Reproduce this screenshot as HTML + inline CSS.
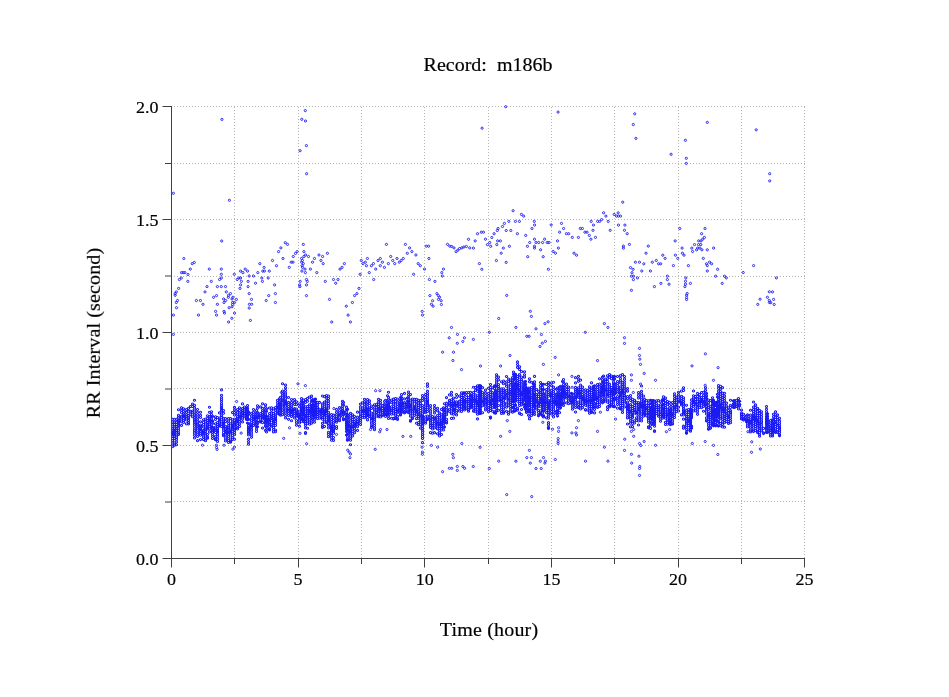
<!DOCTYPE html>
<html><head><meta charset="utf-8"><style>html,body{margin:0;padding:0;background:#fff;}svg{display:block;} text{will-change:transform;}</style></head>
<body><svg width="949" height="697" viewBox="0 0 949 697" shape-rendering="auto">
<g stroke="#b4b4b4" stroke-width="1" stroke-dasharray="1 2"><line x1="234.5" y1="107" x2="234.5" y2="558"/><line x1="298.5" y1="107" x2="298.5" y2="558"/><line x1="361.5" y1="107" x2="361.5" y2="558"/><line x1="424.5" y1="107" x2="424.5" y2="558"/><line x1="488.5" y1="107" x2="488.5" y2="558"/><line x1="551.5" y1="107" x2="551.5" y2="558"/><line x1="614.5" y1="107" x2="614.5" y2="558"/><line x1="678.5" y1="107" x2="678.5" y2="558"/><line x1="741.5" y1="107" x2="741.5" y2="558"/><line x1="804.5" y1="107" x2="804.5" y2="558"/><line x1="174" y1="163.5" x2="806" y2="163.5"/><line x1="174" y1="219.5" x2="806" y2="219.5"/><line x1="174" y1="276.5" x2="806" y2="276.5"/><line x1="174" y1="332.5" x2="806" y2="332.5"/><line x1="174" y1="388.5" x2="806" y2="388.5"/><line x1="174" y1="445.5" x2="806" y2="445.5"/><line x1="174" y1="501.5" x2="806" y2="501.5"/><line x1="174" y1="106.5" x2="806" y2="106.5"/></g><path fill="none" stroke="#1a1af2" stroke-width="1.05" d="M172.5 418.16a1.05 1.05 0 1 0 .01 0M172.5 420.91a1.05 1.05 0 1 0 .01 0M172.5 423.62a1.05 1.05 0 1 0 .01 0M172.5 425.67a1.05 1.05 0 1 0 .01 0M172.5 427.47a1.05 1.05 0 1 0 .01 0M172.5 429.31a1.05 1.05 0 1 0 .01 0M172.5 430.88a1.05 1.05 0 1 0 .01 0M172.5 432.51a1.05 1.05 0 1 0 .01 0M172.5 433.79a1.05 1.05 0 1 0 .01 0M172.5 435.49a1.05 1.05 0 1 0 .01 0M172.5 437.57a1.05 1.05 0 1 0 .01 0M172.5 439.63a1.05 1.05 0 1 0 .01 0M172.5 441.85a1.05 1.05 0 1 0 .01 0M172.5 443.95a1.05 1.05 0 1 0 .01 0M172.5 445.73a1.05 1.05 0 1 0 .01 0M174.5 418.16a1.05 1.05 0 1 0 .01 0M174.5 421.03a1.05 1.05 0 1 0 .01 0M174.5 423.44a1.05 1.05 0 1 0 .01 0M174.5 425.91a1.05 1.05 0 1 0 .01 0M174.5 427.81a1.05 1.05 0 1 0 .01 0M174.5 429.46a1.05 1.05 0 1 0 .01 0M174.5 430.93a1.05 1.05 0 1 0 .01 0M174.5 432.61a1.05 1.05 0 1 0 .01 0M174.5 434.00a1.05 1.05 0 1 0 .01 0M174.5 435.64a1.05 1.05 0 1 0 .01 0M174.5 437.56a1.05 1.05 0 1 0 .01 0M174.5 441.81a1.05 1.05 0 1 0 .01 0M174.5 444.11a1.05 1.05 0 1 0 .01 0M176.5 418.16a1.05 1.05 0 1 0 .01 0M176.5 421.13a1.05 1.05 0 1 0 .01 0M176.5 423.53a1.05 1.05 0 1 0 .01 0M176.5 425.82a1.05 1.05 0 1 0 .01 0M176.5 427.54a1.05 1.05 0 1 0 .01 0M176.5 429.48a1.05 1.05 0 1 0 .01 0M176.5 431.20a1.05 1.05 0 1 0 .01 0M176.5 433.02a1.05 1.05 0 1 0 .01 0M176.5 434.92a1.05 1.05 0 1 0 .01 0M176.5 436.66a1.05 1.05 0 1 0 .01 0M176.5 438.64a1.05 1.05 0 1 0 .01 0M176.5 440.96a1.05 1.05 0 1 0 .01 0M176.5 443.66a1.05 1.05 0 1 0 .01 0M178.5 408.66a1.05 1.05 0 1 0 .01 0M178.5 414.28a1.05 1.05 0 1 0 .01 0M178.5 416.23a1.05 1.05 0 1 0 .01 0M178.5 418.00a1.05 1.05 0 1 0 .01 0M178.5 419.64a1.05 1.05 0 1 0 .01 0M178.5 421.11a1.05 1.05 0 1 0 .01 0M178.5 422.61a1.05 1.05 0 1 0 .01 0M178.5 424.31a1.05 1.05 0 1 0 .01 0M178.5 425.98a1.05 1.05 0 1 0 .01 0M178.5 427.66a1.05 1.05 0 1 0 .01 0M178.5 429.75a1.05 1.05 0 1 0 .01 0M178.5 432.01a1.05 1.05 0 1 0 .01 0M178.5 433.48a1.05 1.05 0 1 0 .01 0M181.5 406.68a1.05 1.05 0 1 0 .01 0M181.5 409.14a1.05 1.05 0 1 0 .01 0M181.5 411.57a1.05 1.05 0 1 0 .01 0M181.5 415.20a1.05 1.05 0 1 0 .01 0M181.5 416.76a1.05 1.05 0 1 0 .01 0M181.5 418.70a1.05 1.05 0 1 0 .01 0M181.5 420.70a1.05 1.05 0 1 0 .01 0M181.5 424.35a1.05 1.05 0 1 0 .01 0M183.5 407.75a1.05 1.05 0 1 0 .01 0M183.5 410.31a1.05 1.05 0 1 0 .01 0M183.5 412.76a1.05 1.05 0 1 0 .01 0M183.5 414.38a1.05 1.05 0 1 0 .01 0M183.5 415.64a1.05 1.05 0 1 0 .01 0M183.5 417.59a1.05 1.05 0 1 0 .01 0M183.5 419.62a1.05 1.05 0 1 0 .01 0M183.5 421.46a1.05 1.05 0 1 0 .01 0M186.5 408.40a1.05 1.05 0 1 0 .01 0M186.5 411.10a1.05 1.05 0 1 0 .01 0M186.5 413.43a1.05 1.05 0 1 0 .01 0M186.5 415.36a1.05 1.05 0 1 0 .01 0M186.5 417.08a1.05 1.05 0 1 0 .01 0M186.5 418.98a1.05 1.05 0 1 0 .01 0M186.5 422.80a1.05 1.05 0 1 0 .01 0M188.5 407.31a1.05 1.05 0 1 0 .01 0M188.5 410.20a1.05 1.05 0 1 0 .01 0M188.5 414.39a1.05 1.05 0 1 0 .01 0M188.5 416.28a1.05 1.05 0 1 0 .01 0M188.5 417.71a1.05 1.05 0 1 0 .01 0M188.5 419.37a1.05 1.05 0 1 0 .01 0M188.5 421.51a1.05 1.05 0 1 0 .01 0M188.5 422.92a1.05 1.05 0 1 0 .01 0M190.5 405.53a1.05 1.05 0 1 0 .01 0M190.5 410.18a1.05 1.05 0 1 0 .01 0M190.5 411.74a1.05 1.05 0 1 0 .01 0M190.5 413.74a1.05 1.05 0 1 0 .01 0M192.5 402.91a1.05 1.05 0 1 0 .01 0M192.5 405.40a1.05 1.05 0 1 0 .01 0M192.5 409.92a1.05 1.05 0 1 0 .01 0M192.5 411.61a1.05 1.05 0 1 0 .01 0M192.5 415.68a1.05 1.05 0 1 0 .01 0M194.5 399.24a1.05 1.05 0 1 0 .01 0M194.5 404.31a1.05 1.05 0 1 0 .01 0M194.5 406.84a1.05 1.05 0 1 0 .01 0M194.5 408.95a1.05 1.05 0 1 0 .01 0M194.5 411.06a1.05 1.05 0 1 0 .01 0M194.5 413.21a1.05 1.05 0 1 0 .01 0M194.5 414.76a1.05 1.05 0 1 0 .01 0M194.5 416.61a1.05 1.05 0 1 0 .01 0M194.5 418.44a1.05 1.05 0 1 0 .01 0M194.5 420.06a1.05 1.05 0 1 0 .01 0M194.5 421.88a1.05 1.05 0 1 0 .01 0M194.5 423.63a1.05 1.05 0 1 0 .01 0M194.5 425.68a1.05 1.05 0 1 0 .01 0M194.5 427.90a1.05 1.05 0 1 0 .01 0M194.5 429.80a1.05 1.05 0 1 0 .01 0M194.5 431.84a1.05 1.05 0 1 0 .01 0M194.5 434.23a1.05 1.05 0 1 0 .01 0M194.5 436.89a1.05 1.05 0 1 0 .01 0M197.5 408.40a1.05 1.05 0 1 0 .01 0M197.5 411.17a1.05 1.05 0 1 0 .01 0M197.5 413.66a1.05 1.05 0 1 0 .01 0M197.5 415.96a1.05 1.05 0 1 0 .01 0M197.5 418.20a1.05 1.05 0 1 0 .01 0M197.5 420.12a1.05 1.05 0 1 0 .01 0M197.5 421.94a1.05 1.05 0 1 0 .01 0M197.5 423.58a1.05 1.05 0 1 0 .01 0M197.5 425.38a1.05 1.05 0 1 0 .01 0M197.5 427.11a1.05 1.05 0 1 0 .01 0M197.5 429.07a1.05 1.05 0 1 0 .01 0M197.5 431.22a1.05 1.05 0 1 0 .01 0M197.5 433.13a1.05 1.05 0 1 0 .01 0M197.5 435.37a1.05 1.05 0 1 0 .01 0M197.5 439.64a1.05 1.05 0 1 0 .01 0M200.5 411.26a1.05 1.05 0 1 0 .01 0M200.5 414.16a1.05 1.05 0 1 0 .01 0M200.5 416.40a1.05 1.05 0 1 0 .01 0M200.5 420.67a1.05 1.05 0 1 0 .01 0M200.5 423.97a1.05 1.05 0 1 0 .01 0M200.5 425.45a1.05 1.05 0 1 0 .01 0M200.5 427.13a1.05 1.05 0 1 0 .01 0M200.5 428.54a1.05 1.05 0 1 0 .01 0M200.5 430.39a1.05 1.05 0 1 0 .01 0M200.5 432.34a1.05 1.05 0 1 0 .01 0M200.5 434.21a1.05 1.05 0 1 0 .01 0M200.5 438.50a1.05 1.05 0 1 0 .01 0M203.5 418.73a1.05 1.05 0 1 0 .01 0M203.5 421.33a1.05 1.05 0 1 0 .01 0M203.5 423.58a1.05 1.05 0 1 0 .01 0M203.5 425.87a1.05 1.05 0 1 0 .01 0M203.5 429.39a1.05 1.05 0 1 0 .01 0M203.5 430.84a1.05 1.05 0 1 0 .01 0M203.5 432.32a1.05 1.05 0 1 0 .01 0M203.5 434.03a1.05 1.05 0 1 0 .01 0M203.5 436.04a1.05 1.05 0 1 0 .01 0M203.5 438.51a1.05 1.05 0 1 0 .01 0M205.5 417.95a1.05 1.05 0 1 0 .01 0M205.5 420.67a1.05 1.05 0 1 0 .01 0M205.5 422.89a1.05 1.05 0 1 0 .01 0M205.5 425.01a1.05 1.05 0 1 0 .01 0M205.5 427.03a1.05 1.05 0 1 0 .01 0M205.5 428.59a1.05 1.05 0 1 0 .01 0M205.5 430.29a1.05 1.05 0 1 0 .01 0M205.5 432.26a1.05 1.05 0 1 0 .01 0M205.5 433.86a1.05 1.05 0 1 0 .01 0M205.5 437.89a1.05 1.05 0 1 0 .01 0M205.5 439.64a1.05 1.05 0 1 0 .01 0M207.5 414.66a1.05 1.05 0 1 0 .01 0M207.5 417.30a1.05 1.05 0 1 0 .01 0M207.5 419.63a1.05 1.05 0 1 0 .01 0M207.5 421.53a1.05 1.05 0 1 0 .01 0M207.5 423.28a1.05 1.05 0 1 0 .01 0M207.5 424.80a1.05 1.05 0 1 0 .01 0M207.5 426.56a1.05 1.05 0 1 0 .01 0M207.5 427.98a1.05 1.05 0 1 0 .01 0M207.5 433.40a1.05 1.05 0 1 0 .01 0M207.5 435.92a1.05 1.05 0 1 0 .01 0M207.5 437.17a1.05 1.05 0 1 0 .01 0M209.5 406.15a1.05 1.05 0 1 0 .01 0M209.5 411.26a1.05 1.05 0 1 0 .01 0M209.5 415.48a1.05 1.05 0 1 0 .01 0M209.5 417.03a1.05 1.05 0 1 0 .01 0M209.5 418.86a1.05 1.05 0 1 0 .01 0M209.5 420.18a1.05 1.05 0 1 0 .01 0M209.5 421.90a1.05 1.05 0 1 0 .01 0M209.5 423.66a1.05 1.05 0 1 0 .01 0M209.5 425.55a1.05 1.05 0 1 0 .01 0M209.5 427.81a1.05 1.05 0 1 0 .01 0M209.5 430.84a1.05 1.05 0 1 0 .01 0M211.5 410.70a1.05 1.05 0 1 0 .01 0M211.5 413.40a1.05 1.05 0 1 0 .01 0M211.5 415.87a1.05 1.05 0 1 0 .01 0M211.5 417.92a1.05 1.05 0 1 0 .01 0M211.5 419.66a1.05 1.05 0 1 0 .01 0M211.5 421.45a1.05 1.05 0 1 0 .01 0M211.5 423.71a1.05 1.05 0 1 0 .01 0M211.5 425.66a1.05 1.05 0 1 0 .01 0M212.5 415.29a1.05 1.05 0 1 0 .01 0M212.5 420.10a1.05 1.05 0 1 0 .01 0M212.5 422.47a1.05 1.05 0 1 0 .01 0M212.5 426.27a1.05 1.05 0 1 0 .01 0M212.5 427.83a1.05 1.05 0 1 0 .01 0M212.5 429.56a1.05 1.05 0 1 0 .01 0M212.5 431.11a1.05 1.05 0 1 0 .01 0M212.5 433.23a1.05 1.05 0 1 0 .01 0M212.5 435.28a1.05 1.05 0 1 0 .01 0M212.5 437.45a1.05 1.05 0 1 0 .01 0M215.5 415.79a1.05 1.05 0 1 0 .01 0M215.5 418.37a1.05 1.05 0 1 0 .01 0M215.5 422.72a1.05 1.05 0 1 0 .01 0M215.5 426.07a1.05 1.05 0 1 0 .01 0M215.5 427.79a1.05 1.05 0 1 0 .01 0M215.5 429.47a1.05 1.05 0 1 0 .01 0M215.5 431.32a1.05 1.05 0 1 0 .01 0M215.5 435.27a1.05 1.05 0 1 0 .01 0M215.5 437.60a1.05 1.05 0 1 0 .01 0M215.5 438.57a1.05 1.05 0 1 0 .01 0M217.5 416.44a1.05 1.05 0 1 0 .01 0M217.5 421.50a1.05 1.05 0 1 0 .01 0M217.5 423.56a1.05 1.05 0 1 0 .01 0M217.5 425.48a1.05 1.05 0 1 0 .01 0M217.5 427.35a1.05 1.05 0 1 0 .01 0M217.5 429.06a1.05 1.05 0 1 0 .01 0M217.5 430.47a1.05 1.05 0 1 0 .01 0M217.5 431.91a1.05 1.05 0 1 0 .01 0M217.5 433.65a1.05 1.05 0 1 0 .01 0M217.5 435.64a1.05 1.05 0 1 0 .01 0M217.5 438.05a1.05 1.05 0 1 0 .01 0M217.5 440.40a1.05 1.05 0 1 0 .01 0M219.5 411.85a1.05 1.05 0 1 0 .01 0M219.5 417.04a1.05 1.05 0 1 0 .01 0M219.5 418.70a1.05 1.05 0 1 0 .01 0M219.5 420.22a1.05 1.05 0 1 0 .01 0M219.5 421.94a1.05 1.05 0 1 0 .01 0M219.5 423.83a1.05 1.05 0 1 0 .01 0M219.5 424.82a1.05 1.05 0 1 0 .01 0M221.5 388.88a1.05 1.05 0 1 0 .01 0M221.5 394.28a1.05 1.05 0 1 0 .01 0M221.5 396.65a1.05 1.05 0 1 0 .01 0M221.5 398.67a1.05 1.05 0 1 0 .01 0M221.5 400.47a1.05 1.05 0 1 0 .01 0M221.5 402.67a1.05 1.05 0 1 0 .01 0M221.5 404.42a1.05 1.05 0 1 0 .01 0M221.5 406.17a1.05 1.05 0 1 0 .01 0M221.5 407.52a1.05 1.05 0 1 0 .01 0M221.5 409.26a1.05 1.05 0 1 0 .01 0M221.5 410.89a1.05 1.05 0 1 0 .01 0M221.5 412.88a1.05 1.05 0 1 0 .01 0M221.5 414.78a1.05 1.05 0 1 0 .01 0M221.5 416.58a1.05 1.05 0 1 0 .01 0M221.5 418.65a1.05 1.05 0 1 0 .01 0M221.5 420.77a1.05 1.05 0 1 0 .01 0M221.5 423.01a1.05 1.05 0 1 0 .01 0M221.5 425.49a1.05 1.05 0 1 0 .01 0M223.5 409.40a1.05 1.05 0 1 0 .01 0M223.5 412.15a1.05 1.05 0 1 0 .01 0M223.5 417.15a1.05 1.05 0 1 0 .01 0M223.5 419.06a1.05 1.05 0 1 0 .01 0M223.5 420.79a1.05 1.05 0 1 0 .01 0M223.5 422.42a1.05 1.05 0 1 0 .01 0M223.5 423.88a1.05 1.05 0 1 0 .01 0M223.5 425.47a1.05 1.05 0 1 0 .01 0M223.5 427.03a1.05 1.05 0 1 0 .01 0M223.5 428.88a1.05 1.05 0 1 0 .01 0M223.5 431.32a1.05 1.05 0 1 0 .01 0M223.5 433.49a1.05 1.05 0 1 0 .01 0M223.5 434.57a1.05 1.05 0 1 0 .01 0M225.5 417.59a1.05 1.05 0 1 0 .01 0M225.5 420.54a1.05 1.05 0 1 0 .01 0M225.5 425.30a1.05 1.05 0 1 0 .01 0M225.5 427.15a1.05 1.05 0 1 0 .01 0M225.5 428.79a1.05 1.05 0 1 0 .01 0M225.5 430.46a1.05 1.05 0 1 0 .01 0M225.5 431.98a1.05 1.05 0 1 0 .01 0M225.5 433.62a1.05 1.05 0 1 0 .01 0M225.5 435.93a1.05 1.05 0 1 0 .01 0M225.5 437.97a1.05 1.05 0 1 0 .01 0M225.5 439.88a1.05 1.05 0 1 0 .01 0M228.5 417.59a1.05 1.05 0 1 0 .01 0M228.5 420.05a1.05 1.05 0 1 0 .01 0M228.5 422.38a1.05 1.05 0 1 0 .01 0M228.5 424.86a1.05 1.05 0 1 0 .01 0M228.5 426.64a1.05 1.05 0 1 0 .01 0M228.5 428.28a1.05 1.05 0 1 0 .01 0M228.5 430.08a1.05 1.05 0 1 0 .01 0M228.5 431.34a1.05 1.05 0 1 0 .01 0M228.5 433.05a1.05 1.05 0 1 0 .01 0M228.5 435.21a1.05 1.05 0 1 0 .01 0M228.5 437.15a1.05 1.05 0 1 0 .01 0M228.5 439.32a1.05 1.05 0 1 0 .01 0M228.5 441.37a1.05 1.05 0 1 0 .01 0M230.5 417.59a1.05 1.05 0 1 0 .01 0M230.5 422.78a1.05 1.05 0 1 0 .01 0M230.5 426.92a1.05 1.05 0 1 0 .01 0M230.5 428.82a1.05 1.05 0 1 0 .01 0M230.5 430.38a1.05 1.05 0 1 0 .01 0M230.5 431.80a1.05 1.05 0 1 0 .01 0M230.5 433.82a1.05 1.05 0 1 0 .01 0M230.5 437.99a1.05 1.05 0 1 0 .01 0M230.5 440.19a1.05 1.05 0 1 0 .01 0M230.5 441.24a1.05 1.05 0 1 0 .01 0M232.5 411.50a1.05 1.05 0 1 0 .01 0M232.5 418.80a1.05 1.05 0 1 0 .01 0M232.5 420.98a1.05 1.05 0 1 0 .01 0M232.5 422.72a1.05 1.05 0 1 0 .01 0M232.5 424.19a1.05 1.05 0 1 0 .01 0M232.5 425.51a1.05 1.05 0 1 0 .01 0M232.5 426.86a1.05 1.05 0 1 0 .01 0M232.5 428.34a1.05 1.05 0 1 0 .01 0M232.5 430.23a1.05 1.05 0 1 0 .01 0M232.5 432.21a1.05 1.05 0 1 0 .01 0M232.5 434.33a1.05 1.05 0 1 0 .01 0M232.5 436.54a1.05 1.05 0 1 0 .01 0M232.5 438.50a1.05 1.05 0 1 0 .01 0M234.5 406.35a1.05 1.05 0 1 0 .01 0M234.5 408.94a1.05 1.05 0 1 0 .01 0M234.5 411.59a1.05 1.05 0 1 0 .01 0M234.5 413.89a1.05 1.05 0 1 0 .01 0M234.5 417.92a1.05 1.05 0 1 0 .01 0M234.5 419.83a1.05 1.05 0 1 0 .01 0M234.5 421.47a1.05 1.05 0 1 0 .01 0M234.5 422.97a1.05 1.05 0 1 0 .01 0M234.5 424.48a1.05 1.05 0 1 0 .01 0M234.5 426.32a1.05 1.05 0 1 0 .01 0M234.5 427.85a1.05 1.05 0 1 0 .01 0M234.5 429.57a1.05 1.05 0 1 0 .01 0M234.5 431.34a1.05 1.05 0 1 0 .01 0M234.5 433.57a1.05 1.05 0 1 0 .01 0M234.5 438.22a1.05 1.05 0 1 0 .01 0M237.5 408.40a1.05 1.05 0 1 0 .01 0M237.5 411.10a1.05 1.05 0 1 0 .01 0M237.5 413.17a1.05 1.05 0 1 0 .01 0M237.5 415.54a1.05 1.05 0 1 0 .01 0M237.5 417.24a1.05 1.05 0 1 0 .01 0M237.5 418.97a1.05 1.05 0 1 0 .01 0M237.5 420.36a1.05 1.05 0 1 0 .01 0M237.5 421.98a1.05 1.05 0 1 0 .01 0M237.5 424.17a1.05 1.05 0 1 0 .01 0M237.5 426.39a1.05 1.05 0 1 0 .01 0M237.5 427.84a1.05 1.05 0 1 0 .01 0M239.5 406.68a1.05 1.05 0 1 0 .01 0M239.5 409.38a1.05 1.05 0 1 0 .01 0M239.5 411.86a1.05 1.05 0 1 0 .01 0M239.5 413.86a1.05 1.05 0 1 0 .01 0M239.5 415.48a1.05 1.05 0 1 0 .01 0M239.5 417.01a1.05 1.05 0 1 0 .01 0M239.5 418.70a1.05 1.05 0 1 0 .01 0M239.5 420.64a1.05 1.05 0 1 0 .01 0M239.5 422.88a1.05 1.05 0 1 0 .01 0M239.5 425.42a1.05 1.05 0 1 0 .01 0M242.5 402.83a1.05 1.05 0 1 0 .01 0M242.5 407.44a1.05 1.05 0 1 0 .01 0M242.5 409.38a1.05 1.05 0 1 0 .01 0M242.5 411.06a1.05 1.05 0 1 0 .01 0M242.5 412.68a1.05 1.05 0 1 0 .01 0M242.5 414.38a1.05 1.05 0 1 0 .01 0M242.5 415.97a1.05 1.05 0 1 0 .01 0M242.5 418.00a1.05 1.05 0 1 0 .01 0M242.5 420.89a1.05 1.05 0 1 0 .01 0M244.5 405.99a1.05 1.05 0 1 0 .01 0M244.5 408.96a1.05 1.05 0 1 0 .01 0M244.5 410.69a1.05 1.05 0 1 0 .01 0M244.5 412.28a1.05 1.05 0 1 0 .01 0M244.5 414.21a1.05 1.05 0 1 0 .01 0M244.5 415.70a1.05 1.05 0 1 0 .01 0M246.5 407.25a1.05 1.05 0 1 0 .01 0M246.5 409.90a1.05 1.05 0 1 0 .01 0M246.5 411.95a1.05 1.05 0 1 0 .01 0M246.5 413.71a1.05 1.05 0 1 0 .01 0M246.5 415.15a1.05 1.05 0 1 0 .01 0M246.5 416.88a1.05 1.05 0 1 0 .01 0M246.5 418.34a1.05 1.05 0 1 0 .01 0M247.5 404.55a1.05 1.05 0 1 0 .01 0M247.5 407.12a1.05 1.05 0 1 0 .01 0M247.5 409.35a1.05 1.05 0 1 0 .01 0M247.5 411.66a1.05 1.05 0 1 0 .01 0M247.5 413.26a1.05 1.05 0 1 0 .01 0M247.5 414.81a1.05 1.05 0 1 0 .01 0M247.5 416.44a1.05 1.05 0 1 0 .01 0M247.5 418.33a1.05 1.05 0 1 0 .01 0M247.5 421.91a1.05 1.05 0 1 0 .01 0M248.5 411.09a1.05 1.05 0 1 0 .01 0M248.5 413.53a1.05 1.05 0 1 0 .01 0M248.5 418.36a1.05 1.05 0 1 0 .01 0M248.5 422.49a1.05 1.05 0 1 0 .01 0M248.5 424.60a1.05 1.05 0 1 0 .01 0M248.5 426.43a1.05 1.05 0 1 0 .01 0M248.5 427.78a1.05 1.05 0 1 0 .01 0M248.5 429.24a1.05 1.05 0 1 0 .01 0M248.5 430.70a1.05 1.05 0 1 0 .01 0M248.5 432.27a1.05 1.05 0 1 0 .01 0M248.5 433.90a1.05 1.05 0 1 0 .01 0M248.5 438.14a1.05 1.05 0 1 0 .01 0M248.5 440.65a1.05 1.05 0 1 0 .01 0M248.5 443.11a1.05 1.05 0 1 0 .01 0M251.5 412.28a1.05 1.05 0 1 0 .01 0M251.5 414.91a1.05 1.05 0 1 0 .01 0M251.5 417.12a1.05 1.05 0 1 0 .01 0M251.5 419.19a1.05 1.05 0 1 0 .01 0M251.5 421.33a1.05 1.05 0 1 0 .01 0M251.5 423.36a1.05 1.05 0 1 0 .01 0M251.5 424.68a1.05 1.05 0 1 0 .01 0M251.5 426.26a1.05 1.05 0 1 0 .01 0M251.5 428.11a1.05 1.05 0 1 0 .01 0M251.5 429.72a1.05 1.05 0 1 0 .01 0M251.5 431.96a1.05 1.05 0 1 0 .01 0M251.5 434.00a1.05 1.05 0 1 0 .01 0M251.5 436.27a1.05 1.05 0 1 0 .01 0M253.5 408.40a1.05 1.05 0 1 0 .01 0M253.5 411.30a1.05 1.05 0 1 0 .01 0M253.5 413.75a1.05 1.05 0 1 0 .01 0M253.5 415.58a1.05 1.05 0 1 0 .01 0M253.5 416.94a1.05 1.05 0 1 0 .01 0M253.5 418.44a1.05 1.05 0 1 0 .01 0M253.5 420.18a1.05 1.05 0 1 0 .01 0M253.5 422.44a1.05 1.05 0 1 0 .01 0M253.5 424.29a1.05 1.05 0 1 0 .01 0M256.5 409.55a1.05 1.05 0 1 0 .01 0M256.5 412.32a1.05 1.05 0 1 0 .01 0M256.5 414.81a1.05 1.05 0 1 0 .01 0M256.5 416.67a1.05 1.05 0 1 0 .01 0M256.5 418.33a1.05 1.05 0 1 0 .01 0M256.5 420.24a1.05 1.05 0 1 0 .01 0M256.5 421.65a1.05 1.05 0 1 0 .01 0M256.5 423.54a1.05 1.05 0 1 0 .01 0M256.5 425.63a1.05 1.05 0 1 0 .01 0M256.5 427.90a1.05 1.05 0 1 0 .01 0M256.5 430.33a1.05 1.05 0 1 0 .01 0M257.5 404.78a1.05 1.05 0 1 0 .01 0M257.5 407.21a1.05 1.05 0 1 0 .01 0M257.5 411.40a1.05 1.05 0 1 0 .01 0M257.5 413.60a1.05 1.05 0 1 0 .01 0M257.5 415.40a1.05 1.05 0 1 0 .01 0M257.5 417.15a1.05 1.05 0 1 0 .01 0M257.5 420.74a1.05 1.05 0 1 0 .01 0M257.5 422.64a1.05 1.05 0 1 0 .01 0M257.5 425.70a1.05 1.05 0 1 0 .01 0M260.5 405.89a1.05 1.05 0 1 0 .01 0M260.5 412.52a1.05 1.05 0 1 0 .01 0M260.5 414.43a1.05 1.05 0 1 0 .01 0M260.5 415.98a1.05 1.05 0 1 0 .01 0M260.5 417.90a1.05 1.05 0 1 0 .01 0M260.5 420.01a1.05 1.05 0 1 0 .01 0M260.5 420.87a1.05 1.05 0 1 0 .01 0M262.5 402.76a1.05 1.05 0 1 0 .01 0M262.5 407.38a1.05 1.05 0 1 0 .01 0M262.5 409.66a1.05 1.05 0 1 0 .01 0M262.5 411.56a1.05 1.05 0 1 0 .01 0M262.5 413.40a1.05 1.05 0 1 0 .01 0M262.5 415.07a1.05 1.05 0 1 0 .01 0M262.5 416.53a1.05 1.05 0 1 0 .01 0M262.5 418.08a1.05 1.05 0 1 0 .01 0M262.5 421.57a1.05 1.05 0 1 0 .01 0M262.5 427.01a1.05 1.05 0 1 0 .01 0M265.5 403.81a1.05 1.05 0 1 0 .01 0M265.5 406.36a1.05 1.05 0 1 0 .01 0M265.5 409.06a1.05 1.05 0 1 0 .01 0M265.5 411.01a1.05 1.05 0 1 0 .01 0M265.5 413.06a1.05 1.05 0 1 0 .01 0M265.5 414.85a1.05 1.05 0 1 0 .01 0M265.5 416.38a1.05 1.05 0 1 0 .01 0M265.5 417.65a1.05 1.05 0 1 0 .01 0M265.5 419.40a1.05 1.05 0 1 0 .01 0M265.5 420.84a1.05 1.05 0 1 0 .01 0M265.5 422.74a1.05 1.05 0 1 0 .01 0M265.5 425.05a1.05 1.05 0 1 0 .01 0M265.5 429.37a1.05 1.05 0 1 0 .01 0M266.5 407.78a1.05 1.05 0 1 0 .01 0M266.5 410.25a1.05 1.05 0 1 0 .01 0M266.5 415.35a1.05 1.05 0 1 0 .01 0M266.5 417.53a1.05 1.05 0 1 0 .01 0M266.5 419.07a1.05 1.05 0 1 0 .01 0M266.5 420.33a1.05 1.05 0 1 0 .01 0M266.5 422.02a1.05 1.05 0 1 0 .01 0M266.5 423.90a1.05 1.05 0 1 0 .01 0M266.5 425.99a1.05 1.05 0 1 0 .01 0M266.5 428.43a1.05 1.05 0 1 0 .01 0M266.5 430.89a1.05 1.05 0 1 0 .01 0M269.5 406.90a1.05 1.05 0 1 0 .01 0M269.5 412.45a1.05 1.05 0 1 0 .01 0M269.5 414.83a1.05 1.05 0 1 0 .01 0M269.5 416.87a1.05 1.05 0 1 0 .01 0M269.5 418.50a1.05 1.05 0 1 0 .01 0M269.5 420.05a1.05 1.05 0 1 0 .01 0M269.5 421.81a1.05 1.05 0 1 0 .01 0M269.5 423.44a1.05 1.05 0 1 0 .01 0M269.5 425.26a1.05 1.05 0 1 0 .01 0M269.5 427.84a1.05 1.05 0 1 0 .01 0M269.5 428.87a1.05 1.05 0 1 0 .01 0M271.5 406.83a1.05 1.05 0 1 0 .01 0M271.5 409.25a1.05 1.05 0 1 0 .01 0M271.5 411.85a1.05 1.05 0 1 0 .01 0M271.5 414.04a1.05 1.05 0 1 0 .01 0M271.5 415.61a1.05 1.05 0 1 0 .01 0M271.5 417.42a1.05 1.05 0 1 0 .01 0M271.5 419.14a1.05 1.05 0 1 0 .01 0M271.5 423.58a1.05 1.05 0 1 0 .01 0M271.5 425.03a1.05 1.05 0 1 0 .01 0M273.5 407.70a1.05 1.05 0 1 0 .01 0M273.5 412.36a1.05 1.05 0 1 0 .01 0M273.5 414.73a1.05 1.05 0 1 0 .01 0M273.5 416.52a1.05 1.05 0 1 0 .01 0M273.5 418.20a1.05 1.05 0 1 0 .01 0M273.5 419.76a1.05 1.05 0 1 0 .01 0M273.5 421.03a1.05 1.05 0 1 0 .01 0M273.5 422.57a1.05 1.05 0 1 0 .01 0M273.5 424.28a1.05 1.05 0 1 0 .01 0M273.5 426.43a1.05 1.05 0 1 0 .01 0M273.5 428.60a1.05 1.05 0 1 0 .01 0M273.5 430.80a1.05 1.05 0 1 0 .01 0M275.5 406.55a1.05 1.05 0 1 0 .01 0M275.5 409.26a1.05 1.05 0 1 0 .01 0M275.5 411.57a1.05 1.05 0 1 0 .01 0M275.5 413.92a1.05 1.05 0 1 0 .01 0M275.5 415.61a1.05 1.05 0 1 0 .01 0M275.5 417.32a1.05 1.05 0 1 0 .01 0M275.5 418.70a1.05 1.05 0 1 0 .01 0M275.5 420.33a1.05 1.05 0 1 0 .01 0M275.5 422.20a1.05 1.05 0 1 0 .01 0M275.5 424.34a1.05 1.05 0 1 0 .01 0M275.5 429.03a1.05 1.05 0 1 0 .01 0M275.5 430.61a1.05 1.05 0 1 0 .01 0M277.5 399.31a1.05 1.05 0 1 0 .01 0M277.5 401.77a1.05 1.05 0 1 0 .01 0M277.5 404.24a1.05 1.05 0 1 0 .01 0M277.5 405.74a1.05 1.05 0 1 0 .01 0M277.5 407.06a1.05 1.05 0 1 0 .01 0M277.5 408.66a1.05 1.05 0 1 0 .01 0M277.5 410.95a1.05 1.05 0 1 0 .01 0M277.5 412.15a1.05 1.05 0 1 0 .01 0M279.5 397.72a1.05 1.05 0 1 0 .01 0M279.5 400.57a1.05 1.05 0 1 0 .01 0M279.5 402.63a1.05 1.05 0 1 0 .01 0M279.5 404.54a1.05 1.05 0 1 0 .01 0M279.5 406.37a1.05 1.05 0 1 0 .01 0M279.5 408.03a1.05 1.05 0 1 0 .01 0M279.5 409.69a1.05 1.05 0 1 0 .01 0M279.5 411.79a1.05 1.05 0 1 0 .01 0M279.5 413.42a1.05 1.05 0 1 0 .01 0M280.5 396.22a1.05 1.05 0 1 0 .01 0M280.5 398.76a1.05 1.05 0 1 0 .01 0M280.5 401.39a1.05 1.05 0 1 0 .01 0M280.5 403.25a1.05 1.05 0 1 0 .01 0M280.5 405.29a1.05 1.05 0 1 0 .01 0M280.5 407.10a1.05 1.05 0 1 0 .01 0M280.5 408.65a1.05 1.05 0 1 0 .01 0M280.5 410.71a1.05 1.05 0 1 0 .01 0M280.5 414.17a1.05 1.05 0 1 0 .01 0M282.5 382.74a1.05 1.05 0 1 0 .01 0M282.5 390.06a1.05 1.05 0 1 0 .01 0M282.5 392.26a1.05 1.05 0 1 0 .01 0M282.5 394.16a1.05 1.05 0 1 0 .01 0M282.5 396.12a1.05 1.05 0 1 0 .01 0M282.5 398.03a1.05 1.05 0 1 0 .01 0M282.5 399.50a1.05 1.05 0 1 0 .01 0M282.5 401.15a1.05 1.05 0 1 0 .01 0M282.5 403.02a1.05 1.05 0 1 0 .01 0M282.5 404.85a1.05 1.05 0 1 0 .01 0M282.5 406.70a1.05 1.05 0 1 0 .01 0M282.5 408.99a1.05 1.05 0 1 0 .01 0M282.5 411.56a1.05 1.05 0 1 0 .01 0M282.5 413.68a1.05 1.05 0 1 0 .01 0M285.5 384.00a1.05 1.05 0 1 0 .01 0M285.5 386.79a1.05 1.05 0 1 0 .01 0M285.5 389.51a1.05 1.05 0 1 0 .01 0M285.5 392.05a1.05 1.05 0 1 0 .01 0M285.5 394.06a1.05 1.05 0 1 0 .01 0M285.5 395.74a1.05 1.05 0 1 0 .01 0M285.5 397.79a1.05 1.05 0 1 0 .01 0M285.5 399.73a1.05 1.05 0 1 0 .01 0M285.5 401.06a1.05 1.05 0 1 0 .01 0M285.5 402.44a1.05 1.05 0 1 0 .01 0M285.5 403.91a1.05 1.05 0 1 0 .01 0M285.5 405.78a1.05 1.05 0 1 0 .01 0M285.5 407.93a1.05 1.05 0 1 0 .01 0M285.5 409.79a1.05 1.05 0 1 0 .01 0M285.5 411.87a1.05 1.05 0 1 0 .01 0M285.5 414.39a1.05 1.05 0 1 0 .01 0M285.5 416.87a1.05 1.05 0 1 0 .01 0M288.5 396.48a1.05 1.05 0 1 0 .01 0M288.5 401.36a1.05 1.05 0 1 0 .01 0M288.5 403.36a1.05 1.05 0 1 0 .01 0M288.5 405.45a1.05 1.05 0 1 0 .01 0M288.5 407.42a1.05 1.05 0 1 0 .01 0M288.5 408.94a1.05 1.05 0 1 0 .01 0M288.5 410.45a1.05 1.05 0 1 0 .01 0M288.5 412.47a1.05 1.05 0 1 0 .01 0M288.5 414.46a1.05 1.05 0 1 0 .01 0M288.5 418.27a1.05 1.05 0 1 0 .01 0M291.5 398.46a1.05 1.05 0 1 0 .01 0M291.5 401.37a1.05 1.05 0 1 0 .01 0M291.5 403.60a1.05 1.05 0 1 0 .01 0M291.5 405.65a1.05 1.05 0 1 0 .01 0M291.5 407.39a1.05 1.05 0 1 0 .01 0M291.5 409.03a1.05 1.05 0 1 0 .01 0M291.5 410.35a1.05 1.05 0 1 0 .01 0M291.5 411.70a1.05 1.05 0 1 0 .01 0M291.5 413.62a1.05 1.05 0 1 0 .01 0M291.5 415.51a1.05 1.05 0 1 0 .01 0M291.5 419.69a1.05 1.05 0 1 0 .01 0M294.5 398.53a1.05 1.05 0 1 0 .01 0M294.5 401.10a1.05 1.05 0 1 0 .01 0M294.5 403.53a1.05 1.05 0 1 0 .01 0M294.5 407.62a1.05 1.05 0 1 0 .01 0M294.5 408.95a1.05 1.05 0 1 0 .01 0M294.5 410.57a1.05 1.05 0 1 0 .01 0M294.5 412.61a1.05 1.05 0 1 0 .01 0M294.5 414.57a1.05 1.05 0 1 0 .01 0M294.5 416.90a1.05 1.05 0 1 0 .01 0M296.5 400.66a1.05 1.05 0 1 0 .01 0M296.5 403.59a1.05 1.05 0 1 0 .01 0M296.5 408.05a1.05 1.05 0 1 0 .01 0M296.5 409.85a1.05 1.05 0 1 0 .01 0M296.5 411.41a1.05 1.05 0 1 0 .01 0M296.5 413.03a1.05 1.05 0 1 0 .01 0M296.5 414.31a1.05 1.05 0 1 0 .01 0M296.5 415.95a1.05 1.05 0 1 0 .01 0M296.5 419.57a1.05 1.05 0 1 0 .01 0M296.5 421.76a1.05 1.05 0 1 0 .01 0M296.5 424.20a1.05 1.05 0 1 0 .01 0M299.5 402.80a1.05 1.05 0 1 0 .01 0M299.5 405.68a1.05 1.05 0 1 0 .01 0M299.5 409.98a1.05 1.05 0 1 0 .01 0M299.5 412.06a1.05 1.05 0 1 0 .01 0M299.5 413.55a1.05 1.05 0 1 0 .01 0M299.5 414.93a1.05 1.05 0 1 0 .01 0M299.5 416.48a1.05 1.05 0 1 0 .01 0M299.5 418.02a1.05 1.05 0 1 0 .01 0M299.5 419.71a1.05 1.05 0 1 0 .01 0M299.5 421.93a1.05 1.05 0 1 0 .01 0M299.5 425.15a1.05 1.05 0 1 0 .01 0M301.5 397.59a1.05 1.05 0 1 0 .01 0M301.5 400.11a1.05 1.05 0 1 0 .01 0M301.5 402.67a1.05 1.05 0 1 0 .01 0M301.5 404.61a1.05 1.05 0 1 0 .01 0M301.5 406.86a1.05 1.05 0 1 0 .01 0M301.5 408.33a1.05 1.05 0 1 0 .01 0M301.5 410.20a1.05 1.05 0 1 0 .01 0M301.5 411.77a1.05 1.05 0 1 0 .01 0M301.5 413.59a1.05 1.05 0 1 0 .01 0M301.5 415.52a1.05 1.05 0 1 0 .01 0M301.5 417.76a1.05 1.05 0 1 0 .01 0M301.5 420.12a1.05 1.05 0 1 0 .01 0M302.5 400.91a1.05 1.05 0 1 0 .01 0M302.5 403.41a1.05 1.05 0 1 0 .01 0M302.5 405.87a1.05 1.05 0 1 0 .01 0M302.5 408.10a1.05 1.05 0 1 0 .01 0M302.5 409.76a1.05 1.05 0 1 0 .01 0M302.5 411.04a1.05 1.05 0 1 0 .01 0M302.5 413.00a1.05 1.05 0 1 0 .01 0M302.5 414.68a1.05 1.05 0 1 0 .01 0M302.5 417.11a1.05 1.05 0 1 0 .01 0M302.5 418.27a1.05 1.05 0 1 0 .01 0M303.5 399.09a1.05 1.05 0 1 0 .01 0M303.5 401.74a1.05 1.05 0 1 0 .01 0M303.5 404.26a1.05 1.05 0 1 0 .01 0M303.5 406.32a1.05 1.05 0 1 0 .01 0M303.5 407.96a1.05 1.05 0 1 0 .01 0M303.5 409.77a1.05 1.05 0 1 0 .01 0M303.5 411.34a1.05 1.05 0 1 0 .01 0M303.5 413.30a1.05 1.05 0 1 0 .01 0M303.5 419.67a1.05 1.05 0 1 0 .01 0M303.5 420.57a1.05 1.05 0 1 0 .01 0M305.5 398.47a1.05 1.05 0 1 0 .01 0M305.5 401.31a1.05 1.05 0 1 0 .01 0M305.5 405.68a1.05 1.05 0 1 0 .01 0M305.5 408.04a1.05 1.05 0 1 0 .01 0M305.5 410.19a1.05 1.05 0 1 0 .01 0M305.5 412.27a1.05 1.05 0 1 0 .01 0M305.5 414.13a1.05 1.05 0 1 0 .01 0M305.5 415.47a1.05 1.05 0 1 0 .01 0M305.5 417.05a1.05 1.05 0 1 0 .01 0M305.5 418.79a1.05 1.05 0 1 0 .01 0M305.5 420.51a1.05 1.05 0 1 0 .01 0M305.5 422.63a1.05 1.05 0 1 0 .01 0M305.5 424.50a1.05 1.05 0 1 0 .01 0M305.5 426.93a1.05 1.05 0 1 0 .01 0M305.5 431.57a1.05 1.05 0 1 0 .01 0M305.5 432.31a1.05 1.05 0 1 0 .01 0M307.5 397.36a1.05 1.05 0 1 0 .01 0M307.5 400.24a1.05 1.05 0 1 0 .01 0M307.5 405.40a1.05 1.05 0 1 0 .01 0M307.5 407.50a1.05 1.05 0 1 0 .01 0M307.5 409.27a1.05 1.05 0 1 0 .01 0M307.5 410.77a1.05 1.05 0 1 0 .01 0M307.5 412.69a1.05 1.05 0 1 0 .01 0M307.5 414.33a1.05 1.05 0 1 0 .01 0M307.5 416.17a1.05 1.05 0 1 0 .01 0M307.5 417.86a1.05 1.05 0 1 0 .01 0M307.5 419.85a1.05 1.05 0 1 0 .01 0M307.5 422.22a1.05 1.05 0 1 0 .01 0M307.5 427.21a1.05 1.05 0 1 0 .01 0M309.5 395.97a1.05 1.05 0 1 0 .01 0M309.5 403.72a1.05 1.05 0 1 0 .01 0M309.5 405.74a1.05 1.05 0 1 0 .01 0M309.5 407.60a1.05 1.05 0 1 0 .01 0M309.5 409.30a1.05 1.05 0 1 0 .01 0M309.5 410.81a1.05 1.05 0 1 0 .01 0M309.5 412.35a1.05 1.05 0 1 0 .01 0M309.5 414.27a1.05 1.05 0 1 0 .01 0M309.5 416.31a1.05 1.05 0 1 0 .01 0M309.5 418.69a1.05 1.05 0 1 0 .01 0M309.5 420.88a1.05 1.05 0 1 0 .01 0M309.5 423.11a1.05 1.05 0 1 0 .01 0M311.5 395.01a1.05 1.05 0 1 0 .01 0M311.5 397.47a1.05 1.05 0 1 0 .01 0M311.5 400.13a1.05 1.05 0 1 0 .01 0M311.5 402.26a1.05 1.05 0 1 0 .01 0M311.5 404.37a1.05 1.05 0 1 0 .01 0M311.5 406.17a1.05 1.05 0 1 0 .01 0M311.5 408.06a1.05 1.05 0 1 0 .01 0M311.5 409.83a1.05 1.05 0 1 0 .01 0M311.5 411.28a1.05 1.05 0 1 0 .01 0M311.5 413.25a1.05 1.05 0 1 0 .01 0M311.5 415.15a1.05 1.05 0 1 0 .01 0M311.5 419.61a1.05 1.05 0 1 0 .01 0M311.5 422.04a1.05 1.05 0 1 0 .01 0M312.5 399.66a1.05 1.05 0 1 0 .01 0M312.5 404.31a1.05 1.05 0 1 0 .01 0M312.5 406.23a1.05 1.05 0 1 0 .01 0M312.5 407.89a1.05 1.05 0 1 0 .01 0M312.5 409.28a1.05 1.05 0 1 0 .01 0M312.5 410.55a1.05 1.05 0 1 0 .01 0M312.5 412.29a1.05 1.05 0 1 0 .01 0M312.5 414.44a1.05 1.05 0 1 0 .01 0M312.5 416.62a1.05 1.05 0 1 0 .01 0M312.5 418.27a1.05 1.05 0 1 0 .01 0M314.5 398.38a1.05 1.05 0 1 0 .01 0M314.5 400.91a1.05 1.05 0 1 0 .01 0M314.5 403.07a1.05 1.05 0 1 0 .01 0M314.5 405.14a1.05 1.05 0 1 0 .01 0M314.5 407.05a1.05 1.05 0 1 0 .01 0M314.5 409.08a1.05 1.05 0 1 0 .01 0M314.5 410.91a1.05 1.05 0 1 0 .01 0M314.5 412.72a1.05 1.05 0 1 0 .01 0M314.5 414.24a1.05 1.05 0 1 0 .01 0M314.5 416.37a1.05 1.05 0 1 0 .01 0M314.5 418.66a1.05 1.05 0 1 0 .01 0M314.5 421.17a1.05 1.05 0 1 0 .01 0M315.5 398.12a1.05 1.05 0 1 0 .01 0M315.5 401.07a1.05 1.05 0 1 0 .01 0M315.5 403.63a1.05 1.05 0 1 0 .01 0M315.5 405.62a1.05 1.05 0 1 0 .01 0M315.5 407.62a1.05 1.05 0 1 0 .01 0M315.5 409.30a1.05 1.05 0 1 0 .01 0M315.5 410.81a1.05 1.05 0 1 0 .01 0M315.5 412.91a1.05 1.05 0 1 0 .01 0M315.5 414.82a1.05 1.05 0 1 0 .01 0M315.5 417.13a1.05 1.05 0 1 0 .01 0M317.5 401.29a1.05 1.05 0 1 0 .01 0M317.5 403.89a1.05 1.05 0 1 0 .01 0M317.5 406.35a1.05 1.05 0 1 0 .01 0M317.5 408.11a1.05 1.05 0 1 0 .01 0M317.5 409.78a1.05 1.05 0 1 0 .01 0M317.5 411.56a1.05 1.05 0 1 0 .01 0M317.5 413.34a1.05 1.05 0 1 0 .01 0M317.5 415.20a1.05 1.05 0 1 0 .01 0M317.5 417.50a1.05 1.05 0 1 0 .01 0M319.5 401.39a1.05 1.05 0 1 0 .01 0M319.5 408.22a1.05 1.05 0 1 0 .01 0M319.5 409.75a1.05 1.05 0 1 0 .01 0M319.5 411.18a1.05 1.05 0 1 0 .01 0M319.5 412.81a1.05 1.05 0 1 0 .01 0M319.5 414.77a1.05 1.05 0 1 0 .01 0M319.5 417.06a1.05 1.05 0 1 0 .01 0M322.5 394.97a1.05 1.05 0 1 0 .01 0M322.5 402.87a1.05 1.05 0 1 0 .01 0M322.5 404.83a1.05 1.05 0 1 0 .01 0M322.5 406.70a1.05 1.05 0 1 0 .01 0M322.5 408.22a1.05 1.05 0 1 0 .01 0M322.5 409.85a1.05 1.05 0 1 0 .01 0M322.5 411.28a1.05 1.05 0 1 0 .01 0M322.5 412.64a1.05 1.05 0 1 0 .01 0M322.5 414.50a1.05 1.05 0 1 0 .01 0M322.5 416.30a1.05 1.05 0 1 0 .01 0M322.5 418.08a1.05 1.05 0 1 0 .01 0M322.5 422.22a1.05 1.05 0 1 0 .01 0M322.5 424.81a1.05 1.05 0 1 0 .01 0M322.5 426.31a1.05 1.05 0 1 0 .01 0M324.5 395.64a1.05 1.05 0 1 0 .01 0M324.5 401.04a1.05 1.05 0 1 0 .01 0M324.5 403.16a1.05 1.05 0 1 0 .01 0M324.5 405.07a1.05 1.05 0 1 0 .01 0M324.5 407.22a1.05 1.05 0 1 0 .01 0M324.5 408.91a1.05 1.05 0 1 0 .01 0M324.5 410.35a1.05 1.05 0 1 0 .01 0M324.5 411.79a1.05 1.05 0 1 0 .01 0M324.5 413.44a1.05 1.05 0 1 0 .01 0M324.5 414.87a1.05 1.05 0 1 0 .01 0M324.5 416.72a1.05 1.05 0 1 0 .01 0M324.5 418.68a1.05 1.05 0 1 0 .01 0M324.5 420.83a1.05 1.05 0 1 0 .01 0M324.5 425.53a1.05 1.05 0 1 0 .01 0M326.5 394.54a1.05 1.05 0 1 0 .01 0M326.5 396.96a1.05 1.05 0 1 0 .01 0M326.5 399.70a1.05 1.05 0 1 0 .01 0M326.5 402.09a1.05 1.05 0 1 0 .01 0M326.5 403.98a1.05 1.05 0 1 0 .01 0M326.5 406.05a1.05 1.05 0 1 0 .01 0M326.5 407.81a1.05 1.05 0 1 0 .01 0M326.5 409.32a1.05 1.05 0 1 0 .01 0M326.5 410.77a1.05 1.05 0 1 0 .01 0M326.5 412.47a1.05 1.05 0 1 0 .01 0M326.5 414.26a1.05 1.05 0 1 0 .01 0M326.5 416.06a1.05 1.05 0 1 0 .01 0M326.5 420.31a1.05 1.05 0 1 0 .01 0M326.5 421.72a1.05 1.05 0 1 0 .01 0M328.5 395.07a1.05 1.05 0 1 0 .01 0M328.5 397.50a1.05 1.05 0 1 0 .01 0M328.5 399.97a1.05 1.05 0 1 0 .01 0M328.5 402.33a1.05 1.05 0 1 0 .01 0M328.5 404.80a1.05 1.05 0 1 0 .01 0M328.5 407.06a1.05 1.05 0 1 0 .01 0M328.5 411.16a1.05 1.05 0 1 0 .01 0M328.5 413.21a1.05 1.05 0 1 0 .01 0M328.5 414.73a1.05 1.05 0 1 0 .01 0M328.5 416.21a1.05 1.05 0 1 0 .01 0M328.5 417.80a1.05 1.05 0 1 0 .01 0M328.5 419.33a1.05 1.05 0 1 0 .01 0M328.5 420.84a1.05 1.05 0 1 0 .01 0M328.5 422.77a1.05 1.05 0 1 0 .01 0M328.5 424.61a1.05 1.05 0 1 0 .01 0M328.5 426.87a1.05 1.05 0 1 0 .01 0M328.5 431.15a1.05 1.05 0 1 0 .01 0M328.5 433.34a1.05 1.05 0 1 0 .01 0M328.5 435.71a1.05 1.05 0 1 0 .01 0M331.5 413.44a1.05 1.05 0 1 0 .01 0M331.5 416.23a1.05 1.05 0 1 0 .01 0M331.5 418.44a1.05 1.05 0 1 0 .01 0M331.5 420.74a1.05 1.05 0 1 0 .01 0M331.5 423.04a1.05 1.05 0 1 0 .01 0M331.5 424.86a1.05 1.05 0 1 0 .01 0M331.5 426.37a1.05 1.05 0 1 0 .01 0M331.5 427.86a1.05 1.05 0 1 0 .01 0M331.5 429.51a1.05 1.05 0 1 0 .01 0M331.5 431.08a1.05 1.05 0 1 0 .01 0M331.5 432.78a1.05 1.05 0 1 0 .01 0M331.5 434.64a1.05 1.05 0 1 0 .01 0M331.5 436.77a1.05 1.05 0 1 0 .01 0M331.5 439.16a1.05 1.05 0 1 0 .01 0M333.5 414.10a1.05 1.05 0 1 0 .01 0M333.5 416.83a1.05 1.05 0 1 0 .01 0M333.5 419.55a1.05 1.05 0 1 0 .01 0M333.5 421.67a1.05 1.05 0 1 0 .01 0M333.5 423.91a1.05 1.05 0 1 0 .01 0M333.5 425.47a1.05 1.05 0 1 0 .01 0M333.5 427.36a1.05 1.05 0 1 0 .01 0M333.5 428.81a1.05 1.05 0 1 0 .01 0M333.5 430.41a1.05 1.05 0 1 0 .01 0M333.5 432.13a1.05 1.05 0 1 0 .01 0M333.5 436.43a1.05 1.05 0 1 0 .01 0M333.5 439.29a1.05 1.05 0 1 0 .01 0M336.5 408.37a1.05 1.05 0 1 0 .01 0M336.5 411.27a1.05 1.05 0 1 0 .01 0M336.5 413.61a1.05 1.05 0 1 0 .01 0M336.5 415.80a1.05 1.05 0 1 0 .01 0M336.5 417.71a1.05 1.05 0 1 0 .01 0M336.5 419.39a1.05 1.05 0 1 0 .01 0M336.5 421.06a1.05 1.05 0 1 0 .01 0M336.5 425.41a1.05 1.05 0 1 0 .01 0M336.5 427.46a1.05 1.05 0 1 0 .01 0M339.5 406.64a1.05 1.05 0 1 0 .01 0M339.5 409.55a1.05 1.05 0 1 0 .01 0M339.5 411.83a1.05 1.05 0 1 0 .01 0M339.5 413.44a1.05 1.05 0 1 0 .01 0M339.5 414.91a1.05 1.05 0 1 0 .01 0M339.5 416.66a1.05 1.05 0 1 0 .01 0M339.5 418.84a1.05 1.05 0 1 0 .01 0M339.5 419.54a1.05 1.05 0 1 0 .01 0M342.5 400.22a1.05 1.05 0 1 0 .01 0M342.5 402.82a1.05 1.05 0 1 0 .01 0M342.5 405.31a1.05 1.05 0 1 0 .01 0M342.5 407.40a1.05 1.05 0 1 0 .01 0M342.5 409.23a1.05 1.05 0 1 0 .01 0M342.5 410.79a1.05 1.05 0 1 0 .01 0M342.5 412.73a1.05 1.05 0 1 0 .01 0M342.5 415.27a1.05 1.05 0 1 0 .01 0M343.5 401.38a1.05 1.05 0 1 0 .01 0M343.5 404.14a1.05 1.05 0 1 0 .01 0M343.5 410.45a1.05 1.05 0 1 0 .01 0M343.5 412.02a1.05 1.05 0 1 0 .01 0M343.5 413.55a1.05 1.05 0 1 0 .01 0M343.5 417.65a1.05 1.05 0 1 0 .01 0M343.5 418.71a1.05 1.05 0 1 0 .01 0M346.5 406.10a1.05 1.05 0 1 0 .01 0M346.5 408.54a1.05 1.05 0 1 0 .01 0M346.5 410.92a1.05 1.05 0 1 0 .01 0M346.5 413.01a1.05 1.05 0 1 0 .01 0M346.5 415.20a1.05 1.05 0 1 0 .01 0M346.5 416.99a1.05 1.05 0 1 0 .01 0M346.5 418.66a1.05 1.05 0 1 0 .01 0M346.5 420.54a1.05 1.05 0 1 0 .01 0M346.5 422.09a1.05 1.05 0 1 0 .01 0M346.5 424.05a1.05 1.05 0 1 0 .01 0M346.5 425.98a1.05 1.05 0 1 0 .01 0M346.5 428.01a1.05 1.05 0 1 0 .01 0M346.5 430.39a1.05 1.05 0 1 0 .01 0M346.5 433.91a1.05 1.05 0 1 0 .01 0M347.5 408.35a1.05 1.05 0 1 0 .01 0M347.5 413.43a1.05 1.05 0 1 0 .01 0M347.5 415.82a1.05 1.05 0 1 0 .01 0M347.5 417.96a1.05 1.05 0 1 0 .01 0M347.5 420.21a1.05 1.05 0 1 0 .01 0M347.5 422.03a1.05 1.05 0 1 0 .01 0M347.5 423.61a1.05 1.05 0 1 0 .01 0M347.5 424.89a1.05 1.05 0 1 0 .01 0M347.5 426.27a1.05 1.05 0 1 0 .01 0M347.5 428.13a1.05 1.05 0 1 0 .01 0M347.5 429.74a1.05 1.05 0 1 0 .01 0M347.5 431.47a1.05 1.05 0 1 0 .01 0M347.5 433.37a1.05 1.05 0 1 0 .01 0M347.5 435.64a1.05 1.05 0 1 0 .01 0M347.5 438.26a1.05 1.05 0 1 0 .01 0M347.5 439.09a1.05 1.05 0 1 0 .01 0M350.5 412.16a1.05 1.05 0 1 0 .01 0M350.5 414.59a1.05 1.05 0 1 0 .01 0M350.5 416.95a1.05 1.05 0 1 0 .01 0M350.5 419.12a1.05 1.05 0 1 0 .01 0M350.5 421.08a1.05 1.05 0 1 0 .01 0M350.5 423.15a1.05 1.05 0 1 0 .01 0M350.5 424.82a1.05 1.05 0 1 0 .01 0M350.5 426.26a1.05 1.05 0 1 0 .01 0M350.5 428.11a1.05 1.05 0 1 0 .01 0M350.5 429.59a1.05 1.05 0 1 0 .01 0M350.5 431.17a1.05 1.05 0 1 0 .01 0M350.5 432.77a1.05 1.05 0 1 0 .01 0M350.5 434.87a1.05 1.05 0 1 0 .01 0M350.5 437.19a1.05 1.05 0 1 0 .01 0M350.5 439.14a1.05 1.05 0 1 0 .01 0M350.5 443.67a1.05 1.05 0 1 0 .01 0M352.5 413.68a1.05 1.05 0 1 0 .01 0M352.5 416.20a1.05 1.05 0 1 0 .01 0M352.5 418.49a1.05 1.05 0 1 0 .01 0M352.5 420.49a1.05 1.05 0 1 0 .01 0M352.5 422.14a1.05 1.05 0 1 0 .01 0M352.5 423.99a1.05 1.05 0 1 0 .01 0M352.5 425.43a1.05 1.05 0 1 0 .01 0M352.5 426.85a1.05 1.05 0 1 0 .01 0M352.5 428.76a1.05 1.05 0 1 0 .01 0M352.5 432.56a1.05 1.05 0 1 0 .01 0M352.5 435.01a1.05 1.05 0 1 0 .01 0M354.5 415.49a1.05 1.05 0 1 0 .01 0M354.5 418.43a1.05 1.05 0 1 0 .01 0M354.5 420.75a1.05 1.05 0 1 0 .01 0M354.5 422.60a1.05 1.05 0 1 0 .01 0M354.5 424.11a1.05 1.05 0 1 0 .01 0M354.5 425.73a1.05 1.05 0 1 0 .01 0M354.5 427.36a1.05 1.05 0 1 0 .01 0M354.5 429.63a1.05 1.05 0 1 0 .01 0M354.5 431.78a1.05 1.05 0 1 0 .01 0M357.5 411.14a1.05 1.05 0 1 0 .01 0M357.5 416.13a1.05 1.05 0 1 0 .01 0M357.5 418.42a1.05 1.05 0 1 0 .01 0M357.5 420.35a1.05 1.05 0 1 0 .01 0M357.5 422.01a1.05 1.05 0 1 0 .01 0M357.5 423.56a1.05 1.05 0 1 0 .01 0M357.5 425.63a1.05 1.05 0 1 0 .01 0M357.5 429.38a1.05 1.05 0 1 0 .01 0M360.5 402.91a1.05 1.05 0 1 0 .01 0M360.5 405.84a1.05 1.05 0 1 0 .01 0M360.5 407.92a1.05 1.05 0 1 0 .01 0M360.5 410.16a1.05 1.05 0 1 0 .01 0M360.5 412.00a1.05 1.05 0 1 0 .01 0M360.5 413.95a1.05 1.05 0 1 0 .01 0M360.5 415.47a1.05 1.05 0 1 0 .01 0M360.5 417.46a1.05 1.05 0 1 0 .01 0M360.5 419.20a1.05 1.05 0 1 0 .01 0M360.5 421.25a1.05 1.05 0 1 0 .01 0M360.5 423.53a1.05 1.05 0 1 0 .01 0M362.5 401.80a1.05 1.05 0 1 0 .01 0M362.5 406.88a1.05 1.05 0 1 0 .01 0M362.5 408.99a1.05 1.05 0 1 0 .01 0M362.5 410.26a1.05 1.05 0 1 0 .01 0M362.5 412.14a1.05 1.05 0 1 0 .01 0M362.5 414.26a1.05 1.05 0 1 0 .01 0M362.5 416.16a1.05 1.05 0 1 0 .01 0M364.5 398.18a1.05 1.05 0 1 0 .01 0M364.5 400.63a1.05 1.05 0 1 0 .01 0M364.5 403.13a1.05 1.05 0 1 0 .01 0M364.5 405.13a1.05 1.05 0 1 0 .01 0M364.5 407.08a1.05 1.05 0 1 0 .01 0M364.5 408.82a1.05 1.05 0 1 0 .01 0M364.5 410.37a1.05 1.05 0 1 0 .01 0M364.5 412.00a1.05 1.05 0 1 0 .01 0M364.5 414.36a1.05 1.05 0 1 0 .01 0M364.5 416.71a1.05 1.05 0 1 0 .01 0M366.5 402.47a1.05 1.05 0 1 0 .01 0M366.5 407.54a1.05 1.05 0 1 0 .01 0M366.5 409.06a1.05 1.05 0 1 0 .01 0M366.5 410.44a1.05 1.05 0 1 0 .01 0M366.5 412.46a1.05 1.05 0 1 0 .01 0M366.5 414.54a1.05 1.05 0 1 0 .01 0M367.5 398.54a1.05 1.05 0 1 0 .01 0M367.5 401.08a1.05 1.05 0 1 0 .01 0M367.5 403.50a1.05 1.05 0 1 0 .01 0M367.5 405.59a1.05 1.05 0 1 0 .01 0M367.5 407.74a1.05 1.05 0 1 0 .01 0M367.5 409.28a1.05 1.05 0 1 0 .01 0M367.5 410.71a1.05 1.05 0 1 0 .01 0M367.5 412.64a1.05 1.05 0 1 0 .01 0M367.5 414.36a1.05 1.05 0 1 0 .01 0M367.5 416.53a1.05 1.05 0 1 0 .01 0M367.5 418.80a1.05 1.05 0 1 0 .01 0M369.5 399.87a1.05 1.05 0 1 0 .01 0M369.5 402.45a1.05 1.05 0 1 0 .01 0M369.5 406.73a1.05 1.05 0 1 0 .01 0M369.5 408.33a1.05 1.05 0 1 0 .01 0M369.5 409.98a1.05 1.05 0 1 0 .01 0M369.5 411.72a1.05 1.05 0 1 0 .01 0M369.5 413.90a1.05 1.05 0 1 0 .01 0M369.5 415.35a1.05 1.05 0 1 0 .01 0M371.5 404.99a1.05 1.05 0 1 0 .01 0M371.5 407.45a1.05 1.05 0 1 0 .01 0M371.5 411.98a1.05 1.05 0 1 0 .01 0M371.5 414.03a1.05 1.05 0 1 0 .01 0M371.5 415.83a1.05 1.05 0 1 0 .01 0M371.5 417.44a1.05 1.05 0 1 0 .01 0M371.5 418.89a1.05 1.05 0 1 0 .01 0M371.5 420.90a1.05 1.05 0 1 0 .01 0M371.5 422.71a1.05 1.05 0 1 0 .01 0M371.5 424.94a1.05 1.05 0 1 0 .01 0M371.5 426.33a1.05 1.05 0 1 0 .01 0M374.5 403.80a1.05 1.05 0 1 0 .01 0M374.5 406.70a1.05 1.05 0 1 0 .01 0M374.5 408.96a1.05 1.05 0 1 0 .01 0M374.5 410.89a1.05 1.05 0 1 0 .01 0M374.5 412.95a1.05 1.05 0 1 0 .01 0M374.5 414.84a1.05 1.05 0 1 0 .01 0M374.5 416.67a1.05 1.05 0 1 0 .01 0M374.5 418.33a1.05 1.05 0 1 0 .01 0M374.5 420.28a1.05 1.05 0 1 0 .01 0M374.5 422.43a1.05 1.05 0 1 0 .01 0M374.5 424.53a1.05 1.05 0 1 0 .01 0M374.5 426.82a1.05 1.05 0 1 0 .01 0M374.5 428.69a1.05 1.05 0 1 0 .01 0M376.5 403.30a1.05 1.05 0 1 0 .01 0M376.5 406.17a1.05 1.05 0 1 0 .01 0M376.5 408.23a1.05 1.05 0 1 0 .01 0M376.5 409.77a1.05 1.05 0 1 0 .01 0M376.5 411.52a1.05 1.05 0 1 0 .01 0M376.5 414.84a1.05 1.05 0 1 0 .01 0M378.5 398.30a1.05 1.05 0 1 0 .01 0M378.5 400.98a1.05 1.05 0 1 0 .01 0M378.5 403.33a1.05 1.05 0 1 0 .01 0M378.5 405.34a1.05 1.05 0 1 0 .01 0M378.5 407.02a1.05 1.05 0 1 0 .01 0M378.5 408.56a1.05 1.05 0 1 0 .01 0M378.5 410.36a1.05 1.05 0 1 0 .01 0M378.5 412.12a1.05 1.05 0 1 0 .01 0M378.5 414.29a1.05 1.05 0 1 0 .01 0M378.5 415.57a1.05 1.05 0 1 0 .01 0M380.5 399.17a1.05 1.05 0 1 0 .01 0M380.5 401.68a1.05 1.05 0 1 0 .01 0M380.5 404.13a1.05 1.05 0 1 0 .01 0M380.5 406.08a1.05 1.05 0 1 0 .01 0M380.5 407.54a1.05 1.05 0 1 0 .01 0M380.5 409.14a1.05 1.05 0 1 0 .01 0M380.5 410.79a1.05 1.05 0 1 0 .01 0M380.5 412.81a1.05 1.05 0 1 0 .01 0M380.5 415.89a1.05 1.05 0 1 0 .01 0M382.5 404.61a1.05 1.05 0 1 0 .01 0M382.5 407.34a1.05 1.05 0 1 0 .01 0M382.5 409.50a1.05 1.05 0 1 0 .01 0M382.5 411.18a1.05 1.05 0 1 0 .01 0M382.5 413.29a1.05 1.05 0 1 0 .01 0M382.5 414.65a1.05 1.05 0 1 0 .01 0M384.5 400.40a1.05 1.05 0 1 0 .01 0M384.5 403.23a1.05 1.05 0 1 0 .01 0M384.5 405.18a1.05 1.05 0 1 0 .01 0M384.5 407.21a1.05 1.05 0 1 0 .01 0M384.5 408.68a1.05 1.05 0 1 0 .01 0M384.5 410.29a1.05 1.05 0 1 0 .01 0M384.5 412.67a1.05 1.05 0 1 0 .01 0M384.5 413.59a1.05 1.05 0 1 0 .01 0M385.5 399.25a1.05 1.05 0 1 0 .01 0M385.5 404.21a1.05 1.05 0 1 0 .01 0M385.5 406.46a1.05 1.05 0 1 0 .01 0M385.5 407.90a1.05 1.05 0 1 0 .01 0M385.5 409.27a1.05 1.05 0 1 0 .01 0M385.5 411.20a1.05 1.05 0 1 0 .01 0M385.5 413.20a1.05 1.05 0 1 0 .01 0M385.5 415.30a1.05 1.05 0 1 0 .01 0M387.5 394.67a1.05 1.05 0 1 0 .01 0M387.5 399.55a1.05 1.05 0 1 0 .01 0M387.5 401.66a1.05 1.05 0 1 0 .01 0M387.5 403.65a1.05 1.05 0 1 0 .01 0M387.5 404.98a1.05 1.05 0 1 0 .01 0M387.5 406.84a1.05 1.05 0 1 0 .01 0M387.5 408.79a1.05 1.05 0 1 0 .01 0M387.5 410.74a1.05 1.05 0 1 0 .01 0M387.5 412.90a1.05 1.05 0 1 0 .01 0M387.5 413.56a1.05 1.05 0 1 0 .01 0M388.5 391.22a1.05 1.05 0 1 0 .01 0M388.5 396.21a1.05 1.05 0 1 0 .01 0M388.5 398.17a1.05 1.05 0 1 0 .01 0M388.5 400.53a1.05 1.05 0 1 0 .01 0M388.5 402.37a1.05 1.05 0 1 0 .01 0M388.5 404.04a1.05 1.05 0 1 0 .01 0M388.5 405.29a1.05 1.05 0 1 0 .01 0M388.5 407.08a1.05 1.05 0 1 0 .01 0M388.5 408.57a1.05 1.05 0 1 0 .01 0M388.5 410.53a1.05 1.05 0 1 0 .01 0M388.5 412.68a1.05 1.05 0 1 0 .01 0M388.5 415.00a1.05 1.05 0 1 0 .01 0M388.5 417.47a1.05 1.05 0 1 0 .01 0M391.5 399.04a1.05 1.05 0 1 0 .01 0M391.5 401.73a1.05 1.05 0 1 0 .01 0M391.5 405.82a1.05 1.05 0 1 0 .01 0M391.5 407.85a1.05 1.05 0 1 0 .01 0M391.5 409.45a1.05 1.05 0 1 0 .01 0M391.5 411.20a1.05 1.05 0 1 0 .01 0M391.5 413.25a1.05 1.05 0 1 0 .01 0M391.5 417.20a1.05 1.05 0 1 0 .01 0M393.5 398.10a1.05 1.05 0 1 0 .01 0M393.5 400.72a1.05 1.05 0 1 0 .01 0M393.5 402.97a1.05 1.05 0 1 0 .01 0M393.5 405.26a1.05 1.05 0 1 0 .01 0M393.5 407.31a1.05 1.05 0 1 0 .01 0M393.5 409.16a1.05 1.05 0 1 0 .01 0M393.5 410.91a1.05 1.05 0 1 0 .01 0M393.5 412.65a1.05 1.05 0 1 0 .01 0M393.5 417.35a1.05 1.05 0 1 0 .01 0M393.5 417.87a1.05 1.05 0 1 0 .01 0M395.5 397.53a1.05 1.05 0 1 0 .01 0M395.5 400.46a1.05 1.05 0 1 0 .01 0M395.5 402.91a1.05 1.05 0 1 0 .01 0M395.5 406.66a1.05 1.05 0 1 0 .01 0M395.5 408.42a1.05 1.05 0 1 0 .01 0M395.5 410.29a1.05 1.05 0 1 0 .01 0M395.5 412.18a1.05 1.05 0 1 0 .01 0M395.5 414.03a1.05 1.05 0 1 0 .01 0M395.5 416.45a1.05 1.05 0 1 0 .01 0M395.5 417.46a1.05 1.05 0 1 0 .01 0M397.5 398.05a1.05 1.05 0 1 0 .01 0M397.5 400.97a1.05 1.05 0 1 0 .01 0M397.5 403.07a1.05 1.05 0 1 0 .01 0M397.5 405.17a1.05 1.05 0 1 0 .01 0M397.5 407.27a1.05 1.05 0 1 0 .01 0M397.5 408.75a1.05 1.05 0 1 0 .01 0M397.5 410.17a1.05 1.05 0 1 0 .01 0M397.5 411.61a1.05 1.05 0 1 0 .01 0M397.5 415.26a1.05 1.05 0 1 0 .01 0M397.5 417.70a1.05 1.05 0 1 0 .01 0M397.5 418.44a1.05 1.05 0 1 0 .01 0M400.5 396.52a1.05 1.05 0 1 0 .01 0M400.5 399.30a1.05 1.05 0 1 0 .01 0M400.5 401.87a1.05 1.05 0 1 0 .01 0M400.5 403.66a1.05 1.05 0 1 0 .01 0M400.5 405.27a1.05 1.05 0 1 0 .01 0M400.5 406.93a1.05 1.05 0 1 0 .01 0M400.5 408.75a1.05 1.05 0 1 0 .01 0M400.5 410.69a1.05 1.05 0 1 0 .01 0M400.5 413.05a1.05 1.05 0 1 0 .01 0M400.5 413.89a1.05 1.05 0 1 0 .01 0M401.5 393.57a1.05 1.05 0 1 0 .01 0M401.5 396.40a1.05 1.05 0 1 0 .01 0M401.5 398.92a1.05 1.05 0 1 0 .01 0M401.5 400.69a1.05 1.05 0 1 0 .01 0M401.5 402.13a1.05 1.05 0 1 0 .01 0M401.5 403.50a1.05 1.05 0 1 0 .01 0M401.5 405.16a1.05 1.05 0 1 0 .01 0M401.5 407.24a1.05 1.05 0 1 0 .01 0M401.5 409.30a1.05 1.05 0 1 0 .01 0M401.5 411.30a1.05 1.05 0 1 0 .01 0M404.5 392.36a1.05 1.05 0 1 0 .01 0M404.5 397.86a1.05 1.05 0 1 0 .01 0M404.5 401.50a1.05 1.05 0 1 0 .01 0M404.5 403.09a1.05 1.05 0 1 0 .01 0M404.5 404.98a1.05 1.05 0 1 0 .01 0M404.5 406.61a1.05 1.05 0 1 0 .01 0M404.5 408.37a1.05 1.05 0 1 0 .01 0M404.5 410.62a1.05 1.05 0 1 0 .01 0M404.5 411.86a1.05 1.05 0 1 0 .01 0M407.5 397.03a1.05 1.05 0 1 0 .01 0M407.5 399.97a1.05 1.05 0 1 0 .01 0M407.5 402.39a1.05 1.05 0 1 0 .01 0M407.5 404.38a1.05 1.05 0 1 0 .01 0M407.5 406.11a1.05 1.05 0 1 0 .01 0M407.5 407.99a1.05 1.05 0 1 0 .01 0M407.5 410.09a1.05 1.05 0 1 0 .01 0M407.5 410.98a1.05 1.05 0 1 0 .01 0M408.5 390.99a1.05 1.05 0 1 0 .01 0M408.5 393.43a1.05 1.05 0 1 0 .01 0M408.5 395.94a1.05 1.05 0 1 0 .01 0M408.5 398.01a1.05 1.05 0 1 0 .01 0M408.5 400.12a1.05 1.05 0 1 0 .01 0M408.5 401.50a1.05 1.05 0 1 0 .01 0M408.5 403.05a1.05 1.05 0 1 0 .01 0M408.5 404.69a1.05 1.05 0 1 0 .01 0M408.5 406.82a1.05 1.05 0 1 0 .01 0M408.5 411.69a1.05 1.05 0 1 0 .01 0M410.5 393.51a1.05 1.05 0 1 0 .01 0M410.5 399.09a1.05 1.05 0 1 0 .01 0M410.5 401.07a1.05 1.05 0 1 0 .01 0M410.5 402.97a1.05 1.05 0 1 0 .01 0M410.5 404.57a1.05 1.05 0 1 0 .01 0M410.5 405.98a1.05 1.05 0 1 0 .01 0M410.5 407.78a1.05 1.05 0 1 0 .01 0M410.5 409.21a1.05 1.05 0 1 0 .01 0M410.5 410.82a1.05 1.05 0 1 0 .01 0M410.5 412.74a1.05 1.05 0 1 0 .01 0M410.5 415.05a1.05 1.05 0 1 0 .01 0M410.5 419.27a1.05 1.05 0 1 0 .01 0M410.5 420.16a1.05 1.05 0 1 0 .01 0M412.5 398.03a1.05 1.05 0 1 0 .01 0M412.5 400.84a1.05 1.05 0 1 0 .01 0M412.5 402.95a1.05 1.05 0 1 0 .01 0M412.5 404.95a1.05 1.05 0 1 0 .01 0M412.5 407.05a1.05 1.05 0 1 0 .01 0M412.5 408.77a1.05 1.05 0 1 0 .01 0M412.5 410.62a1.05 1.05 0 1 0 .01 0M412.5 412.76a1.05 1.05 0 1 0 .01 0M412.5 416.77a1.05 1.05 0 1 0 .01 0M412.5 417.53a1.05 1.05 0 1 0 .01 0M414.5 398.23a1.05 1.05 0 1 0 .01 0M414.5 400.72a1.05 1.05 0 1 0 .01 0M414.5 405.15a1.05 1.05 0 1 0 .01 0M414.5 406.59a1.05 1.05 0 1 0 .01 0M414.5 408.05a1.05 1.05 0 1 0 .01 0M414.5 409.81a1.05 1.05 0 1 0 .01 0M414.5 412.09a1.05 1.05 0 1 0 .01 0M414.5 414.30a1.05 1.05 0 1 0 .01 0M416.5 398.20a1.05 1.05 0 1 0 .01 0M416.5 400.76a1.05 1.05 0 1 0 .01 0M416.5 403.10a1.05 1.05 0 1 0 .01 0M416.5 405.04a1.05 1.05 0 1 0 .01 0M416.5 407.04a1.05 1.05 0 1 0 .01 0M416.5 408.73a1.05 1.05 0 1 0 .01 0M416.5 410.29a1.05 1.05 0 1 0 .01 0M416.5 411.74a1.05 1.05 0 1 0 .01 0M416.5 413.67a1.05 1.05 0 1 0 .01 0M416.5 417.54a1.05 1.05 0 1 0 .01 0M416.5 422.16a1.05 1.05 0 1 0 .01 0M418.5 399.25a1.05 1.05 0 1 0 .01 0M418.5 402.03a1.05 1.05 0 1 0 .01 0M418.5 404.17a1.05 1.05 0 1 0 .01 0M418.5 406.52a1.05 1.05 0 1 0 .01 0M418.5 408.45a1.05 1.05 0 1 0 .01 0M418.5 410.28a1.05 1.05 0 1 0 .01 0M418.5 412.01a1.05 1.05 0 1 0 .01 0M418.5 413.53a1.05 1.05 0 1 0 .01 0M418.5 415.33a1.05 1.05 0 1 0 .01 0M418.5 417.18a1.05 1.05 0 1 0 .01 0M418.5 421.54a1.05 1.05 0 1 0 .01 0M418.5 423.68a1.05 1.05 0 1 0 .01 0M420.5 399.62a1.05 1.05 0 1 0 .01 0M420.5 402.18a1.05 1.05 0 1 0 .01 0M420.5 404.86a1.05 1.05 0 1 0 .01 0M420.5 407.32a1.05 1.05 0 1 0 .01 0M420.5 411.16a1.05 1.05 0 1 0 .01 0M420.5 412.90a1.05 1.05 0 1 0 .01 0M420.5 414.73a1.05 1.05 0 1 0 .01 0M420.5 416.10a1.05 1.05 0 1 0 .01 0M420.5 417.99a1.05 1.05 0 1 0 .01 0M420.5 419.82a1.05 1.05 0 1 0 .01 0M420.5 421.71a1.05 1.05 0 1 0 .01 0M420.5 423.74a1.05 1.05 0 1 0 .01 0M420.5 427.05a1.05 1.05 0 1 0 .01 0M422.5 394.41a1.05 1.05 0 1 0 .01 0M422.5 397.09a1.05 1.05 0 1 0 .01 0M422.5 399.40a1.05 1.05 0 1 0 .01 0M422.5 404.41a1.05 1.05 0 1 0 .01 0M422.5 406.72a1.05 1.05 0 1 0 .01 0M422.5 408.76a1.05 1.05 0 1 0 .01 0M422.5 410.72a1.05 1.05 0 1 0 .01 0M422.5 412.76a1.05 1.05 0 1 0 .01 0M422.5 414.69a1.05 1.05 0 1 0 .01 0M422.5 416.14a1.05 1.05 0 1 0 .01 0M422.5 417.84a1.05 1.05 0 1 0 .01 0M422.5 419.27a1.05 1.05 0 1 0 .01 0M422.5 420.85a1.05 1.05 0 1 0 .01 0M422.5 422.34a1.05 1.05 0 1 0 .01 0M422.5 423.98a1.05 1.05 0 1 0 .01 0M422.5 425.69a1.05 1.05 0 1 0 .01 0M422.5 427.51a1.05 1.05 0 1 0 .01 0M422.5 429.21a1.05 1.05 0 1 0 .01 0M422.5 431.10a1.05 1.05 0 1 0 .01 0M422.5 433.31a1.05 1.05 0 1 0 .01 0M422.5 435.33a1.05 1.05 0 1 0 .01 0M422.5 437.52a1.05 1.05 0 1 0 .01 0M422.5 441.55a1.05 1.05 0 1 0 .01 0M425.5 393.51a1.05 1.05 0 1 0 .01 0M425.5 396.43a1.05 1.05 0 1 0 .01 0M425.5 398.63a1.05 1.05 0 1 0 .01 0M425.5 400.87a1.05 1.05 0 1 0 .01 0M425.5 402.89a1.05 1.05 0 1 0 .01 0M425.5 404.75a1.05 1.05 0 1 0 .01 0M425.5 406.76a1.05 1.05 0 1 0 .01 0M425.5 408.43a1.05 1.05 0 1 0 .01 0M425.5 410.16a1.05 1.05 0 1 0 .01 0M425.5 411.63a1.05 1.05 0 1 0 .01 0M425.5 415.73a1.05 1.05 0 1 0 .01 0M425.5 418.02a1.05 1.05 0 1 0 .01 0M425.5 420.34a1.05 1.05 0 1 0 .01 0M425.5 422.05a1.05 1.05 0 1 0 .01 0M427.5 382.84a1.05 1.05 0 1 0 .01 0M427.5 385.30a1.05 1.05 0 1 0 .01 0M427.5 390.12a1.05 1.05 0 1 0 .01 0M427.5 392.37a1.05 1.05 0 1 0 .01 0M427.5 394.16a1.05 1.05 0 1 0 .01 0M427.5 396.21a1.05 1.05 0 1 0 .01 0M427.5 398.13a1.05 1.05 0 1 0 .01 0M427.5 399.79a1.05 1.05 0 1 0 .01 0M427.5 401.09a1.05 1.05 0 1 0 .01 0M427.5 402.73a1.05 1.05 0 1 0 .01 0M427.5 404.32a1.05 1.05 0 1 0 .01 0M427.5 406.11a1.05 1.05 0 1 0 .01 0M427.5 408.28a1.05 1.05 0 1 0 .01 0M427.5 410.48a1.05 1.05 0 1 0 .01 0M427.5 414.97a1.05 1.05 0 1 0 .01 0M427.5 417.33a1.05 1.05 0 1 0 .01 0M427.5 418.51a1.05 1.05 0 1 0 .01 0M430.5 404.59a1.05 1.05 0 1 0 .01 0M430.5 407.39a1.05 1.05 0 1 0 .01 0M430.5 409.97a1.05 1.05 0 1 0 .01 0M430.5 411.97a1.05 1.05 0 1 0 .01 0M430.5 414.28a1.05 1.05 0 1 0 .01 0M430.5 416.02a1.05 1.05 0 1 0 .01 0M430.5 417.68a1.05 1.05 0 1 0 .01 0M430.5 419.35a1.05 1.05 0 1 0 .01 0M430.5 421.05a1.05 1.05 0 1 0 .01 0M430.5 422.95a1.05 1.05 0 1 0 .01 0M430.5 424.59a1.05 1.05 0 1 0 .01 0M430.5 426.40a1.05 1.05 0 1 0 .01 0M430.5 431.56a1.05 1.05 0 1 0 .01 0M432.5 415.55a1.05 1.05 0 1 0 .01 0M432.5 418.28a1.05 1.05 0 1 0 .01 0M432.5 422.71a1.05 1.05 0 1 0 .01 0M432.5 424.47a1.05 1.05 0 1 0 .01 0M432.5 426.17a1.05 1.05 0 1 0 .01 0M432.5 427.89a1.05 1.05 0 1 0 .01 0M432.5 432.10a1.05 1.05 0 1 0 .01 0M434.5 404.46a1.05 1.05 0 1 0 .01 0M434.5 407.13a1.05 1.05 0 1 0 .01 0M434.5 409.55a1.05 1.05 0 1 0 .01 0M434.5 412.02a1.05 1.05 0 1 0 .01 0M434.5 415.92a1.05 1.05 0 1 0 .01 0M434.5 417.40a1.05 1.05 0 1 0 .01 0M434.5 418.93a1.05 1.05 0 1 0 .01 0M434.5 420.66a1.05 1.05 0 1 0 .01 0M434.5 422.62a1.05 1.05 0 1 0 .01 0M434.5 424.70a1.05 1.05 0 1 0 .01 0M434.5 426.91a1.05 1.05 0 1 0 .01 0M434.5 431.64a1.05 1.05 0 1 0 .01 0M437.5 407.29a1.05 1.05 0 1 0 .01 0M437.5 409.76a1.05 1.05 0 1 0 .01 0M437.5 414.41a1.05 1.05 0 1 0 .01 0M437.5 416.70a1.05 1.05 0 1 0 .01 0M437.5 418.81a1.05 1.05 0 1 0 .01 0M437.5 420.69a1.05 1.05 0 1 0 .01 0M437.5 422.27a1.05 1.05 0 1 0 .01 0M437.5 423.85a1.05 1.05 0 1 0 .01 0M437.5 425.62a1.05 1.05 0 1 0 .01 0M437.5 427.79a1.05 1.05 0 1 0 .01 0M437.5 432.72a1.05 1.05 0 1 0 .01 0M439.5 411.88a1.05 1.05 0 1 0 .01 0M439.5 414.39a1.05 1.05 0 1 0 .01 0M439.5 416.74a1.05 1.05 0 1 0 .01 0M439.5 418.92a1.05 1.05 0 1 0 .01 0M439.5 420.78a1.05 1.05 0 1 0 .01 0M439.5 422.47a1.05 1.05 0 1 0 .01 0M439.5 423.82a1.05 1.05 0 1 0 .01 0M439.5 425.57a1.05 1.05 0 1 0 .01 0M439.5 427.49a1.05 1.05 0 1 0 .01 0M439.5 429.56a1.05 1.05 0 1 0 .01 0M439.5 431.68a1.05 1.05 0 1 0 .01 0M439.5 434.82a1.05 1.05 0 1 0 .01 0M441.5 408.34a1.05 1.05 0 1 0 .01 0M441.5 413.77a1.05 1.05 0 1 0 .01 0M441.5 415.84a1.05 1.05 0 1 0 .01 0M441.5 419.28a1.05 1.05 0 1 0 .01 0M441.5 420.80a1.05 1.05 0 1 0 .01 0M441.5 422.12a1.05 1.05 0 1 0 .01 0M441.5 423.58a1.05 1.05 0 1 0 .01 0M441.5 425.33a1.05 1.05 0 1 0 .01 0M441.5 427.12a1.05 1.05 0 1 0 .01 0M441.5 429.03a1.05 1.05 0 1 0 .01 0M441.5 433.49a1.05 1.05 0 1 0 .01 0M443.5 406.83a1.05 1.05 0 1 0 .01 0M443.5 409.73a1.05 1.05 0 1 0 .01 0M443.5 412.42a1.05 1.05 0 1 0 .01 0M443.5 414.47a1.05 1.05 0 1 0 .01 0M443.5 416.41a1.05 1.05 0 1 0 .01 0M443.5 417.84a1.05 1.05 0 1 0 .01 0M443.5 419.39a1.05 1.05 0 1 0 .01 0M443.5 420.82a1.05 1.05 0 1 0 .01 0M443.5 422.74a1.05 1.05 0 1 0 .01 0M443.5 424.59a1.05 1.05 0 1 0 .01 0M443.5 426.67a1.05 1.05 0 1 0 .01 0M443.5 428.97a1.05 1.05 0 1 0 .01 0M444.5 402.70a1.05 1.05 0 1 0 .01 0M444.5 407.72a1.05 1.05 0 1 0 .01 0M444.5 409.66a1.05 1.05 0 1 0 .01 0M444.5 411.50a1.05 1.05 0 1 0 .01 0M444.5 413.45a1.05 1.05 0 1 0 .01 0M444.5 415.16a1.05 1.05 0 1 0 .01 0M444.5 416.52a1.05 1.05 0 1 0 .01 0M444.5 418.13a1.05 1.05 0 1 0 .01 0M444.5 419.78a1.05 1.05 0 1 0 .01 0M444.5 421.64a1.05 1.05 0 1 0 .01 0M444.5 426.03a1.05 1.05 0 1 0 .01 0M446.5 396.62a1.05 1.05 0 1 0 .01 0M446.5 402.12a1.05 1.05 0 1 0 .01 0M446.5 404.44a1.05 1.05 0 1 0 .01 0M446.5 406.18a1.05 1.05 0 1 0 .01 0M446.5 408.17a1.05 1.05 0 1 0 .01 0M446.5 410.04a1.05 1.05 0 1 0 .01 0M446.5 411.85a1.05 1.05 0 1 0 .01 0M446.5 413.75a1.05 1.05 0 1 0 .01 0M446.5 418.18a1.05 1.05 0 1 0 .01 0M446.5 420.58a1.05 1.05 0 1 0 .01 0M446.5 421.90a1.05 1.05 0 1 0 .01 0M449.5 393.84a1.05 1.05 0 1 0 .01 0M449.5 399.32a1.05 1.05 0 1 0 .01 0M449.5 400.98a1.05 1.05 0 1 0 .01 0M449.5 402.78a1.05 1.05 0 1 0 .01 0M449.5 404.27a1.05 1.05 0 1 0 .01 0M449.5 408.29a1.05 1.05 0 1 0 .01 0M449.5 410.51a1.05 1.05 0 1 0 .01 0M451.5 391.15a1.05 1.05 0 1 0 .01 0M451.5 394.04a1.05 1.05 0 1 0 .01 0M451.5 398.72a1.05 1.05 0 1 0 .01 0M451.5 400.71a1.05 1.05 0 1 0 .01 0M451.5 402.44a1.05 1.05 0 1 0 .01 0M451.5 403.95a1.05 1.05 0 1 0 .01 0M451.5 405.40a1.05 1.05 0 1 0 .01 0M451.5 407.20a1.05 1.05 0 1 0 .01 0M451.5 410.82a1.05 1.05 0 1 0 .01 0M451.5 412.65a1.05 1.05 0 1 0 .01 0M451.5 417.32a1.05 1.05 0 1 0 .01 0M453.5 396.96a1.05 1.05 0 1 0 .01 0M453.5 399.83a1.05 1.05 0 1 0 .01 0M453.5 402.25a1.05 1.05 0 1 0 .01 0M453.5 404.54a1.05 1.05 0 1 0 .01 0M453.5 408.10a1.05 1.05 0 1 0 .01 0M453.5 409.43a1.05 1.05 0 1 0 .01 0M453.5 411.43a1.05 1.05 0 1 0 .01 0M453.5 413.21a1.05 1.05 0 1 0 .01 0M453.5 417.11a1.05 1.05 0 1 0 .01 0M454.5 401.49a1.05 1.05 0 1 0 .01 0M454.5 404.11a1.05 1.05 0 1 0 .01 0M454.5 406.07a1.05 1.05 0 1 0 .01 0M454.5 407.91a1.05 1.05 0 1 0 .01 0M454.5 409.00a1.05 1.05 0 1 0 .01 0M456.5 393.51a1.05 1.05 0 1 0 .01 0M456.5 396.44a1.05 1.05 0 1 0 .01 0M456.5 400.87a1.05 1.05 0 1 0 .01 0M456.5 402.65a1.05 1.05 0 1 0 .01 0M456.5 404.18a1.05 1.05 0 1 0 .01 0M456.5 405.72a1.05 1.05 0 1 0 .01 0M456.5 409.16a1.05 1.05 0 1 0 .01 0M456.5 411.24a1.05 1.05 0 1 0 .01 0M456.5 413.85a1.05 1.05 0 1 0 .01 0M459.5 395.06a1.05 1.05 0 1 0 .01 0M459.5 400.10a1.05 1.05 0 1 0 .01 0M459.5 402.09a1.05 1.05 0 1 0 .01 0M459.5 403.69a1.05 1.05 0 1 0 .01 0M459.5 405.62a1.05 1.05 0 1 0 .01 0M459.5 407.49a1.05 1.05 0 1 0 .01 0M459.5 409.97a1.05 1.05 0 1 0 .01 0M461.5 391.81a1.05 1.05 0 1 0 .01 0M461.5 394.25a1.05 1.05 0 1 0 .01 0M461.5 396.51a1.05 1.05 0 1 0 .01 0M461.5 398.53a1.05 1.05 0 1 0 .01 0M461.5 400.64a1.05 1.05 0 1 0 .01 0M461.5 402.48a1.05 1.05 0 1 0 .01 0M461.5 405.73a1.05 1.05 0 1 0 .01 0M461.5 408.10a1.05 1.05 0 1 0 .01 0M461.5 410.32a1.05 1.05 0 1 0 .01 0M463.5 391.79a1.05 1.05 0 1 0 .01 0M463.5 394.38a1.05 1.05 0 1 0 .01 0M463.5 398.65a1.05 1.05 0 1 0 .01 0M463.5 400.31a1.05 1.05 0 1 0 .01 0M463.5 401.91a1.05 1.05 0 1 0 .01 0M463.5 403.81a1.05 1.05 0 1 0 .01 0M463.5 406.04a1.05 1.05 0 1 0 .01 0M463.5 408.01a1.05 1.05 0 1 0 .01 0M464.5 391.79a1.05 1.05 0 1 0 .01 0M464.5 397.29a1.05 1.05 0 1 0 .01 0M464.5 399.44a1.05 1.05 0 1 0 .01 0M464.5 400.83a1.05 1.05 0 1 0 .01 0M464.5 402.46a1.05 1.05 0 1 0 .01 0M464.5 404.45a1.05 1.05 0 1 0 .01 0M464.5 406.73a1.05 1.05 0 1 0 .01 0M464.5 408.90a1.05 1.05 0 1 0 .01 0M466.5 391.55a1.05 1.05 0 1 0 .01 0M466.5 394.47a1.05 1.05 0 1 0 .01 0M466.5 398.56a1.05 1.05 0 1 0 .01 0M466.5 400.36a1.05 1.05 0 1 0 .01 0M466.5 401.92a1.05 1.05 0 1 0 .01 0M466.5 404.01a1.05 1.05 0 1 0 .01 0M466.5 406.03a1.05 1.05 0 1 0 .01 0M466.5 407.74a1.05 1.05 0 1 0 .01 0M468.5 391.52a1.05 1.05 0 1 0 .01 0M468.5 396.49a1.05 1.05 0 1 0 .01 0M468.5 398.70a1.05 1.05 0 1 0 .01 0M468.5 400.48a1.05 1.05 0 1 0 .01 0M468.5 402.26a1.05 1.05 0 1 0 .01 0M468.5 404.19a1.05 1.05 0 1 0 .01 0M468.5 406.26a1.05 1.05 0 1 0 .01 0M468.5 408.65a1.05 1.05 0 1 0 .01 0M468.5 410.16a1.05 1.05 0 1 0 .01 0M470.5 391.25a1.05 1.05 0 1 0 .01 0M470.5 394.06a1.05 1.05 0 1 0 .01 0M470.5 396.61a1.05 1.05 0 1 0 .01 0M470.5 398.67a1.05 1.05 0 1 0 .01 0M470.5 400.14a1.05 1.05 0 1 0 .01 0M470.5 401.93a1.05 1.05 0 1 0 .01 0M470.5 403.62a1.05 1.05 0 1 0 .01 0M470.5 406.03a1.05 1.05 0 1 0 .01 0M470.5 406.82a1.05 1.05 0 1 0 .01 0M471.5 394.59a1.05 1.05 0 1 0 .01 0M471.5 397.36a1.05 1.05 0 1 0 .01 0M471.5 399.34a1.05 1.05 0 1 0 .01 0M471.5 400.86a1.05 1.05 0 1 0 .01 0M471.5 402.62a1.05 1.05 0 1 0 .01 0M471.5 404.57a1.05 1.05 0 1 0 .01 0M471.5 405.19a1.05 1.05 0 1 0 .01 0M473.5 386.21a1.05 1.05 0 1 0 .01 0M473.5 391.55a1.05 1.05 0 1 0 .01 0M473.5 393.77a1.05 1.05 0 1 0 .01 0M473.5 395.65a1.05 1.05 0 1 0 .01 0M473.5 397.42a1.05 1.05 0 1 0 .01 0M473.5 399.05a1.05 1.05 0 1 0 .01 0M473.5 400.47a1.05 1.05 0 1 0 .01 0M473.5 402.41a1.05 1.05 0 1 0 .01 0M473.5 404.63a1.05 1.05 0 1 0 .01 0M473.5 406.96a1.05 1.05 0 1 0 .01 0M473.5 409.61a1.05 1.05 0 1 0 .01 0M473.5 410.22a1.05 1.05 0 1 0 .01 0M475.5 386.46a1.05 1.05 0 1 0 .01 0M475.5 389.30a1.05 1.05 0 1 0 .01 0M475.5 393.87a1.05 1.05 0 1 0 .01 0M475.5 395.99a1.05 1.05 0 1 0 .01 0M475.5 397.95a1.05 1.05 0 1 0 .01 0M475.5 399.39a1.05 1.05 0 1 0 .01 0M475.5 401.14a1.05 1.05 0 1 0 .01 0M475.5 402.61a1.05 1.05 0 1 0 .01 0M475.5 404.65a1.05 1.05 0 1 0 .01 0M475.5 406.81a1.05 1.05 0 1 0 .01 0M475.5 408.84a1.05 1.05 0 1 0 .01 0M475.5 410.71a1.05 1.05 0 1 0 .01 0M477.5 384.66a1.05 1.05 0 1 0 .01 0M477.5 387.49a1.05 1.05 0 1 0 .01 0M477.5 390.15a1.05 1.05 0 1 0 .01 0M477.5 394.72a1.05 1.05 0 1 0 .01 0M477.5 396.61a1.05 1.05 0 1 0 .01 0M477.5 398.68a1.05 1.05 0 1 0 .01 0M477.5 400.35a1.05 1.05 0 1 0 .01 0M477.5 401.67a1.05 1.05 0 1 0 .01 0M477.5 403.10a1.05 1.05 0 1 0 .01 0M477.5 404.63a1.05 1.05 0 1 0 .01 0M477.5 406.61a1.05 1.05 0 1 0 .01 0M477.5 408.78a1.05 1.05 0 1 0 .01 0M477.5 411.03a1.05 1.05 0 1 0 .01 0M477.5 413.25a1.05 1.05 0 1 0 .01 0M477.5 417.89a1.05 1.05 0 1 0 .01 0M479.5 384.57a1.05 1.05 0 1 0 .01 0M479.5 387.00a1.05 1.05 0 1 0 .01 0M479.5 389.72a1.05 1.05 0 1 0 .01 0M479.5 392.00a1.05 1.05 0 1 0 .01 0M479.5 393.80a1.05 1.05 0 1 0 .01 0M479.5 395.60a1.05 1.05 0 1 0 .01 0M479.5 397.43a1.05 1.05 0 1 0 .01 0M479.5 399.25a1.05 1.05 0 1 0 .01 0M479.5 400.81a1.05 1.05 0 1 0 .01 0M479.5 402.59a1.05 1.05 0 1 0 .01 0M479.5 404.26a1.05 1.05 0 1 0 .01 0M479.5 406.10a1.05 1.05 0 1 0 .01 0M479.5 408.50a1.05 1.05 0 1 0 .01 0M479.5 410.79a1.05 1.05 0 1 0 .01 0M479.5 412.46a1.05 1.05 0 1 0 .01 0M480.5 384.66a1.05 1.05 0 1 0 .01 0M480.5 387.13a1.05 1.05 0 1 0 .01 0M480.5 389.62a1.05 1.05 0 1 0 .01 0M480.5 391.82a1.05 1.05 0 1 0 .01 0M480.5 394.02a1.05 1.05 0 1 0 .01 0M480.5 396.09a1.05 1.05 0 1 0 .01 0M480.5 398.04a1.05 1.05 0 1 0 .01 0M480.5 399.29a1.05 1.05 0 1 0 .01 0M480.5 400.89a1.05 1.05 0 1 0 .01 0M480.5 402.74a1.05 1.05 0 1 0 .01 0M480.5 404.43a1.05 1.05 0 1 0 .01 0M480.5 406.58a1.05 1.05 0 1 0 .01 0M480.5 408.86a1.05 1.05 0 1 0 .01 0M480.5 411.10a1.05 1.05 0 1 0 .01 0M480.5 412.46a1.05 1.05 0 1 0 .01 0M482.5 386.61a1.05 1.05 0 1 0 .01 0M482.5 391.58a1.05 1.05 0 1 0 .01 0M482.5 393.57a1.05 1.05 0 1 0 .01 0M482.5 395.78a1.05 1.05 0 1 0 .01 0M482.5 397.85a1.05 1.05 0 1 0 .01 0M482.5 399.74a1.05 1.05 0 1 0 .01 0M482.5 400.98a1.05 1.05 0 1 0 .01 0M482.5 402.85a1.05 1.05 0 1 0 .01 0M482.5 404.72a1.05 1.05 0 1 0 .01 0M482.5 411.65a1.05 1.05 0 1 0 .01 0M485.5 389.06a1.05 1.05 0 1 0 .01 0M485.5 391.86a1.05 1.05 0 1 0 .01 0M485.5 394.51a1.05 1.05 0 1 0 .01 0M485.5 396.63a1.05 1.05 0 1 0 .01 0M485.5 398.17a1.05 1.05 0 1 0 .01 0M485.5 399.78a1.05 1.05 0 1 0 .01 0M485.5 401.48a1.05 1.05 0 1 0 .01 0M485.5 403.03a1.05 1.05 0 1 0 .01 0M485.5 404.85a1.05 1.05 0 1 0 .01 0M485.5 407.28a1.05 1.05 0 1 0 .01 0M485.5 409.01a1.05 1.05 0 1 0 .01 0M488.5 387.24a1.05 1.05 0 1 0 .01 0M488.5 392.39a1.05 1.05 0 1 0 .01 0M488.5 394.65a1.05 1.05 0 1 0 .01 0M488.5 396.84a1.05 1.05 0 1 0 .01 0M488.5 398.70a1.05 1.05 0 1 0 .01 0M488.5 400.41a1.05 1.05 0 1 0 .01 0M488.5 402.30a1.05 1.05 0 1 0 .01 0M488.5 404.34a1.05 1.05 0 1 0 .01 0M488.5 406.52a1.05 1.05 0 1 0 .01 0M488.5 408.51a1.05 1.05 0 1 0 .01 0M488.5 410.74a1.05 1.05 0 1 0 .01 0M490.5 383.53a1.05 1.05 0 1 0 .01 0M490.5 386.33a1.05 1.05 0 1 0 .01 0M490.5 388.81a1.05 1.05 0 1 0 .01 0M490.5 391.21a1.05 1.05 0 1 0 .01 0M490.5 393.51a1.05 1.05 0 1 0 .01 0M490.5 395.64a1.05 1.05 0 1 0 .01 0M490.5 397.37a1.05 1.05 0 1 0 .01 0M490.5 399.26a1.05 1.05 0 1 0 .01 0M490.5 400.54a1.05 1.05 0 1 0 .01 0M490.5 402.08a1.05 1.05 0 1 0 .01 0M490.5 403.62a1.05 1.05 0 1 0 .01 0M490.5 405.38a1.05 1.05 0 1 0 .01 0M490.5 407.16a1.05 1.05 0 1 0 .01 0M490.5 409.35a1.05 1.05 0 1 0 .01 0M490.5 415.94a1.05 1.05 0 1 0 .01 0M490.5 417.02a1.05 1.05 0 1 0 .01 0M492.5 386.74a1.05 1.05 0 1 0 .01 0M492.5 391.60a1.05 1.05 0 1 0 .01 0M492.5 394.07a1.05 1.05 0 1 0 .01 0M492.5 396.09a1.05 1.05 0 1 0 .01 0M492.5 397.90a1.05 1.05 0 1 0 .01 0M492.5 399.26a1.05 1.05 0 1 0 .01 0M492.5 401.11a1.05 1.05 0 1 0 .01 0M492.5 402.75a1.05 1.05 0 1 0 .01 0M492.5 404.62a1.05 1.05 0 1 0 .01 0M492.5 406.66a1.05 1.05 0 1 0 .01 0M492.5 410.16a1.05 1.05 0 1 0 .01 0M494.5 384.86a1.05 1.05 0 1 0 .01 0M494.5 387.56a1.05 1.05 0 1 0 .01 0M494.5 392.63a1.05 1.05 0 1 0 .01 0M494.5 394.50a1.05 1.05 0 1 0 .01 0M494.5 396.51a1.05 1.05 0 1 0 .01 0M494.5 397.98a1.05 1.05 0 1 0 .01 0M494.5 399.27a1.05 1.05 0 1 0 .01 0M494.5 400.73a1.05 1.05 0 1 0 .01 0M494.5 402.39a1.05 1.05 0 1 0 .01 0M494.5 404.36a1.05 1.05 0 1 0 .01 0M494.5 406.36a1.05 1.05 0 1 0 .01 0M494.5 410.89a1.05 1.05 0 1 0 .01 0M494.5 411.86a1.05 1.05 0 1 0 .01 0M495.5 384.97a1.05 1.05 0 1 0 .01 0M495.5 390.05a1.05 1.05 0 1 0 .01 0M495.5 392.16a1.05 1.05 0 1 0 .01 0M495.5 393.97a1.05 1.05 0 1 0 .01 0M495.5 395.93a1.05 1.05 0 1 0 .01 0M495.5 397.40a1.05 1.05 0 1 0 .01 0M495.5 398.88a1.05 1.05 0 1 0 .01 0M495.5 400.27a1.05 1.05 0 1 0 .01 0M495.5 402.18a1.05 1.05 0 1 0 .01 0M495.5 404.26a1.05 1.05 0 1 0 .01 0M495.5 406.18a1.05 1.05 0 1 0 .01 0M495.5 412.14a1.05 1.05 0 1 0 .01 0M496.5 373.74a1.05 1.05 0 1 0 .01 0M496.5 376.20a1.05 1.05 0 1 0 .01 0M496.5 378.67a1.05 1.05 0 1 0 .01 0M496.5 380.96a1.05 1.05 0 1 0 .01 0M496.5 383.06a1.05 1.05 0 1 0 .01 0M496.5 385.13a1.05 1.05 0 1 0 .01 0M496.5 387.07a1.05 1.05 0 1 0 .01 0M496.5 390.41a1.05 1.05 0 1 0 .01 0M496.5 392.00a1.05 1.05 0 1 0 .01 0M496.5 393.45a1.05 1.05 0 1 0 .01 0M496.5 395.04a1.05 1.05 0 1 0 .01 0M496.5 397.00a1.05 1.05 0 1 0 .01 0M496.5 399.08a1.05 1.05 0 1 0 .01 0M496.5 401.00a1.05 1.05 0 1 0 .01 0M496.5 402.84a1.05 1.05 0 1 0 .01 0M496.5 404.87a1.05 1.05 0 1 0 .01 0M496.5 407.08a1.05 1.05 0 1 0 .01 0M496.5 409.54a1.05 1.05 0 1 0 .01 0M496.5 410.15a1.05 1.05 0 1 0 .01 0M498.5 375.94a1.05 1.05 0 1 0 .01 0M498.5 378.81a1.05 1.05 0 1 0 .01 0M498.5 383.51a1.05 1.05 0 1 0 .01 0M498.5 385.65a1.05 1.05 0 1 0 .01 0M498.5 387.52a1.05 1.05 0 1 0 .01 0M498.5 389.40a1.05 1.05 0 1 0 .01 0M498.5 391.21a1.05 1.05 0 1 0 .01 0M498.5 393.01a1.05 1.05 0 1 0 .01 0M498.5 394.77a1.05 1.05 0 1 0 .01 0M498.5 396.50a1.05 1.05 0 1 0 .01 0M498.5 398.38a1.05 1.05 0 1 0 .01 0M498.5 400.00a1.05 1.05 0 1 0 .01 0M498.5 404.43a1.05 1.05 0 1 0 .01 0M498.5 409.15a1.05 1.05 0 1 0 .01 0M501.5 380.75a1.05 1.05 0 1 0 .01 0M501.5 387.73a1.05 1.05 0 1 0 .01 0M501.5 389.90a1.05 1.05 0 1 0 .01 0M501.5 391.64a1.05 1.05 0 1 0 .01 0M501.5 393.44a1.05 1.05 0 1 0 .01 0M501.5 395.39a1.05 1.05 0 1 0 .01 0M501.5 397.13a1.05 1.05 0 1 0 .01 0M501.5 398.77a1.05 1.05 0 1 0 .01 0M501.5 400.26a1.05 1.05 0 1 0 .01 0M501.5 402.29a1.05 1.05 0 1 0 .01 0M501.5 404.03a1.05 1.05 0 1 0 .01 0M501.5 406.08a1.05 1.05 0 1 0 .01 0M501.5 408.19a1.05 1.05 0 1 0 .01 0M501.5 410.74a1.05 1.05 0 1 0 .01 0M501.5 412.42a1.05 1.05 0 1 0 .01 0M503.5 380.01a1.05 1.05 0 1 0 .01 0M503.5 382.73a1.05 1.05 0 1 0 .01 0M503.5 387.81a1.05 1.05 0 1 0 .01 0M503.5 389.66a1.05 1.05 0 1 0 .01 0M503.5 391.49a1.05 1.05 0 1 0 .01 0M503.5 393.13a1.05 1.05 0 1 0 .01 0M503.5 394.90a1.05 1.05 0 1 0 .01 0M503.5 396.46a1.05 1.05 0 1 0 .01 0M503.5 397.94a1.05 1.05 0 1 0 .01 0M503.5 399.81a1.05 1.05 0 1 0 .01 0M503.5 401.68a1.05 1.05 0 1 0 .01 0M503.5 403.81a1.05 1.05 0 1 0 .01 0M503.5 406.16a1.05 1.05 0 1 0 .01 0M503.5 408.27a1.05 1.05 0 1 0 .01 0M503.5 410.95a1.05 1.05 0 1 0 .01 0M503.5 412.18a1.05 1.05 0 1 0 .01 0M506.5 375.48a1.05 1.05 0 1 0 .01 0M506.5 380.68a1.05 1.05 0 1 0 .01 0M506.5 383.08a1.05 1.05 0 1 0 .01 0M506.5 385.11a1.05 1.05 0 1 0 .01 0M506.5 389.19a1.05 1.05 0 1 0 .01 0M506.5 391.22a1.05 1.05 0 1 0 .01 0M506.5 392.92a1.05 1.05 0 1 0 .01 0M506.5 394.37a1.05 1.05 0 1 0 .01 0M506.5 396.24a1.05 1.05 0 1 0 .01 0M506.5 397.83a1.05 1.05 0 1 0 .01 0M506.5 401.97a1.05 1.05 0 1 0 .01 0M506.5 403.83a1.05 1.05 0 1 0 .01 0M506.5 406.20a1.05 1.05 0 1 0 .01 0M506.5 410.27a1.05 1.05 0 1 0 .01 0M508.5 377.95a1.05 1.05 0 1 0 .01 0M508.5 380.48a1.05 1.05 0 1 0 .01 0M508.5 384.95a1.05 1.05 0 1 0 .01 0M508.5 386.96a1.05 1.05 0 1 0 .01 0M508.5 388.99a1.05 1.05 0 1 0 .01 0M508.5 390.89a1.05 1.05 0 1 0 .01 0M508.5 392.45a1.05 1.05 0 1 0 .01 0M508.5 394.21a1.05 1.05 0 1 0 .01 0M508.5 396.07a1.05 1.05 0 1 0 .01 0M508.5 397.65a1.05 1.05 0 1 0 .01 0M508.5 399.21a1.05 1.05 0 1 0 .01 0M508.5 401.08a1.05 1.05 0 1 0 .01 0M508.5 402.92a1.05 1.05 0 1 0 .01 0M508.5 404.72a1.05 1.05 0 1 0 .01 0M508.5 411.33a1.05 1.05 0 1 0 .01 0M508.5 413.16a1.05 1.05 0 1 0 .01 0M510.5 378.92a1.05 1.05 0 1 0 .01 0M510.5 381.34a1.05 1.05 0 1 0 .01 0M510.5 384.03a1.05 1.05 0 1 0 .01 0M510.5 388.41a1.05 1.05 0 1 0 .01 0M510.5 390.23a1.05 1.05 0 1 0 .01 0M510.5 391.86a1.05 1.05 0 1 0 .01 0M510.5 393.37a1.05 1.05 0 1 0 .01 0M510.5 395.20a1.05 1.05 0 1 0 .01 0M510.5 396.93a1.05 1.05 0 1 0 .01 0M510.5 399.96a1.05 1.05 0 1 0 .01 0M510.5 401.63a1.05 1.05 0 1 0 .01 0M510.5 403.43a1.05 1.05 0 1 0 .01 0M510.5 405.43a1.05 1.05 0 1 0 .01 0M510.5 407.75a1.05 1.05 0 1 0 .01 0M510.5 410.01a1.05 1.05 0 1 0 .01 0M512.5 376.62a1.05 1.05 0 1 0 .01 0M512.5 379.12a1.05 1.05 0 1 0 .01 0M512.5 381.76a1.05 1.05 0 1 0 .01 0M512.5 384.03a1.05 1.05 0 1 0 .01 0M512.5 386.35a1.05 1.05 0 1 0 .01 0M512.5 388.21a1.05 1.05 0 1 0 .01 0M512.5 390.28a1.05 1.05 0 1 0 .01 0M512.5 392.21a1.05 1.05 0 1 0 .01 0M512.5 393.58a1.05 1.05 0 1 0 .01 0M512.5 395.15a1.05 1.05 0 1 0 .01 0M512.5 396.55a1.05 1.05 0 1 0 .01 0M512.5 398.37a1.05 1.05 0 1 0 .01 0M512.5 400.36a1.05 1.05 0 1 0 .01 0M512.5 402.49a1.05 1.05 0 1 0 .01 0M512.5 404.43a1.05 1.05 0 1 0 .01 0M512.5 406.43a1.05 1.05 0 1 0 .01 0M512.5 411.07a1.05 1.05 0 1 0 .01 0M513.5 371.05a1.05 1.05 0 1 0 .01 0M513.5 373.53a1.05 1.05 0 1 0 .01 0M513.5 378.20a1.05 1.05 0 1 0 .01 0M513.5 382.62a1.05 1.05 0 1 0 .01 0M513.5 384.72a1.05 1.05 0 1 0 .01 0M513.5 386.70a1.05 1.05 0 1 0 .01 0M513.5 388.62a1.05 1.05 0 1 0 .01 0M513.5 390.18a1.05 1.05 0 1 0 .01 0M513.5 391.72a1.05 1.05 0 1 0 .01 0M513.5 393.18a1.05 1.05 0 1 0 .01 0M513.5 395.00a1.05 1.05 0 1 0 .01 0M513.5 396.66a1.05 1.05 0 1 0 .01 0M513.5 398.40a1.05 1.05 0 1 0 .01 0M513.5 400.28a1.05 1.05 0 1 0 .01 0M513.5 406.64a1.05 1.05 0 1 0 .01 0M513.5 410.16a1.05 1.05 0 1 0 .01 0M514.5 373.18a1.05 1.05 0 1 0 .01 0M514.5 375.64a1.05 1.05 0 1 0 .01 0M514.5 378.16a1.05 1.05 0 1 0 .01 0M514.5 380.61a1.05 1.05 0 1 0 .01 0M514.5 382.70a1.05 1.05 0 1 0 .01 0M514.5 384.50a1.05 1.05 0 1 0 .01 0M514.5 386.76a1.05 1.05 0 1 0 .01 0M514.5 388.82a1.05 1.05 0 1 0 .01 0M514.5 390.28a1.05 1.05 0 1 0 .01 0M514.5 391.85a1.05 1.05 0 1 0 .01 0M514.5 393.44a1.05 1.05 0 1 0 .01 0M514.5 394.93a1.05 1.05 0 1 0 .01 0M514.5 396.39a1.05 1.05 0 1 0 .01 0M514.5 398.34a1.05 1.05 0 1 0 .01 0M514.5 400.44a1.05 1.05 0 1 0 .01 0M514.5 402.47a1.05 1.05 0 1 0 .01 0M514.5 404.42a1.05 1.05 0 1 0 .01 0M514.5 408.91a1.05 1.05 0 1 0 .01 0M514.5 410.16a1.05 1.05 0 1 0 .01 0M515.5 373.18a1.05 1.05 0 1 0 .01 0M515.5 375.69a1.05 1.05 0 1 0 .01 0M515.5 383.05a1.05 1.05 0 1 0 .01 0M515.5 384.92a1.05 1.05 0 1 0 .01 0M515.5 387.02a1.05 1.05 0 1 0 .01 0M515.5 388.96a1.05 1.05 0 1 0 .01 0M515.5 390.88a1.05 1.05 0 1 0 .01 0M515.5 392.41a1.05 1.05 0 1 0 .01 0M515.5 394.19a1.05 1.05 0 1 0 .01 0M515.5 395.88a1.05 1.05 0 1 0 .01 0M515.5 397.85a1.05 1.05 0 1 0 .01 0M515.5 399.49a1.05 1.05 0 1 0 .01 0M515.5 403.88a1.05 1.05 0 1 0 .01 0M515.5 406.31a1.05 1.05 0 1 0 .01 0M515.5 409.71a1.05 1.05 0 1 0 .01 0M517.5 360.89a1.05 1.05 0 1 0 .01 0M517.5 363.46a1.05 1.05 0 1 0 .01 0M517.5 366.30a1.05 1.05 0 1 0 .01 0M517.5 375.47a1.05 1.05 0 1 0 .01 0M517.5 377.48a1.05 1.05 0 1 0 .01 0M517.5 379.60a1.05 1.05 0 1 0 .01 0M517.5 381.56a1.05 1.05 0 1 0 .01 0M517.5 383.32a1.05 1.05 0 1 0 .01 0M517.5 384.63a1.05 1.05 0 1 0 .01 0M517.5 386.38a1.05 1.05 0 1 0 .01 0M517.5 387.75a1.05 1.05 0 1 0 .01 0M517.5 389.18a1.05 1.05 0 1 0 .01 0M517.5 390.78a1.05 1.05 0 1 0 .01 0M517.5 392.57a1.05 1.05 0 1 0 .01 0M517.5 394.35a1.05 1.05 0 1 0 .01 0M517.5 396.28a1.05 1.05 0 1 0 .01 0M517.5 398.23a1.05 1.05 0 1 0 .01 0M517.5 400.23a1.05 1.05 0 1 0 .01 0M517.5 407.34a1.05 1.05 0 1 0 .01 0M517.5 409.01a1.05 1.05 0 1 0 .01 0M519.5 365.80a1.05 1.05 0 1 0 .01 0M519.5 368.48a1.05 1.05 0 1 0 .01 0M519.5 373.60a1.05 1.05 0 1 0 .01 0M519.5 376.17a1.05 1.05 0 1 0 .01 0M519.5 380.37a1.05 1.05 0 1 0 .01 0M519.5 382.56a1.05 1.05 0 1 0 .01 0M519.5 384.38a1.05 1.05 0 1 0 .01 0M519.5 386.36a1.05 1.05 0 1 0 .01 0M519.5 388.15a1.05 1.05 0 1 0 .01 0M519.5 389.59a1.05 1.05 0 1 0 .01 0M519.5 391.33a1.05 1.05 0 1 0 .01 0M519.5 392.99a1.05 1.05 0 1 0 .01 0M519.5 394.45a1.05 1.05 0 1 0 .01 0M519.5 396.27a1.05 1.05 0 1 0 .01 0M519.5 398.33a1.05 1.05 0 1 0 .01 0M519.5 400.32a1.05 1.05 0 1 0 .01 0M519.5 402.38a1.05 1.05 0 1 0 .01 0M519.5 404.51a1.05 1.05 0 1 0 .01 0M519.5 411.91a1.05 1.05 0 1 0 .01 0M519.5 412.53a1.05 1.05 0 1 0 .01 0M521.5 370.57a1.05 1.05 0 1 0 .01 0M521.5 376.08a1.05 1.05 0 1 0 .01 0M521.5 378.62a1.05 1.05 0 1 0 .01 0M521.5 380.58a1.05 1.05 0 1 0 .01 0M521.5 382.94a1.05 1.05 0 1 0 .01 0M521.5 385.01a1.05 1.05 0 1 0 .01 0M521.5 386.83a1.05 1.05 0 1 0 .01 0M521.5 388.82a1.05 1.05 0 1 0 .01 0M521.5 390.74a1.05 1.05 0 1 0 .01 0M521.5 392.11a1.05 1.05 0 1 0 .01 0M521.5 393.33a1.05 1.05 0 1 0 .01 0M521.5 394.99a1.05 1.05 0 1 0 .01 0M521.5 396.88a1.05 1.05 0 1 0 .01 0M521.5 398.42a1.05 1.05 0 1 0 .01 0M521.5 400.32a1.05 1.05 0 1 0 .01 0M521.5 402.02a1.05 1.05 0 1 0 .01 0M521.5 403.81a1.05 1.05 0 1 0 .01 0M521.5 408.49a1.05 1.05 0 1 0 .01 0M521.5 413.48a1.05 1.05 0 1 0 .01 0M524.5 370.77a1.05 1.05 0 1 0 .01 0M524.5 373.71a1.05 1.05 0 1 0 .01 0M524.5 376.04a1.05 1.05 0 1 0 .01 0M524.5 380.75a1.05 1.05 0 1 0 .01 0M524.5 382.94a1.05 1.05 0 1 0 .01 0M524.5 384.95a1.05 1.05 0 1 0 .01 0M524.5 386.83a1.05 1.05 0 1 0 .01 0M524.5 388.32a1.05 1.05 0 1 0 .01 0M524.5 390.05a1.05 1.05 0 1 0 .01 0M524.5 391.89a1.05 1.05 0 1 0 .01 0M524.5 393.34a1.05 1.05 0 1 0 .01 0M524.5 395.41a1.05 1.05 0 1 0 .01 0M524.5 397.32a1.05 1.05 0 1 0 .01 0M524.5 399.15a1.05 1.05 0 1 0 .01 0M524.5 401.09a1.05 1.05 0 1 0 .01 0M524.5 403.60a1.05 1.05 0 1 0 .01 0M524.5 406.20a1.05 1.05 0 1 0 .01 0M525.5 380.52a1.05 1.05 0 1 0 .01 0M525.5 383.20a1.05 1.05 0 1 0 .01 0M525.5 385.54a1.05 1.05 0 1 0 .01 0M525.5 387.81a1.05 1.05 0 1 0 .01 0M525.5 389.87a1.05 1.05 0 1 0 .01 0M525.5 391.77a1.05 1.05 0 1 0 .01 0M525.5 393.49a1.05 1.05 0 1 0 .01 0M525.5 394.91a1.05 1.05 0 1 0 .01 0M525.5 396.37a1.05 1.05 0 1 0 .01 0M525.5 397.97a1.05 1.05 0 1 0 .01 0M525.5 399.51a1.05 1.05 0 1 0 .01 0M525.5 403.44a1.05 1.05 0 1 0 .01 0M525.5 405.62a1.05 1.05 0 1 0 .01 0M525.5 408.21a1.05 1.05 0 1 0 .01 0M526.5 387.69a1.05 1.05 0 1 0 .01 0M526.5 390.44a1.05 1.05 0 1 0 .01 0M526.5 392.97a1.05 1.05 0 1 0 .01 0M526.5 395.04a1.05 1.05 0 1 0 .01 0M526.5 397.26a1.05 1.05 0 1 0 .01 0M526.5 399.01a1.05 1.05 0 1 0 .01 0M526.5 400.50a1.05 1.05 0 1 0 .01 0M526.5 401.92a1.05 1.05 0 1 0 .01 0M526.5 403.43a1.05 1.05 0 1 0 .01 0M526.5 405.57a1.05 1.05 0 1 0 .01 0M526.5 407.87a1.05 1.05 0 1 0 .01 0M526.5 409.93a1.05 1.05 0 1 0 .01 0M526.5 411.31a1.05 1.05 0 1 0 .01 0M528.5 386.96a1.05 1.05 0 1 0 .01 0M528.5 389.84a1.05 1.05 0 1 0 .01 0M528.5 392.02a1.05 1.05 0 1 0 .01 0M528.5 394.46a1.05 1.05 0 1 0 .01 0M528.5 396.58a1.05 1.05 0 1 0 .01 0M528.5 400.08a1.05 1.05 0 1 0 .01 0M528.5 401.50a1.05 1.05 0 1 0 .01 0M528.5 403.08a1.05 1.05 0 1 0 .01 0M528.5 405.06a1.05 1.05 0 1 0 .01 0M528.5 408.69a1.05 1.05 0 1 0 .01 0M528.5 410.73a1.05 1.05 0 1 0 .01 0M528.5 414.16a1.05 1.05 0 1 0 .01 0M529.5 377.77a1.05 1.05 0 1 0 .01 0M529.5 380.62a1.05 1.05 0 1 0 .01 0M529.5 387.81a1.05 1.05 0 1 0 .01 0M529.5 389.64a1.05 1.05 0 1 0 .01 0M529.5 391.40a1.05 1.05 0 1 0 .01 0M529.5 393.00a1.05 1.05 0 1 0 .01 0M529.5 394.91a1.05 1.05 0 1 0 .01 0M529.5 396.66a1.05 1.05 0 1 0 .01 0M529.5 398.00a1.05 1.05 0 1 0 .01 0M529.5 399.31a1.05 1.05 0 1 0 .01 0M529.5 400.71a1.05 1.05 0 1 0 .01 0M529.5 402.45a1.05 1.05 0 1 0 .01 0M529.5 404.33a1.05 1.05 0 1 0 .01 0M529.5 406.50a1.05 1.05 0 1 0 .01 0M529.5 408.44a1.05 1.05 0 1 0 .01 0M529.5 410.87a1.05 1.05 0 1 0 .01 0M529.5 415.47a1.05 1.05 0 1 0 .01 0M529.5 417.80a1.05 1.05 0 1 0 .01 0M531.5 381.22a1.05 1.05 0 1 0 .01 0M531.5 386.34a1.05 1.05 0 1 0 .01 0M531.5 388.68a1.05 1.05 0 1 0 .01 0M531.5 390.84a1.05 1.05 0 1 0 .01 0M531.5 394.61a1.05 1.05 0 1 0 .01 0M531.5 396.43a1.05 1.05 0 1 0 .01 0M531.5 398.03a1.05 1.05 0 1 0 .01 0M531.5 401.56a1.05 1.05 0 1 0 .01 0M531.5 403.59a1.05 1.05 0 1 0 .01 0M531.5 405.71a1.05 1.05 0 1 0 .01 0M531.5 407.70a1.05 1.05 0 1 0 .01 0M531.5 410.03a1.05 1.05 0 1 0 .01 0M531.5 412.22a1.05 1.05 0 1 0 .01 0M531.5 414.48a1.05 1.05 0 1 0 .01 0M533.5 383.12a1.05 1.05 0 1 0 .01 0M533.5 385.69a1.05 1.05 0 1 0 .01 0M533.5 388.43a1.05 1.05 0 1 0 .01 0M533.5 392.81a1.05 1.05 0 1 0 .01 0M533.5 394.88a1.05 1.05 0 1 0 .01 0M533.5 396.41a1.05 1.05 0 1 0 .01 0M533.5 398.19a1.05 1.05 0 1 0 .01 0M533.5 399.76a1.05 1.05 0 1 0 .01 0M533.5 401.65a1.05 1.05 0 1 0 .01 0M533.5 403.51a1.05 1.05 0 1 0 .01 0M533.5 405.43a1.05 1.05 0 1 0 .01 0M533.5 407.80a1.05 1.05 0 1 0 .01 0M533.5 409.86a1.05 1.05 0 1 0 .01 0M533.5 412.50a1.05 1.05 0 1 0 .01 0M534.5 375.34a1.05 1.05 0 1 0 .01 0M534.5 380.84a1.05 1.05 0 1 0 .01 0M534.5 383.28a1.05 1.05 0 1 0 .01 0M534.5 385.35a1.05 1.05 0 1 0 .01 0M534.5 387.51a1.05 1.05 0 1 0 .01 0M534.5 389.34a1.05 1.05 0 1 0 .01 0M534.5 391.27a1.05 1.05 0 1 0 .01 0M534.5 393.09a1.05 1.05 0 1 0 .01 0M534.5 394.95a1.05 1.05 0 1 0 .01 0M534.5 396.21a1.05 1.05 0 1 0 .01 0M534.5 398.02a1.05 1.05 0 1 0 .01 0M534.5 399.93a1.05 1.05 0 1 0 .01 0M534.5 401.65a1.05 1.05 0 1 0 .01 0M534.5 403.66a1.05 1.05 0 1 0 .01 0M534.5 405.95a1.05 1.05 0 1 0 .01 0M534.5 410.95a1.05 1.05 0 1 0 .01 0M534.5 413.39a1.05 1.05 0 1 0 .01 0M536.5 388.48a1.05 1.05 0 1 0 .01 0M536.5 393.62a1.05 1.05 0 1 0 .01 0M536.5 395.52a1.05 1.05 0 1 0 .01 0M536.5 397.56a1.05 1.05 0 1 0 .01 0M536.5 398.97a1.05 1.05 0 1 0 .01 0M536.5 400.43a1.05 1.05 0 1 0 .01 0M536.5 401.94a1.05 1.05 0 1 0 .01 0M536.5 403.70a1.05 1.05 0 1 0 .01 0M536.5 406.17a1.05 1.05 0 1 0 .01 0M536.5 407.91a1.05 1.05 0 1 0 .01 0M538.5 390.18a1.05 1.05 0 1 0 .01 0M538.5 393.13a1.05 1.05 0 1 0 .01 0M538.5 395.34a1.05 1.05 0 1 0 .01 0M538.5 399.65a1.05 1.05 0 1 0 .01 0M538.5 401.37a1.05 1.05 0 1 0 .01 0M538.5 402.78a1.05 1.05 0 1 0 .01 0M538.5 404.09a1.05 1.05 0 1 0 .01 0M538.5 405.73a1.05 1.05 0 1 0 .01 0M538.5 409.40a1.05 1.05 0 1 0 .01 0M538.5 411.50a1.05 1.05 0 1 0 .01 0M538.5 413.91a1.05 1.05 0 1 0 .01 0M538.5 414.76a1.05 1.05 0 1 0 .01 0M540.5 381.45a1.05 1.05 0 1 0 .01 0M540.5 384.41a1.05 1.05 0 1 0 .01 0M540.5 387.01a1.05 1.05 0 1 0 .01 0M540.5 389.28a1.05 1.05 0 1 0 .01 0M540.5 391.64a1.05 1.05 0 1 0 .01 0M540.5 393.39a1.05 1.05 0 1 0 .01 0M540.5 395.46a1.05 1.05 0 1 0 .01 0M540.5 397.20a1.05 1.05 0 1 0 .01 0M540.5 398.52a1.05 1.05 0 1 0 .01 0M540.5 399.92a1.05 1.05 0 1 0 .01 0M540.5 401.43a1.05 1.05 0 1 0 .01 0M540.5 403.12a1.05 1.05 0 1 0 .01 0M540.5 405.18a1.05 1.05 0 1 0 .01 0M540.5 409.71a1.05 1.05 0 1 0 .01 0M540.5 412.10a1.05 1.05 0 1 0 .01 0M540.5 413.20a1.05 1.05 0 1 0 .01 0M542.5 383.51a1.05 1.05 0 1 0 .01 0M542.5 386.34a1.05 1.05 0 1 0 .01 0M542.5 388.84a1.05 1.05 0 1 0 .01 0M542.5 390.94a1.05 1.05 0 1 0 .01 0M542.5 393.11a1.05 1.05 0 1 0 .01 0M542.5 395.37a1.05 1.05 0 1 0 .01 0M542.5 397.40a1.05 1.05 0 1 0 .01 0M542.5 398.87a1.05 1.05 0 1 0 .01 0M542.5 400.22a1.05 1.05 0 1 0 .01 0M542.5 401.57a1.05 1.05 0 1 0 .01 0M542.5 403.31a1.05 1.05 0 1 0 .01 0M542.5 405.28a1.05 1.05 0 1 0 .01 0M542.5 407.52a1.05 1.05 0 1 0 .01 0M542.5 409.77a1.05 1.05 0 1 0 .01 0M542.5 412.01a1.05 1.05 0 1 0 .01 0M542.5 414.78a1.05 1.05 0 1 0 .01 0M543.5 383.17a1.05 1.05 0 1 0 .01 0M543.5 388.45a1.05 1.05 0 1 0 .01 0M543.5 392.50a1.05 1.05 0 1 0 .01 0M543.5 394.30a1.05 1.05 0 1 0 .01 0M543.5 396.24a1.05 1.05 0 1 0 .01 0M543.5 398.16a1.05 1.05 0 1 0 .01 0M543.5 399.56a1.05 1.05 0 1 0 .01 0M543.5 401.06a1.05 1.05 0 1 0 .01 0M543.5 402.72a1.05 1.05 0 1 0 .01 0M543.5 404.49a1.05 1.05 0 1 0 .01 0M543.5 406.30a1.05 1.05 0 1 0 .01 0M543.5 408.33a1.05 1.05 0 1 0 .01 0M543.5 410.18a1.05 1.05 0 1 0 .01 0M543.5 414.59a1.05 1.05 0 1 0 .01 0M543.5 415.86a1.05 1.05 0 1 0 .01 0M546.5 383.32a1.05 1.05 0 1 0 .01 0M546.5 388.41a1.05 1.05 0 1 0 .01 0M546.5 390.92a1.05 1.05 0 1 0 .01 0M546.5 393.04a1.05 1.05 0 1 0 .01 0M546.5 395.16a1.05 1.05 0 1 0 .01 0M546.5 396.82a1.05 1.05 0 1 0 .01 0M546.5 398.51a1.05 1.05 0 1 0 .01 0M546.5 400.38a1.05 1.05 0 1 0 .01 0M546.5 401.67a1.05 1.05 0 1 0 .01 0M546.5 403.29a1.05 1.05 0 1 0 .01 0M546.5 405.27a1.05 1.05 0 1 0 .01 0M546.5 407.19a1.05 1.05 0 1 0 .01 0M546.5 409.20a1.05 1.05 0 1 0 .01 0M546.5 411.64a1.05 1.05 0 1 0 .01 0M546.5 416.75a1.05 1.05 0 1 0 .01 0M548.5 381.56a1.05 1.05 0 1 0 .01 0M548.5 384.13a1.05 1.05 0 1 0 .01 0M548.5 386.62a1.05 1.05 0 1 0 .01 0M548.5 388.90a1.05 1.05 0 1 0 .01 0M548.5 391.31a1.05 1.05 0 1 0 .01 0M548.5 393.40a1.05 1.05 0 1 0 .01 0M548.5 395.20a1.05 1.05 0 1 0 .01 0M548.5 399.23a1.05 1.05 0 1 0 .01 0M548.5 400.75a1.05 1.05 0 1 0 .01 0M548.5 402.19a1.05 1.05 0 1 0 .01 0M548.5 403.55a1.05 1.05 0 1 0 .01 0M548.5 404.91a1.05 1.05 0 1 0 .01 0M548.5 406.29a1.05 1.05 0 1 0 .01 0M548.5 407.96a1.05 1.05 0 1 0 .01 0M548.5 409.58a1.05 1.05 0 1 0 .01 0M548.5 411.45a1.05 1.05 0 1 0 .01 0M548.5 413.17a1.05 1.05 0 1 0 .01 0M548.5 414.88a1.05 1.05 0 1 0 .01 0M548.5 417.18a1.05 1.05 0 1 0 .01 0M548.5 421.64a1.05 1.05 0 1 0 .01 0M548.5 423.77a1.05 1.05 0 1 0 .01 0M548.5 426.34a1.05 1.05 0 1 0 .01 0M548.5 427.38a1.05 1.05 0 1 0 .01 0M551.5 381.83a1.05 1.05 0 1 0 .01 0M551.5 384.66a1.05 1.05 0 1 0 .01 0M551.5 389.14a1.05 1.05 0 1 0 .01 0M551.5 391.38a1.05 1.05 0 1 0 .01 0M551.5 393.05a1.05 1.05 0 1 0 .01 0M551.5 394.61a1.05 1.05 0 1 0 .01 0M551.5 396.24a1.05 1.05 0 1 0 .01 0M551.5 398.06a1.05 1.05 0 1 0 .01 0M551.5 399.90a1.05 1.05 0 1 0 .01 0M551.5 401.48a1.05 1.05 0 1 0 .01 0M551.5 403.54a1.05 1.05 0 1 0 .01 0M551.5 405.69a1.05 1.05 0 1 0 .01 0M551.5 408.04a1.05 1.05 0 1 0 .01 0M551.5 410.41a1.05 1.05 0 1 0 .01 0M551.5 413.01a1.05 1.05 0 1 0 .01 0M553.5 381.22a1.05 1.05 0 1 0 .01 0M553.5 386.09a1.05 1.05 0 1 0 .01 0M553.5 388.53a1.05 1.05 0 1 0 .01 0M553.5 390.69a1.05 1.05 0 1 0 .01 0M553.5 392.66a1.05 1.05 0 1 0 .01 0M553.5 394.56a1.05 1.05 0 1 0 .01 0M553.5 396.46a1.05 1.05 0 1 0 .01 0M553.5 398.33a1.05 1.05 0 1 0 .01 0M553.5 399.88a1.05 1.05 0 1 0 .01 0M553.5 401.49a1.05 1.05 0 1 0 .01 0M553.5 403.07a1.05 1.05 0 1 0 .01 0M553.5 405.07a1.05 1.05 0 1 0 .01 0M553.5 406.73a1.05 1.05 0 1 0 .01 0M553.5 408.65a1.05 1.05 0 1 0 .01 0M553.5 410.73a1.05 1.05 0 1 0 .01 0M553.5 413.18a1.05 1.05 0 1 0 .01 0M553.5 415.82a1.05 1.05 0 1 0 .01 0M556.5 388.10a1.05 1.05 0 1 0 .01 0M556.5 392.99a1.05 1.05 0 1 0 .01 0M556.5 394.98a1.05 1.05 0 1 0 .01 0M556.5 397.18a1.05 1.05 0 1 0 .01 0M556.5 399.13a1.05 1.05 0 1 0 .01 0M556.5 400.73a1.05 1.05 0 1 0 .01 0M556.5 402.20a1.05 1.05 0 1 0 .01 0M556.5 403.75a1.05 1.05 0 1 0 .01 0M556.5 410.20a1.05 1.05 0 1 0 .01 0M556.5 412.46a1.05 1.05 0 1 0 .01 0M557.5 386.96a1.05 1.05 0 1 0 .01 0M557.5 389.43a1.05 1.05 0 1 0 .01 0M557.5 392.16a1.05 1.05 0 1 0 .01 0M557.5 394.38a1.05 1.05 0 1 0 .01 0M557.5 396.38a1.05 1.05 0 1 0 .01 0M557.5 398.33a1.05 1.05 0 1 0 .01 0M557.5 399.91a1.05 1.05 0 1 0 .01 0M557.5 401.21a1.05 1.05 0 1 0 .01 0M557.5 402.67a1.05 1.05 0 1 0 .01 0M557.5 404.24a1.05 1.05 0 1 0 .01 0M557.5 405.73a1.05 1.05 0 1 0 .01 0M557.5 407.56a1.05 1.05 0 1 0 .01 0M557.5 409.78a1.05 1.05 0 1 0 .01 0M557.5 411.93a1.05 1.05 0 1 0 .01 0M557.5 414.47a1.05 1.05 0 1 0 .01 0M557.5 415.00a1.05 1.05 0 1 0 .01 0M559.5 386.02a1.05 1.05 0 1 0 .01 0M559.5 389.02a1.05 1.05 0 1 0 .01 0M559.5 391.69a1.05 1.05 0 1 0 .01 0M559.5 393.56a1.05 1.05 0 1 0 .01 0M559.5 395.39a1.05 1.05 0 1 0 .01 0M559.5 397.11a1.05 1.05 0 1 0 .01 0M559.5 398.71a1.05 1.05 0 1 0 .01 0M559.5 400.31a1.05 1.05 0 1 0 .01 0M559.5 401.91a1.05 1.05 0 1 0 .01 0M559.5 403.60a1.05 1.05 0 1 0 .01 0M559.5 405.39a1.05 1.05 0 1 0 .01 0M559.5 407.59a1.05 1.05 0 1 0 .01 0M559.5 411.58a1.05 1.05 0 1 0 .01 0M560.5 385.18a1.05 1.05 0 1 0 .01 0M560.5 388.18a1.05 1.05 0 1 0 .01 0M560.5 392.40a1.05 1.05 0 1 0 .01 0M560.5 394.13a1.05 1.05 0 1 0 .01 0M560.5 395.53a1.05 1.05 0 1 0 .01 0M560.5 396.83a1.05 1.05 0 1 0 .01 0M560.5 398.19a1.05 1.05 0 1 0 .01 0M560.5 399.86a1.05 1.05 0 1 0 .01 0M560.5 401.75a1.05 1.05 0 1 0 .01 0M560.5 403.90a1.05 1.05 0 1 0 .01 0M560.5 406.16a1.05 1.05 0 1 0 .01 0M560.5 406.72a1.05 1.05 0 1 0 .01 0M562.5 380.44a1.05 1.05 0 1 0 .01 0M562.5 385.66a1.05 1.05 0 1 0 .01 0M562.5 388.11a1.05 1.05 0 1 0 .01 0M562.5 390.09a1.05 1.05 0 1 0 .01 0M562.5 391.56a1.05 1.05 0 1 0 .01 0M562.5 393.20a1.05 1.05 0 1 0 .01 0M562.5 394.61a1.05 1.05 0 1 0 .01 0M562.5 396.19a1.05 1.05 0 1 0 .01 0M562.5 402.41a1.05 1.05 0 1 0 .01 0M562.5 403.36a1.05 1.05 0 1 0 .01 0M563.5 378.57a1.05 1.05 0 1 0 .01 0M563.5 381.26a1.05 1.05 0 1 0 .01 0M563.5 383.53a1.05 1.05 0 1 0 .01 0M563.5 385.57a1.05 1.05 0 1 0 .01 0M563.5 387.71a1.05 1.05 0 1 0 .01 0M563.5 389.68a1.05 1.05 0 1 0 .01 0M563.5 391.20a1.05 1.05 0 1 0 .01 0M563.5 392.81a1.05 1.05 0 1 0 .01 0M563.5 394.22a1.05 1.05 0 1 0 .01 0M563.5 396.04a1.05 1.05 0 1 0 .01 0M563.5 397.76a1.05 1.05 0 1 0 .01 0M563.5 399.85a1.05 1.05 0 1 0 .01 0M563.5 402.01a1.05 1.05 0 1 0 .01 0M563.5 404.42a1.05 1.05 0 1 0 .01 0M566.5 383.07a1.05 1.05 0 1 0 .01 0M566.5 385.74a1.05 1.05 0 1 0 .01 0M566.5 388.38a1.05 1.05 0 1 0 .01 0M566.5 390.59a1.05 1.05 0 1 0 .01 0M566.5 392.42a1.05 1.05 0 1 0 .01 0M566.5 393.69a1.05 1.05 0 1 0 .01 0M566.5 395.42a1.05 1.05 0 1 0 .01 0M566.5 397.01a1.05 1.05 0 1 0 .01 0M566.5 401.87a1.05 1.05 0 1 0 .01 0M568.5 386.05a1.05 1.05 0 1 0 .01 0M568.5 388.56a1.05 1.05 0 1 0 .01 0M568.5 390.78a1.05 1.05 0 1 0 .01 0M568.5 392.88a1.05 1.05 0 1 0 .01 0M568.5 394.66a1.05 1.05 0 1 0 .01 0M568.5 395.98a1.05 1.05 0 1 0 .01 0M568.5 397.63a1.05 1.05 0 1 0 .01 0M568.5 399.84a1.05 1.05 0 1 0 .01 0M568.5 402.74a1.05 1.05 0 1 0 .01 0M571.5 392.25a1.05 1.05 0 1 0 .01 0M571.5 394.79a1.05 1.05 0 1 0 .01 0M571.5 396.65a1.05 1.05 0 1 0 .01 0M571.5 398.58a1.05 1.05 0 1 0 .01 0M571.5 400.39a1.05 1.05 0 1 0 .01 0M571.5 402.50a1.05 1.05 0 1 0 .01 0M572.5 392.70a1.05 1.05 0 1 0 .01 0M572.5 395.40a1.05 1.05 0 1 0 .01 0M572.5 397.47a1.05 1.05 0 1 0 .01 0M572.5 399.33a1.05 1.05 0 1 0 .01 0M572.5 400.74a1.05 1.05 0 1 0 .01 0M572.5 402.03a1.05 1.05 0 1 0 .01 0M572.5 403.71a1.05 1.05 0 1 0 .01 0M572.5 405.87a1.05 1.05 0 1 0 .01 0M572.5 408.15a1.05 1.05 0 1 0 .01 0M575.5 376.62a1.05 1.05 0 1 0 .01 0M575.5 381.89a1.05 1.05 0 1 0 .01 0M575.5 386.39a1.05 1.05 0 1 0 .01 0M575.5 388.59a1.05 1.05 0 1 0 .01 0M575.5 390.28a1.05 1.05 0 1 0 .01 0M575.5 392.17a1.05 1.05 0 1 0 .01 0M575.5 393.70a1.05 1.05 0 1 0 .01 0M575.5 395.41a1.05 1.05 0 1 0 .01 0M575.5 396.77a1.05 1.05 0 1 0 .01 0M575.5 398.33a1.05 1.05 0 1 0 .01 0M575.5 400.21a1.05 1.05 0 1 0 .01 0M575.5 402.13a1.05 1.05 0 1 0 .01 0M575.5 404.12a1.05 1.05 0 1 0 .01 0M575.5 406.37a1.05 1.05 0 1 0 .01 0M575.5 411.03a1.05 1.05 0 1 0 .01 0M578.5 375.25a1.05 1.05 0 1 0 .01 0M578.5 377.91a1.05 1.05 0 1 0 .01 0M578.5 380.27a1.05 1.05 0 1 0 .01 0M578.5 386.82a1.05 1.05 0 1 0 .01 0M578.5 388.43a1.05 1.05 0 1 0 .01 0M578.5 390.17a1.05 1.05 0 1 0 .01 0M578.5 391.54a1.05 1.05 0 1 0 .01 0M578.5 393.18a1.05 1.05 0 1 0 .01 0M578.5 394.85a1.05 1.05 0 1 0 .01 0M578.5 396.41a1.05 1.05 0 1 0 .01 0M578.5 400.93a1.05 1.05 0 1 0 .01 0M578.5 403.16a1.05 1.05 0 1 0 .01 0M578.5 405.83a1.05 1.05 0 1 0 .01 0M578.5 406.58a1.05 1.05 0 1 0 .01 0M580.5 379.09a1.05 1.05 0 1 0 .01 0M580.5 383.92a1.05 1.05 0 1 0 .01 0M580.5 386.07a1.05 1.05 0 1 0 .01 0M580.5 388.39a1.05 1.05 0 1 0 .01 0M580.5 390.17a1.05 1.05 0 1 0 .01 0M580.5 391.76a1.05 1.05 0 1 0 .01 0M580.5 393.10a1.05 1.05 0 1 0 .01 0M580.5 394.88a1.05 1.05 0 1 0 .01 0M580.5 396.33a1.05 1.05 0 1 0 .01 0M580.5 397.92a1.05 1.05 0 1 0 .01 0M580.5 400.01a1.05 1.05 0 1 0 .01 0M580.5 402.01a1.05 1.05 0 1 0 .01 0M580.5 404.37a1.05 1.05 0 1 0 .01 0M580.5 407.87a1.05 1.05 0 1 0 .01 0M582.5 386.07a1.05 1.05 0 1 0 .01 0M582.5 388.63a1.05 1.05 0 1 0 .01 0M582.5 391.23a1.05 1.05 0 1 0 .01 0M582.5 393.58a1.05 1.05 0 1 0 .01 0M582.5 395.60a1.05 1.05 0 1 0 .01 0M582.5 397.02a1.05 1.05 0 1 0 .01 0M582.5 398.32a1.05 1.05 0 1 0 .01 0M582.5 399.87a1.05 1.05 0 1 0 .01 0M582.5 402.05a1.05 1.05 0 1 0 .01 0M582.5 404.44a1.05 1.05 0 1 0 .01 0M582.5 406.72a1.05 1.05 0 1 0 .01 0M585.5 388.70a1.05 1.05 0 1 0 .01 0M585.5 391.23a1.05 1.05 0 1 0 .01 0M585.5 393.72a1.05 1.05 0 1 0 .01 0M585.5 395.92a1.05 1.05 0 1 0 .01 0M585.5 397.86a1.05 1.05 0 1 0 .01 0M585.5 399.19a1.05 1.05 0 1 0 .01 0M585.5 400.70a1.05 1.05 0 1 0 .01 0M585.5 402.31a1.05 1.05 0 1 0 .01 0M585.5 404.27a1.05 1.05 0 1 0 .01 0M585.5 408.47a1.05 1.05 0 1 0 .01 0M585.5 409.01a1.05 1.05 0 1 0 .01 0M587.5 389.25a1.05 1.05 0 1 0 .01 0M587.5 392.19a1.05 1.05 0 1 0 .01 0M587.5 394.30a1.05 1.05 0 1 0 .01 0M587.5 396.37a1.05 1.05 0 1 0 .01 0M587.5 398.20a1.05 1.05 0 1 0 .01 0M587.5 399.78a1.05 1.05 0 1 0 .01 0M587.5 401.12a1.05 1.05 0 1 0 .01 0M587.5 403.12a1.05 1.05 0 1 0 .01 0M587.5 405.03a1.05 1.05 0 1 0 .01 0M587.5 409.01a1.05 1.05 0 1 0 .01 0M589.5 385.81a1.05 1.05 0 1 0 .01 0M589.5 388.46a1.05 1.05 0 1 0 .01 0M589.5 391.19a1.05 1.05 0 1 0 .01 0M589.5 393.64a1.05 1.05 0 1 0 .01 0M589.5 395.48a1.05 1.05 0 1 0 .01 0M589.5 397.35a1.05 1.05 0 1 0 .01 0M589.5 398.97a1.05 1.05 0 1 0 .01 0M589.5 400.21a1.05 1.05 0 1 0 .01 0M589.5 401.76a1.05 1.05 0 1 0 .01 0M589.5 403.75a1.05 1.05 0 1 0 .01 0M589.5 405.54a1.05 1.05 0 1 0 .01 0M589.5 407.66a1.05 1.05 0 1 0 .01 0M589.5 410.04a1.05 1.05 0 1 0 .01 0M589.5 412.26a1.05 1.05 0 1 0 .01 0M591.5 381.80a1.05 1.05 0 1 0 .01 0M591.5 386.91a1.05 1.05 0 1 0 .01 0M591.5 389.47a1.05 1.05 0 1 0 .01 0M591.5 391.59a1.05 1.05 0 1 0 .01 0M591.5 393.78a1.05 1.05 0 1 0 .01 0M591.5 395.53a1.05 1.05 0 1 0 .01 0M591.5 397.21a1.05 1.05 0 1 0 .01 0M591.5 398.64a1.05 1.05 0 1 0 .01 0M591.5 400.05a1.05 1.05 0 1 0 .01 0M591.5 401.60a1.05 1.05 0 1 0 .01 0M591.5 403.46a1.05 1.05 0 1 0 .01 0M591.5 405.57a1.05 1.05 0 1 0 .01 0M591.5 407.63a1.05 1.05 0 1 0 .01 0M591.5 410.24a1.05 1.05 0 1 0 .01 0M591.5 411.31a1.05 1.05 0 1 0 .01 0M593.5 385.17a1.05 1.05 0 1 0 .01 0M593.5 387.88a1.05 1.05 0 1 0 .01 0M593.5 390.32a1.05 1.05 0 1 0 .01 0M593.5 392.48a1.05 1.05 0 1 0 .01 0M593.5 394.16a1.05 1.05 0 1 0 .01 0M593.5 395.77a1.05 1.05 0 1 0 .01 0M593.5 397.29a1.05 1.05 0 1 0 .01 0M593.5 399.28a1.05 1.05 0 1 0 .01 0M593.5 401.45a1.05 1.05 0 1 0 .01 0M593.5 405.63a1.05 1.05 0 1 0 .01 0M594.5 384.66a1.05 1.05 0 1 0 .01 0M594.5 387.46a1.05 1.05 0 1 0 .01 0M594.5 389.67a1.05 1.05 0 1 0 .01 0M594.5 391.92a1.05 1.05 0 1 0 .01 0M594.5 394.06a1.05 1.05 0 1 0 .01 0M594.5 396.05a1.05 1.05 0 1 0 .01 0M594.5 397.47a1.05 1.05 0 1 0 .01 0M594.5 398.85a1.05 1.05 0 1 0 .01 0M594.5 402.33a1.05 1.05 0 1 0 .01 0M594.5 404.14a1.05 1.05 0 1 0 .01 0M594.5 406.09a1.05 1.05 0 1 0 .01 0M594.5 408.40a1.05 1.05 0 1 0 .01 0M594.5 411.85a1.05 1.05 0 1 0 .01 0M597.5 383.51a1.05 1.05 0 1 0 .01 0M597.5 386.10a1.05 1.05 0 1 0 .01 0M597.5 388.45a1.05 1.05 0 1 0 .01 0M597.5 390.81a1.05 1.05 0 1 0 .01 0M597.5 392.96a1.05 1.05 0 1 0 .01 0M597.5 394.88a1.05 1.05 0 1 0 .01 0M597.5 396.49a1.05 1.05 0 1 0 .01 0M597.5 397.95a1.05 1.05 0 1 0 .01 0M597.5 399.55a1.05 1.05 0 1 0 .01 0M597.5 401.57a1.05 1.05 0 1 0 .01 0M597.5 403.58a1.05 1.05 0 1 0 .01 0M597.5 405.88a1.05 1.05 0 1 0 .01 0M597.5 406.49a1.05 1.05 0 1 0 .01 0M599.5 377.77a1.05 1.05 0 1 0 .01 0M599.5 382.98a1.05 1.05 0 1 0 .01 0M599.5 385.18a1.05 1.05 0 1 0 .01 0M599.5 387.08a1.05 1.05 0 1 0 .01 0M599.5 389.03a1.05 1.05 0 1 0 .01 0M599.5 390.74a1.05 1.05 0 1 0 .01 0M599.5 392.27a1.05 1.05 0 1 0 .01 0M599.5 393.92a1.05 1.05 0 1 0 .01 0M599.5 395.37a1.05 1.05 0 1 0 .01 0M599.5 397.16a1.05 1.05 0 1 0 .01 0M599.5 398.96a1.05 1.05 0 1 0 .01 0M599.5 400.82a1.05 1.05 0 1 0 .01 0M599.5 403.16a1.05 1.05 0 1 0 .01 0M599.5 405.37a1.05 1.05 0 1 0 .01 0M602.5 376.06a1.05 1.05 0 1 0 .01 0M602.5 378.72a1.05 1.05 0 1 0 .01 0M602.5 380.99a1.05 1.05 0 1 0 .01 0M602.5 383.11a1.05 1.05 0 1 0 .01 0M602.5 385.27a1.05 1.05 0 1 0 .01 0M602.5 386.85a1.05 1.05 0 1 0 .01 0M602.5 388.55a1.05 1.05 0 1 0 .01 0M602.5 390.10a1.05 1.05 0 1 0 .01 0M602.5 391.42a1.05 1.05 0 1 0 .01 0M602.5 392.99a1.05 1.05 0 1 0 .01 0M602.5 395.01a1.05 1.05 0 1 0 .01 0M602.5 397.32a1.05 1.05 0 1 0 .01 0M602.5 399.45a1.05 1.05 0 1 0 .01 0M602.5 401.77a1.05 1.05 0 1 0 .01 0M603.5 375.08a1.05 1.05 0 1 0 .01 0M603.5 380.47a1.05 1.05 0 1 0 .01 0M603.5 382.47a1.05 1.05 0 1 0 .01 0M603.5 384.77a1.05 1.05 0 1 0 .01 0M603.5 386.38a1.05 1.05 0 1 0 .01 0M603.5 387.77a1.05 1.05 0 1 0 .01 0M603.5 389.27a1.05 1.05 0 1 0 .01 0M603.5 390.60a1.05 1.05 0 1 0 .01 0M603.5 392.32a1.05 1.05 0 1 0 .01 0M603.5 394.17a1.05 1.05 0 1 0 .01 0M603.5 398.74a1.05 1.05 0 1 0 .01 0M603.5 400.98a1.05 1.05 0 1 0 .01 0M605.5 378.05a1.05 1.05 0 1 0 .01 0M605.5 380.74a1.05 1.05 0 1 0 .01 0M605.5 383.14a1.05 1.05 0 1 0 .01 0M605.5 385.21a1.05 1.05 0 1 0 .01 0M605.5 386.88a1.05 1.05 0 1 0 .01 0M605.5 388.53a1.05 1.05 0 1 0 .01 0M605.5 389.97a1.05 1.05 0 1 0 .01 0M605.5 391.85a1.05 1.05 0 1 0 .01 0M605.5 393.75a1.05 1.05 0 1 0 .01 0M605.5 395.73a1.05 1.05 0 1 0 .01 0M605.5 398.25a1.05 1.05 0 1 0 .01 0M605.5 399.83a1.05 1.05 0 1 0 .01 0M607.5 374.70a1.05 1.05 0 1 0 .01 0M607.5 377.65a1.05 1.05 0 1 0 .01 0M607.5 380.34a1.05 1.05 0 1 0 .01 0M607.5 382.88a1.05 1.05 0 1 0 .01 0M607.5 384.85a1.05 1.05 0 1 0 .01 0M607.5 388.64a1.05 1.05 0 1 0 .01 0M607.5 390.23a1.05 1.05 0 1 0 .01 0M607.5 391.98a1.05 1.05 0 1 0 .01 0M607.5 393.58a1.05 1.05 0 1 0 .01 0M607.5 395.11a1.05 1.05 0 1 0 .01 0M607.5 399.02a1.05 1.05 0 1 0 .01 0M607.5 401.08a1.05 1.05 0 1 0 .01 0M607.5 405.88a1.05 1.05 0 1 0 .01 0M607.5 408.56a1.05 1.05 0 1 0 .01 0M609.5 373.55a1.05 1.05 0 1 0 .01 0M609.5 376.18a1.05 1.05 0 1 0 .01 0M609.5 383.14a1.05 1.05 0 1 0 .01 0M609.5 385.19a1.05 1.05 0 1 0 .01 0M609.5 386.92a1.05 1.05 0 1 0 .01 0M609.5 388.68a1.05 1.05 0 1 0 .01 0M609.5 390.53a1.05 1.05 0 1 0 .01 0M609.5 392.25a1.05 1.05 0 1 0 .01 0M609.5 394.21a1.05 1.05 0 1 0 .01 0M609.5 395.90a1.05 1.05 0 1 0 .01 0M609.5 399.90a1.05 1.05 0 1 0 .01 0M609.5 402.07a1.05 1.05 0 1 0 .01 0M609.5 404.67a1.05 1.05 0 1 0 .01 0M609.5 405.87a1.05 1.05 0 1 0 .01 0M611.5 374.90a1.05 1.05 0 1 0 .01 0M611.5 377.58a1.05 1.05 0 1 0 .01 0M611.5 386.44a1.05 1.05 0 1 0 .01 0M611.5 388.45a1.05 1.05 0 1 0 .01 0M611.5 389.85a1.05 1.05 0 1 0 .01 0M611.5 391.24a1.05 1.05 0 1 0 .01 0M611.5 393.09a1.05 1.05 0 1 0 .01 0M611.5 394.59a1.05 1.05 0 1 0 .01 0M611.5 396.73a1.05 1.05 0 1 0 .01 0M611.5 398.64a1.05 1.05 0 1 0 .01 0M611.5 401.10a1.05 1.05 0 1 0 .01 0M611.5 403.32a1.05 1.05 0 1 0 .01 0M611.5 404.67a1.05 1.05 0 1 0 .01 0M613.5 375.48a1.05 1.05 0 1 0 .01 0M613.5 378.29a1.05 1.05 0 1 0 .01 0M613.5 380.87a1.05 1.05 0 1 0 .01 0M613.5 382.92a1.05 1.05 0 1 0 .01 0M613.5 385.19a1.05 1.05 0 1 0 .01 0M613.5 387.28a1.05 1.05 0 1 0 .01 0M613.5 388.93a1.05 1.05 0 1 0 .01 0M613.5 390.32a1.05 1.05 0 1 0 .01 0M613.5 391.71a1.05 1.05 0 1 0 .01 0M613.5 393.46a1.05 1.05 0 1 0 .01 0M613.5 395.17a1.05 1.05 0 1 0 .01 0M613.5 397.22a1.05 1.05 0 1 0 .01 0M613.5 399.05a1.05 1.05 0 1 0 .01 0M613.5 400.98a1.05 1.05 0 1 0 .01 0M613.5 403.21a1.05 1.05 0 1 0 .01 0M613.5 405.72a1.05 1.05 0 1 0 .01 0M614.5 375.48a1.05 1.05 0 1 0 .01 0M614.5 377.95a1.05 1.05 0 1 0 .01 0M614.5 382.57a1.05 1.05 0 1 0 .01 0M614.5 384.57a1.05 1.05 0 1 0 .01 0M614.5 386.69a1.05 1.05 0 1 0 .01 0M614.5 388.33a1.05 1.05 0 1 0 .01 0M614.5 389.90a1.05 1.05 0 1 0 .01 0M614.5 391.32a1.05 1.05 0 1 0 .01 0M614.5 393.10a1.05 1.05 0 1 0 .01 0M614.5 396.72a1.05 1.05 0 1 0 .01 0M614.5 398.64a1.05 1.05 0 1 0 .01 0M614.5 405.57a1.05 1.05 0 1 0 .01 0M617.5 375.48a1.05 1.05 0 1 0 .01 0M617.5 380.43a1.05 1.05 0 1 0 .01 0M617.5 382.53a1.05 1.05 0 1 0 .01 0M617.5 384.59a1.05 1.05 0 1 0 .01 0M617.5 386.79a1.05 1.05 0 1 0 .01 0M617.5 388.51a1.05 1.05 0 1 0 .01 0M617.5 390.44a1.05 1.05 0 1 0 .01 0M617.5 392.17a1.05 1.05 0 1 0 .01 0M617.5 395.55a1.05 1.05 0 1 0 .01 0M617.5 397.44a1.05 1.05 0 1 0 .01 0M617.5 399.22a1.05 1.05 0 1 0 .01 0M617.5 401.17a1.05 1.05 0 1 0 .01 0M617.5 403.42a1.05 1.05 0 1 0 .01 0M617.5 407.08a1.05 1.05 0 1 0 .01 0M620.5 374.59a1.05 1.05 0 1 0 .01 0M620.5 377.37a1.05 1.05 0 1 0 .01 0M620.5 379.79a1.05 1.05 0 1 0 .01 0M620.5 381.88a1.05 1.05 0 1 0 .01 0M620.5 385.85a1.05 1.05 0 1 0 .01 0M620.5 387.78a1.05 1.05 0 1 0 .01 0M620.5 389.50a1.05 1.05 0 1 0 .01 0M620.5 391.42a1.05 1.05 0 1 0 .01 0M620.5 392.88a1.05 1.05 0 1 0 .01 0M620.5 394.41a1.05 1.05 0 1 0 .01 0M620.5 396.09a1.05 1.05 0 1 0 .01 0M620.5 397.74a1.05 1.05 0 1 0 .01 0M620.5 399.97a1.05 1.05 0 1 0 .01 0M620.5 402.16a1.05 1.05 0 1 0 .01 0M620.5 404.47a1.05 1.05 0 1 0 .01 0M620.5 406.88a1.05 1.05 0 1 0 .01 0M620.5 407.87a1.05 1.05 0 1 0 .01 0M622.5 373.59a1.05 1.05 0 1 0 .01 0M622.5 381.17a1.05 1.05 0 1 0 .01 0M622.5 383.31a1.05 1.05 0 1 0 .01 0M622.5 385.17a1.05 1.05 0 1 0 .01 0M622.5 387.03a1.05 1.05 0 1 0 .01 0M622.5 388.84a1.05 1.05 0 1 0 .01 0M622.5 390.34a1.05 1.05 0 1 0 .01 0M622.5 391.73a1.05 1.05 0 1 0 .01 0M622.5 393.17a1.05 1.05 0 1 0 .01 0M622.5 394.93a1.05 1.05 0 1 0 .01 0M622.5 396.53a1.05 1.05 0 1 0 .01 0M622.5 398.42a1.05 1.05 0 1 0 .01 0M622.5 400.22a1.05 1.05 0 1 0 .01 0M622.5 402.50a1.05 1.05 0 1 0 .01 0M622.5 404.50a1.05 1.05 0 1 0 .01 0M622.5 406.74a1.05 1.05 0 1 0 .01 0M622.5 408.94a1.05 1.05 0 1 0 .01 0M622.5 411.37a1.05 1.05 0 1 0 .01 0M624.5 375.48a1.05 1.05 0 1 0 .01 0M624.5 378.05a1.05 1.05 0 1 0 .01 0M624.5 380.68a1.05 1.05 0 1 0 .01 0M624.5 382.88a1.05 1.05 0 1 0 .01 0M624.5 385.16a1.05 1.05 0 1 0 .01 0M624.5 387.14a1.05 1.05 0 1 0 .01 0M624.5 389.10a1.05 1.05 0 1 0 .01 0M624.5 391.02a1.05 1.05 0 1 0 .01 0M624.5 392.47a1.05 1.05 0 1 0 .01 0M624.5 394.41a1.05 1.05 0 1 0 .01 0M624.5 395.91a1.05 1.05 0 1 0 .01 0M624.5 398.05a1.05 1.05 0 1 0 .01 0M624.5 399.85a1.05 1.05 0 1 0 .01 0M624.5 402.10a1.05 1.05 0 1 0 .01 0M624.5 405.88a1.05 1.05 0 1 0 .01 0M627.5 387.53a1.05 1.05 0 1 0 .01 0M627.5 390.04a1.05 1.05 0 1 0 .01 0M627.5 395.45a1.05 1.05 0 1 0 .01 0M627.5 397.55a1.05 1.05 0 1 0 .01 0M627.5 401.07a1.05 1.05 0 1 0 .01 0M627.5 403.10a1.05 1.05 0 1 0 .01 0M627.5 404.56a1.05 1.05 0 1 0 .01 0M627.5 405.90a1.05 1.05 0 1 0 .01 0M627.5 407.39a1.05 1.05 0 1 0 .01 0M627.5 408.91a1.05 1.05 0 1 0 .01 0M627.5 410.58a1.05 1.05 0 1 0 .01 0M627.5 412.49a1.05 1.05 0 1 0 .01 0M627.5 414.76a1.05 1.05 0 1 0 .01 0M627.5 416.79a1.05 1.05 0 1 0 .01 0M627.5 422.96a1.05 1.05 0 1 0 .01 0M630.5 394.50a1.05 1.05 0 1 0 .01 0M630.5 396.97a1.05 1.05 0 1 0 .01 0M630.5 399.40a1.05 1.05 0 1 0 .01 0M630.5 403.47a1.05 1.05 0 1 0 .01 0M630.5 405.33a1.05 1.05 0 1 0 .01 0M630.5 407.25a1.05 1.05 0 1 0 .01 0M630.5 408.94a1.05 1.05 0 1 0 .01 0M630.5 410.41a1.05 1.05 0 1 0 .01 0M630.5 411.95a1.05 1.05 0 1 0 .01 0M630.5 413.75a1.05 1.05 0 1 0 .01 0M630.5 415.66a1.05 1.05 0 1 0 .01 0M630.5 417.49a1.05 1.05 0 1 0 .01 0M630.5 419.80a1.05 1.05 0 1 0 .01 0M630.5 422.21a1.05 1.05 0 1 0 .01 0M630.5 425.81a1.05 1.05 0 1 0 .01 0M632.5 398.32a1.05 1.05 0 1 0 .01 0M632.5 400.78a1.05 1.05 0 1 0 .01 0M632.5 405.43a1.05 1.05 0 1 0 .01 0M632.5 407.51a1.05 1.05 0 1 0 .01 0M632.5 409.64a1.05 1.05 0 1 0 .01 0M632.5 411.61a1.05 1.05 0 1 0 .01 0M632.5 413.22a1.05 1.05 0 1 0 .01 0M632.5 414.84a1.05 1.05 0 1 0 .01 0M632.5 416.39a1.05 1.05 0 1 0 .01 0M632.5 420.14a1.05 1.05 0 1 0 .01 0M632.5 422.41a1.05 1.05 0 1 0 .01 0M632.5 425.55a1.05 1.05 0 1 0 .01 0M634.5 399.21a1.05 1.05 0 1 0 .01 0M634.5 401.80a1.05 1.05 0 1 0 .01 0M634.5 404.34a1.05 1.05 0 1 0 .01 0M634.5 406.45a1.05 1.05 0 1 0 .01 0M634.5 408.55a1.05 1.05 0 1 0 .01 0M634.5 410.00a1.05 1.05 0 1 0 .01 0M634.5 411.83a1.05 1.05 0 1 0 .01 0M634.5 419.67a1.05 1.05 0 1 0 .01 0M634.5 421.99a1.05 1.05 0 1 0 .01 0M636.5 401.18a1.05 1.05 0 1 0 .01 0M636.5 404.07a1.05 1.05 0 1 0 .01 0M636.5 408.00a1.05 1.05 0 1 0 .01 0M636.5 410.05a1.05 1.05 0 1 0 .01 0M636.5 411.44a1.05 1.05 0 1 0 .01 0M636.5 412.82a1.05 1.05 0 1 0 .01 0M636.5 416.79a1.05 1.05 0 1 0 .01 0M636.5 419.30a1.05 1.05 0 1 0 .01 0M638.5 391.55a1.05 1.05 0 1 0 .01 0M638.5 394.30a1.05 1.05 0 1 0 .01 0M638.5 397.00a1.05 1.05 0 1 0 .01 0M638.5 401.58a1.05 1.05 0 1 0 .01 0M638.5 403.31a1.05 1.05 0 1 0 .01 0M638.5 405.31a1.05 1.05 0 1 0 .01 0M638.5 406.79a1.05 1.05 0 1 0 .01 0M638.5 408.53a1.05 1.05 0 1 0 .01 0M638.5 410.03a1.05 1.05 0 1 0 .01 0M638.5 411.92a1.05 1.05 0 1 0 .01 0M638.5 413.74a1.05 1.05 0 1 0 .01 0M638.5 415.94a1.05 1.05 0 1 0 .01 0M638.5 417.91a1.05 1.05 0 1 0 .01 0M638.5 419.92a1.05 1.05 0 1 0 .01 0M638.5 423.94a1.05 1.05 0 1 0 .01 0M641.5 384.97a1.05 1.05 0 1 0 .01 0M641.5 390.27a1.05 1.05 0 1 0 .01 0M641.5 392.77a1.05 1.05 0 1 0 .01 0M641.5 394.74a1.05 1.05 0 1 0 .01 0M641.5 396.67a1.05 1.05 0 1 0 .01 0M641.5 398.76a1.05 1.05 0 1 0 .01 0M641.5 400.70a1.05 1.05 0 1 0 .01 0M641.5 402.60a1.05 1.05 0 1 0 .01 0M641.5 403.89a1.05 1.05 0 1 0 .01 0M641.5 405.31a1.05 1.05 0 1 0 .01 0M641.5 406.77a1.05 1.05 0 1 0 .01 0M641.5 408.71a1.05 1.05 0 1 0 .01 0M641.5 410.79a1.05 1.05 0 1 0 .01 0M641.5 412.95a1.05 1.05 0 1 0 .01 0M641.5 415.34a1.05 1.05 0 1 0 .01 0M641.5 417.74a1.05 1.05 0 1 0 .01 0M641.5 419.87a1.05 1.05 0 1 0 .01 0M643.5 394.99a1.05 1.05 0 1 0 .01 0M643.5 400.04a1.05 1.05 0 1 0 .01 0M643.5 401.98a1.05 1.05 0 1 0 .01 0M643.5 403.55a1.05 1.05 0 1 0 .01 0M643.5 405.45a1.05 1.05 0 1 0 .01 0M643.5 407.27a1.05 1.05 0 1 0 .01 0M643.5 408.91a1.05 1.05 0 1 0 .01 0M643.5 410.85a1.05 1.05 0 1 0 .01 0M643.5 412.95a1.05 1.05 0 1 0 .01 0M643.5 415.05a1.05 1.05 0 1 0 .01 0M644.5 398.13a1.05 1.05 0 1 0 .01 0M644.5 400.96a1.05 1.05 0 1 0 .01 0M644.5 403.18a1.05 1.05 0 1 0 .01 0M644.5 404.86a1.05 1.05 0 1 0 .01 0M644.5 406.21a1.05 1.05 0 1 0 .01 0M644.5 407.95a1.05 1.05 0 1 0 .01 0M644.5 409.57a1.05 1.05 0 1 0 .01 0M644.5 411.90a1.05 1.05 0 1 0 .01 0M644.5 413.05a1.05 1.05 0 1 0 .01 0M646.5 399.59a1.05 1.05 0 1 0 .01 0M646.5 404.36a1.05 1.05 0 1 0 .01 0M646.5 406.54a1.05 1.05 0 1 0 .01 0M646.5 407.89a1.05 1.05 0 1 0 .01 0M646.5 409.57a1.05 1.05 0 1 0 .01 0M646.5 411.66a1.05 1.05 0 1 0 .01 0M646.5 414.76a1.05 1.05 0 1 0 .01 0M648.5 399.65a1.05 1.05 0 1 0 .01 0M648.5 402.24a1.05 1.05 0 1 0 .01 0M648.5 404.78a1.05 1.05 0 1 0 .01 0M648.5 407.26a1.05 1.05 0 1 0 .01 0M648.5 409.30a1.05 1.05 0 1 0 .01 0M648.5 410.99a1.05 1.05 0 1 0 .01 0M648.5 412.74a1.05 1.05 0 1 0 .01 0M648.5 414.14a1.05 1.05 0 1 0 .01 0M648.5 415.90a1.05 1.05 0 1 0 .01 0M648.5 417.43a1.05 1.05 0 1 0 .01 0M648.5 419.17a1.05 1.05 0 1 0 .01 0M648.5 421.17a1.05 1.05 0 1 0 .01 0M648.5 425.85a1.05 1.05 0 1 0 .01 0M648.5 426.69a1.05 1.05 0 1 0 .01 0M650.5 399.18a1.05 1.05 0 1 0 .01 0M650.5 404.39a1.05 1.05 0 1 0 .01 0M650.5 406.95a1.05 1.05 0 1 0 .01 0M650.5 409.17a1.05 1.05 0 1 0 .01 0M650.5 411.03a1.05 1.05 0 1 0 .01 0M650.5 412.78a1.05 1.05 0 1 0 .01 0M650.5 414.10a1.05 1.05 0 1 0 .01 0M650.5 415.76a1.05 1.05 0 1 0 .01 0M650.5 417.76a1.05 1.05 0 1 0 .01 0M650.5 419.81a1.05 1.05 0 1 0 .01 0M650.5 421.73a1.05 1.05 0 1 0 .01 0M650.5 424.05a1.05 1.05 0 1 0 .01 0M650.5 427.33a1.05 1.05 0 1 0 .01 0M651.5 399.67a1.05 1.05 0 1 0 .01 0M651.5 402.23a1.05 1.05 0 1 0 .01 0M651.5 407.04a1.05 1.05 0 1 0 .01 0M651.5 409.02a1.05 1.05 0 1 0 .01 0M651.5 410.69a1.05 1.05 0 1 0 .01 0M651.5 412.07a1.05 1.05 0 1 0 .01 0M651.5 413.97a1.05 1.05 0 1 0 .01 0M651.5 415.93a1.05 1.05 0 1 0 .01 0M651.5 417.85a1.05 1.05 0 1 0 .01 0M651.5 422.41a1.05 1.05 0 1 0 .01 0M652.5 399.59a1.05 1.05 0 1 0 .01 0M652.5 402.58a1.05 1.05 0 1 0 .01 0M652.5 404.62a1.05 1.05 0 1 0 .01 0M652.5 406.75a1.05 1.05 0 1 0 .01 0M652.5 408.45a1.05 1.05 0 1 0 .01 0M652.5 409.84a1.05 1.05 0 1 0 .01 0M652.5 411.40a1.05 1.05 0 1 0 .01 0M652.5 413.46a1.05 1.05 0 1 0 .01 0M652.5 415.37a1.05 1.05 0 1 0 .01 0M652.5 417.47a1.05 1.05 0 1 0 .01 0M652.5 418.48a1.05 1.05 0 1 0 .01 0M653.5 399.59a1.05 1.05 0 1 0 .01 0M653.5 404.58a1.05 1.05 0 1 0 .01 0M653.5 406.99a1.05 1.05 0 1 0 .01 0M653.5 408.67a1.05 1.05 0 1 0 .01 0M653.5 410.20a1.05 1.05 0 1 0 .01 0M653.5 411.65a1.05 1.05 0 1 0 .01 0M653.5 413.03a1.05 1.05 0 1 0 .01 0M653.5 414.87a1.05 1.05 0 1 0 .01 0M653.5 416.91a1.05 1.05 0 1 0 .01 0M653.5 419.21a1.05 1.05 0 1 0 .01 0M653.5 421.47a1.05 1.05 0 1 0 .01 0M653.5 423.68a1.05 1.05 0 1 0 .01 0M654.5 400.73a1.05 1.05 0 1 0 .01 0M654.5 403.33a1.05 1.05 0 1 0 .01 0M654.5 406.08a1.05 1.05 0 1 0 .01 0M654.5 408.57a1.05 1.05 0 1 0 .01 0M654.5 410.89a1.05 1.05 0 1 0 .01 0M654.5 412.93a1.05 1.05 0 1 0 .01 0M654.5 414.66a1.05 1.05 0 1 0 .01 0M654.5 416.41a1.05 1.05 0 1 0 .01 0M654.5 418.02a1.05 1.05 0 1 0 .01 0M654.5 419.49a1.05 1.05 0 1 0 .01 0M654.5 421.16a1.05 1.05 0 1 0 .01 0M654.5 422.86a1.05 1.05 0 1 0 .01 0M654.5 425.18a1.05 1.05 0 1 0 .01 0M654.5 429.74a1.05 1.05 0 1 0 .01 0M654.5 430.44a1.05 1.05 0 1 0 .01 0M656.5 399.80a1.05 1.05 0 1 0 .01 0M656.5 402.41a1.05 1.05 0 1 0 .01 0M656.5 404.73a1.05 1.05 0 1 0 .01 0M656.5 406.44a1.05 1.05 0 1 0 .01 0M656.5 408.21a1.05 1.05 0 1 0 .01 0M656.5 410.27a1.05 1.05 0 1 0 .01 0M656.5 412.46a1.05 1.05 0 1 0 .01 0M658.5 399.59a1.05 1.05 0 1 0 .01 0M658.5 404.71a1.05 1.05 0 1 0 .01 0M658.5 406.43a1.05 1.05 0 1 0 .01 0M658.5 408.33a1.05 1.05 0 1 0 .01 0M658.5 409.99a1.05 1.05 0 1 0 .01 0M658.5 411.67a1.05 1.05 0 1 0 .01 0M658.5 413.68a1.05 1.05 0 1 0 .01 0M658.5 415.20a1.05 1.05 0 1 0 .01 0M660.5 400.73a1.05 1.05 0 1 0 .01 0M660.5 403.66a1.05 1.05 0 1 0 .01 0M660.5 405.79a1.05 1.05 0 1 0 .01 0M660.5 408.08a1.05 1.05 0 1 0 .01 0M660.5 410.08a1.05 1.05 0 1 0 .01 0M660.5 411.78a1.05 1.05 0 1 0 .01 0M660.5 413.49a1.05 1.05 0 1 0 .01 0M660.5 415.65a1.05 1.05 0 1 0 .01 0M660.5 417.98a1.05 1.05 0 1 0 .01 0M660.5 420.12a1.05 1.05 0 1 0 .01 0M662.5 398.62a1.05 1.05 0 1 0 .01 0M662.5 403.61a1.05 1.05 0 1 0 .01 0M662.5 407.78a1.05 1.05 0 1 0 .01 0M662.5 409.28a1.05 1.05 0 1 0 .01 0M662.5 411.18a1.05 1.05 0 1 0 .01 0M662.5 412.90a1.05 1.05 0 1 0 .01 0M662.5 414.96a1.05 1.05 0 1 0 .01 0M662.5 417.05a1.05 1.05 0 1 0 .01 0M663.5 395.83a1.05 1.05 0 1 0 .01 0M663.5 398.73a1.05 1.05 0 1 0 .01 0M663.5 401.35a1.05 1.05 0 1 0 .01 0M663.5 403.43a1.05 1.05 0 1 0 .01 0M663.5 405.24a1.05 1.05 0 1 0 .01 0M663.5 406.84a1.05 1.05 0 1 0 .01 0M663.5 408.45a1.05 1.05 0 1 0 .01 0M663.5 410.47a1.05 1.05 0 1 0 .01 0M663.5 412.81a1.05 1.05 0 1 0 .01 0M663.5 414.97a1.05 1.05 0 1 0 .01 0M663.5 415.90a1.05 1.05 0 1 0 .01 0M665.5 396.99a1.05 1.05 0 1 0 .01 0M665.5 399.57a1.05 1.05 0 1 0 .01 0M665.5 402.14a1.05 1.05 0 1 0 .01 0M665.5 404.41a1.05 1.05 0 1 0 .01 0M665.5 406.49a1.05 1.05 0 1 0 .01 0M665.5 408.21a1.05 1.05 0 1 0 .01 0M665.5 410.03a1.05 1.05 0 1 0 .01 0M665.5 411.65a1.05 1.05 0 1 0 .01 0M665.5 413.42a1.05 1.05 0 1 0 .01 0M665.5 415.19a1.05 1.05 0 1 0 .01 0M665.5 417.13a1.05 1.05 0 1 0 .01 0M665.5 421.17a1.05 1.05 0 1 0 .01 0M665.5 423.38a1.05 1.05 0 1 0 .01 0M667.5 400.40a1.05 1.05 0 1 0 .01 0M667.5 403.25a1.05 1.05 0 1 0 .01 0M667.5 408.27a1.05 1.05 0 1 0 .01 0M667.5 410.04a1.05 1.05 0 1 0 .01 0M667.5 411.86a1.05 1.05 0 1 0 .01 0M667.5 413.55a1.05 1.05 0 1 0 .01 0M667.5 415.02a1.05 1.05 0 1 0 .01 0M667.5 417.03a1.05 1.05 0 1 0 .01 0M667.5 418.79a1.05 1.05 0 1 0 .01 0M667.5 421.24a1.05 1.05 0 1 0 .01 0M667.5 423.23a1.05 1.05 0 1 0 .01 0M669.5 401.37a1.05 1.05 0 1 0 .01 0M669.5 404.33a1.05 1.05 0 1 0 .01 0M669.5 406.94a1.05 1.05 0 1 0 .01 0M669.5 409.19a1.05 1.05 0 1 0 .01 0M669.5 410.79a1.05 1.05 0 1 0 .01 0M669.5 412.54a1.05 1.05 0 1 0 .01 0M669.5 413.91a1.05 1.05 0 1 0 .01 0M669.5 415.68a1.05 1.05 0 1 0 .01 0M669.5 417.99a1.05 1.05 0 1 0 .01 0M669.5 420.16a1.05 1.05 0 1 0 .01 0M669.5 421.12a1.05 1.05 0 1 0 .01 0M670.5 408.44a1.05 1.05 0 1 0 .01 0M670.5 411.11a1.05 1.05 0 1 0 .01 0M670.5 413.23a1.05 1.05 0 1 0 .01 0M670.5 414.98a1.05 1.05 0 1 0 .01 0M670.5 416.77a1.05 1.05 0 1 0 .01 0M670.5 418.57a1.05 1.05 0 1 0 .01 0M670.5 420.74a1.05 1.05 0 1 0 .01 0M670.5 422.89a1.05 1.05 0 1 0 .01 0M670.5 423.61a1.05 1.05 0 1 0 .01 0M672.5 401.55a1.05 1.05 0 1 0 .01 0M672.5 404.43a1.05 1.05 0 1 0 .01 0M672.5 407.00a1.05 1.05 0 1 0 .01 0M672.5 408.99a1.05 1.05 0 1 0 .01 0M672.5 410.80a1.05 1.05 0 1 0 .01 0M672.5 412.67a1.05 1.05 0 1 0 .01 0M672.5 414.10a1.05 1.05 0 1 0 .01 0M672.5 415.62a1.05 1.05 0 1 0 .01 0M672.5 417.61a1.05 1.05 0 1 0 .01 0M672.5 419.91a1.05 1.05 0 1 0 .01 0M672.5 422.30a1.05 1.05 0 1 0 .01 0M672.5 422.93a1.05 1.05 0 1 0 .01 0M674.5 392.65a1.05 1.05 0 1 0 .01 0M674.5 395.10a1.05 1.05 0 1 0 .01 0M674.5 397.67a1.05 1.05 0 1 0 .01 0M674.5 399.63a1.05 1.05 0 1 0 .01 0M674.5 401.46a1.05 1.05 0 1 0 .01 0M674.5 403.23a1.05 1.05 0 1 0 .01 0M674.5 405.16a1.05 1.05 0 1 0 .01 0M674.5 406.61a1.05 1.05 0 1 0 .01 0M674.5 408.21a1.05 1.05 0 1 0 .01 0M674.5 410.07a1.05 1.05 0 1 0 .01 0M674.5 411.92a1.05 1.05 0 1 0 .01 0M674.5 414.10a1.05 1.05 0 1 0 .01 0M674.5 416.45a1.05 1.05 0 1 0 .01 0M676.5 396.13a1.05 1.05 0 1 0 .01 0M676.5 399.04a1.05 1.05 0 1 0 .01 0M676.5 401.26a1.05 1.05 0 1 0 .01 0M676.5 403.37a1.05 1.05 0 1 0 .01 0M676.5 404.75a1.05 1.05 0 1 0 .01 0M676.5 406.23a1.05 1.05 0 1 0 .01 0M676.5 408.25a1.05 1.05 0 1 0 .01 0M676.5 410.70a1.05 1.05 0 1 0 .01 0M678.5 391.22a1.05 1.05 0 1 0 .01 0M678.5 393.70a1.05 1.05 0 1 0 .01 0M678.5 395.92a1.05 1.05 0 1 0 .01 0M678.5 398.21a1.05 1.05 0 1 0 .01 0M678.5 399.91a1.05 1.05 0 1 0 .01 0M678.5 401.23a1.05 1.05 0 1 0 .01 0M678.5 406.11a1.05 1.05 0 1 0 .01 0M678.5 409.83a1.05 1.05 0 1 0 .01 0M681.5 390.07a1.05 1.05 0 1 0 .01 0M681.5 395.28a1.05 1.05 0 1 0 .01 0M681.5 397.31a1.05 1.05 0 1 0 .01 0M681.5 399.45a1.05 1.05 0 1 0 .01 0M681.5 400.90a1.05 1.05 0 1 0 .01 0M681.5 402.36a1.05 1.05 0 1 0 .01 0M681.5 403.79a1.05 1.05 0 1 0 .01 0M681.5 413.79a1.05 1.05 0 1 0 .01 0M683.5 386.76a1.05 1.05 0 1 0 .01 0M683.5 389.34a1.05 1.05 0 1 0 .01 0M683.5 396.67a1.05 1.05 0 1 0 .01 0M683.5 398.49a1.05 1.05 0 1 0 .01 0M683.5 400.40a1.05 1.05 0 1 0 .01 0M683.5 402.19a1.05 1.05 0 1 0 .01 0M683.5 403.71a1.05 1.05 0 1 0 .01 0M683.5 405.69a1.05 1.05 0 1 0 .01 0M683.5 407.51a1.05 1.05 0 1 0 .01 0M683.5 409.23a1.05 1.05 0 1 0 .01 0M683.5 410.57a1.05 1.05 0 1 0 .01 0M683.5 412.24a1.05 1.05 0 1 0 .01 0M683.5 413.82a1.05 1.05 0 1 0 .01 0M683.5 418.09a1.05 1.05 0 1 0 .01 0M683.5 425.14a1.05 1.05 0 1 0 .01 0M683.5 427.05a1.05 1.05 0 1 0 .01 0M686.5 404.25a1.05 1.05 0 1 0 .01 0M686.5 409.14a1.05 1.05 0 1 0 .01 0M686.5 411.19a1.05 1.05 0 1 0 .01 0M686.5 413.60a1.05 1.05 0 1 0 .01 0M686.5 415.49a1.05 1.05 0 1 0 .01 0M686.5 417.35a1.05 1.05 0 1 0 .01 0M686.5 418.94a1.05 1.05 0 1 0 .01 0M686.5 420.66a1.05 1.05 0 1 0 .01 0M686.5 422.27a1.05 1.05 0 1 0 .01 0M686.5 424.06a1.05 1.05 0 1 0 .01 0M686.5 426.20a1.05 1.05 0 1 0 .01 0M686.5 428.51a1.05 1.05 0 1 0 .01 0M686.5 431.12a1.05 1.05 0 1 0 .01 0M686.5 432.27a1.05 1.05 0 1 0 .01 0M688.5 408.52a1.05 1.05 0 1 0 .01 0M688.5 411.29a1.05 1.05 0 1 0 .01 0M688.5 415.55a1.05 1.05 0 1 0 .01 0M688.5 417.32a1.05 1.05 0 1 0 .01 0M688.5 419.06a1.05 1.05 0 1 0 .01 0M688.5 420.52a1.05 1.05 0 1 0 .01 0M688.5 422.22a1.05 1.05 0 1 0 .01 0M688.5 424.44a1.05 1.05 0 1 0 .01 0M688.5 428.71a1.05 1.05 0 1 0 .01 0M690.5 408.31a1.05 1.05 0 1 0 .01 0M690.5 410.79a1.05 1.05 0 1 0 .01 0M690.5 412.98a1.05 1.05 0 1 0 .01 0M690.5 415.01a1.05 1.05 0 1 0 .01 0M690.5 417.07a1.05 1.05 0 1 0 .01 0M690.5 418.59a1.05 1.05 0 1 0 .01 0M690.5 419.87a1.05 1.05 0 1 0 .01 0M690.5 421.44a1.05 1.05 0 1 0 .01 0M690.5 422.88a1.05 1.05 0 1 0 .01 0M690.5 424.63a1.05 1.05 0 1 0 .01 0M690.5 426.64a1.05 1.05 0 1 0 .01 0M690.5 428.78a1.05 1.05 0 1 0 .01 0M690.5 430.22a1.05 1.05 0 1 0 .01 0M691.5 398.86a1.05 1.05 0 1 0 .01 0M691.5 401.76a1.05 1.05 0 1 0 .01 0M691.5 404.21a1.05 1.05 0 1 0 .01 0M691.5 406.23a1.05 1.05 0 1 0 .01 0M691.5 408.57a1.05 1.05 0 1 0 .01 0M691.5 410.42a1.05 1.05 0 1 0 .01 0M691.5 412.43a1.05 1.05 0 1 0 .01 0M691.5 413.67a1.05 1.05 0 1 0 .01 0M691.5 415.05a1.05 1.05 0 1 0 .01 0M691.5 416.75a1.05 1.05 0 1 0 .01 0M691.5 425.08a1.05 1.05 0 1 0 .01 0M691.5 427.05a1.05 1.05 0 1 0 .01 0M693.5 389.96a1.05 1.05 0 1 0 .01 0M693.5 394.73a1.05 1.05 0 1 0 .01 0M693.5 397.03a1.05 1.05 0 1 0 .01 0M693.5 398.69a1.05 1.05 0 1 0 .01 0M693.5 400.12a1.05 1.05 0 1 0 .01 0M693.5 401.51a1.05 1.05 0 1 0 .01 0M693.5 403.29a1.05 1.05 0 1 0 .01 0M693.5 405.28a1.05 1.05 0 1 0 .01 0M693.5 409.89a1.05 1.05 0 1 0 .01 0M695.5 395.37a1.05 1.05 0 1 0 .01 0M695.5 398.35a1.05 1.05 0 1 0 .01 0M695.5 400.70a1.05 1.05 0 1 0 .01 0M695.5 402.28a1.05 1.05 0 1 0 .01 0M695.5 403.75a1.05 1.05 0 1 0 .01 0M695.5 407.68a1.05 1.05 0 1 0 .01 0M695.5 409.76a1.05 1.05 0 1 0 .01 0M697.5 392.36a1.05 1.05 0 1 0 .01 0M697.5 395.34a1.05 1.05 0 1 0 .01 0M697.5 397.98a1.05 1.05 0 1 0 .01 0M697.5 400.19a1.05 1.05 0 1 0 .01 0M697.5 403.48a1.05 1.05 0 1 0 .01 0M697.5 405.02a1.05 1.05 0 1 0 .01 0M697.5 406.61a1.05 1.05 0 1 0 .01 0M697.5 408.71a1.05 1.05 0 1 0 .01 0M697.5 410.72a1.05 1.05 0 1 0 .01 0M697.5 413.26a1.05 1.05 0 1 0 .01 0M699.5 393.56a1.05 1.05 0 1 0 .01 0M699.5 396.15a1.05 1.05 0 1 0 .01 0M699.5 398.13a1.05 1.05 0 1 0 .01 0M699.5 399.96a1.05 1.05 0 1 0 .01 0M699.5 401.21a1.05 1.05 0 1 0 .01 0M699.5 402.74a1.05 1.05 0 1 0 .01 0M699.5 404.73a1.05 1.05 0 1 0 .01 0M699.5 406.39a1.05 1.05 0 1 0 .01 0M701.5 391.42a1.05 1.05 0 1 0 .01 0M701.5 396.57a1.05 1.05 0 1 0 .01 0M701.5 398.17a1.05 1.05 0 1 0 .01 0M701.5 399.59a1.05 1.05 0 1 0 .01 0M701.5 400.99a1.05 1.05 0 1 0 .01 0M701.5 402.72a1.05 1.05 0 1 0 .01 0M701.5 406.73a1.05 1.05 0 1 0 .01 0M703.5 391.22a1.05 1.05 0 1 0 .01 0M703.5 394.22a1.05 1.05 0 1 0 .01 0M703.5 396.58a1.05 1.05 0 1 0 .01 0M703.5 398.84a1.05 1.05 0 1 0 .01 0M703.5 400.46a1.05 1.05 0 1 0 .01 0M703.5 401.94a1.05 1.05 0 1 0 .01 0M703.5 403.59a1.05 1.05 0 1 0 .01 0M703.5 405.38a1.05 1.05 0 1 0 .01 0M703.5 410.22a1.05 1.05 0 1 0 .01 0M705.5 386.62a1.05 1.05 0 1 0 .01 0M705.5 389.24a1.05 1.05 0 1 0 .01 0M705.5 391.76a1.05 1.05 0 1 0 .01 0M705.5 393.73a1.05 1.05 0 1 0 .01 0M705.5 395.68a1.05 1.05 0 1 0 .01 0M705.5 397.22a1.05 1.05 0 1 0 .01 0M705.5 398.85a1.05 1.05 0 1 0 .01 0M705.5 400.64a1.05 1.05 0 1 0 .01 0M705.5 402.89a1.05 1.05 0 1 0 .01 0M705.5 403.89a1.05 1.05 0 1 0 .01 0M706.5 392.36a1.05 1.05 0 1 0 .01 0M706.5 394.83a1.05 1.05 0 1 0 .01 0M706.5 397.19a1.05 1.05 0 1 0 .01 0M706.5 401.59a1.05 1.05 0 1 0 .01 0M706.5 403.57a1.05 1.05 0 1 0 .01 0M706.5 405.54a1.05 1.05 0 1 0 .01 0M706.5 407.17a1.05 1.05 0 1 0 .01 0M706.5 408.84a1.05 1.05 0 1 0 .01 0M706.5 410.82a1.05 1.05 0 1 0 .01 0M706.5 413.00a1.05 1.05 0 1 0 .01 0M706.5 416.86a1.05 1.05 0 1 0 .01 0M706.5 419.12a1.05 1.05 0 1 0 .01 0M706.5 419.87a1.05 1.05 0 1 0 .01 0M708.5 399.00a1.05 1.05 0 1 0 .01 0M708.5 401.67a1.05 1.05 0 1 0 .01 0M708.5 404.16a1.05 1.05 0 1 0 .01 0M708.5 406.61a1.05 1.05 0 1 0 .01 0M708.5 408.50a1.05 1.05 0 1 0 .01 0M708.5 412.35a1.05 1.05 0 1 0 .01 0M708.5 413.66a1.05 1.05 0 1 0 .01 0M708.5 415.23a1.05 1.05 0 1 0 .01 0M708.5 416.62a1.05 1.05 0 1 0 .01 0M708.5 418.52a1.05 1.05 0 1 0 .01 0M708.5 420.37a1.05 1.05 0 1 0 .01 0M708.5 422.68a1.05 1.05 0 1 0 .01 0M708.5 424.76a1.05 1.05 0 1 0 .01 0M708.5 427.40a1.05 1.05 0 1 0 .01 0M708.5 428.25a1.05 1.05 0 1 0 .01 0M710.5 399.46a1.05 1.05 0 1 0 .01 0M710.5 405.17a1.05 1.05 0 1 0 .01 0M710.5 407.60a1.05 1.05 0 1 0 .01 0M710.5 411.39a1.05 1.05 0 1 0 .01 0M710.5 413.22a1.05 1.05 0 1 0 .01 0M710.5 414.71a1.05 1.05 0 1 0 .01 0M710.5 416.63a1.05 1.05 0 1 0 .01 0M710.5 418.47a1.05 1.05 0 1 0 .01 0M710.5 420.18a1.05 1.05 0 1 0 .01 0M710.5 422.10a1.05 1.05 0 1 0 .01 0M710.5 424.13a1.05 1.05 0 1 0 .01 0M710.5 426.62a1.05 1.05 0 1 0 .01 0M710.5 427.27a1.05 1.05 0 1 0 .01 0M712.5 396.70a1.05 1.05 0 1 0 .01 0M712.5 399.12a1.05 1.05 0 1 0 .01 0M712.5 401.37a1.05 1.05 0 1 0 .01 0M712.5 403.47a1.05 1.05 0 1 0 .01 0M712.5 405.30a1.05 1.05 0 1 0 .01 0M712.5 407.39a1.05 1.05 0 1 0 .01 0M712.5 409.03a1.05 1.05 0 1 0 .01 0M712.5 410.78a1.05 1.05 0 1 0 .01 0M712.5 412.25a1.05 1.05 0 1 0 .01 0M712.5 413.85a1.05 1.05 0 1 0 .01 0M712.5 415.64a1.05 1.05 0 1 0 .01 0M712.5 417.33a1.05 1.05 0 1 0 .01 0M712.5 421.74a1.05 1.05 0 1 0 .01 0M712.5 424.03a1.05 1.05 0 1 0 .01 0M713.5 399.25a1.05 1.05 0 1 0 .01 0M713.5 401.83a1.05 1.05 0 1 0 .01 0M713.5 404.14a1.05 1.05 0 1 0 .01 0M713.5 406.38a1.05 1.05 0 1 0 .01 0M713.5 408.43a1.05 1.05 0 1 0 .01 0M713.5 410.10a1.05 1.05 0 1 0 .01 0M713.5 411.94a1.05 1.05 0 1 0 .01 0M713.5 413.45a1.05 1.05 0 1 0 .01 0M713.5 415.00a1.05 1.05 0 1 0 .01 0M713.5 416.63a1.05 1.05 0 1 0 .01 0M713.5 418.77a1.05 1.05 0 1 0 .01 0M713.5 421.14a1.05 1.05 0 1 0 .01 0M713.5 423.77a1.05 1.05 0 1 0 .01 0M713.5 424.76a1.05 1.05 0 1 0 .01 0M714.5 401.43a1.05 1.05 0 1 0 .01 0M714.5 404.13a1.05 1.05 0 1 0 .01 0M714.5 408.64a1.05 1.05 0 1 0 .01 0M714.5 410.36a1.05 1.05 0 1 0 .01 0M714.5 411.62a1.05 1.05 0 1 0 .01 0M714.5 413.15a1.05 1.05 0 1 0 .01 0M714.5 414.68a1.05 1.05 0 1 0 .01 0M714.5 416.42a1.05 1.05 0 1 0 .01 0M714.5 418.92a1.05 1.05 0 1 0 .01 0M714.5 420.02a1.05 1.05 0 1 0 .01 0M715.5 401.55a1.05 1.05 0 1 0 .01 0M715.5 403.97a1.05 1.05 0 1 0 .01 0M715.5 406.39a1.05 1.05 0 1 0 .01 0M715.5 408.79a1.05 1.05 0 1 0 .01 0M715.5 410.80a1.05 1.05 0 1 0 .01 0M715.5 412.27a1.05 1.05 0 1 0 .01 0M715.5 413.64a1.05 1.05 0 1 0 .01 0M715.5 415.43a1.05 1.05 0 1 0 .01 0M715.5 417.19a1.05 1.05 0 1 0 .01 0M715.5 418.91a1.05 1.05 0 1 0 .01 0M715.5 421.13a1.05 1.05 0 1 0 .01 0M715.5 423.71a1.05 1.05 0 1 0 .01 0M715.5 424.76a1.05 1.05 0 1 0 .01 0M717.5 393.20a1.05 1.05 0 1 0 .01 0M717.5 395.96a1.05 1.05 0 1 0 .01 0M717.5 400.81a1.05 1.05 0 1 0 .01 0M717.5 403.18a1.05 1.05 0 1 0 .01 0M717.5 405.36a1.05 1.05 0 1 0 .01 0M717.5 407.26a1.05 1.05 0 1 0 .01 0M717.5 409.13a1.05 1.05 0 1 0 .01 0M717.5 410.85a1.05 1.05 0 1 0 .01 0M717.5 412.32a1.05 1.05 0 1 0 .01 0M717.5 413.86a1.05 1.05 0 1 0 .01 0M717.5 415.50a1.05 1.05 0 1 0 .01 0M717.5 419.87a1.05 1.05 0 1 0 .01 0M717.5 422.13a1.05 1.05 0 1 0 .01 0M717.5 424.55a1.05 1.05 0 1 0 .01 0M718.5 384.57a1.05 1.05 0 1 0 .01 0M718.5 387.14a1.05 1.05 0 1 0 .01 0M718.5 389.97a1.05 1.05 0 1 0 .01 0M718.5 392.21a1.05 1.05 0 1 0 .01 0M718.5 394.62a1.05 1.05 0 1 0 .01 0M718.5 396.61a1.05 1.05 0 1 0 .01 0M718.5 398.34a1.05 1.05 0 1 0 .01 0M718.5 400.22a1.05 1.05 0 1 0 .01 0M718.5 402.21a1.05 1.05 0 1 0 .01 0M718.5 404.03a1.05 1.05 0 1 0 .01 0M718.5 405.31a1.05 1.05 0 1 0 .01 0M718.5 406.96a1.05 1.05 0 1 0 .01 0M718.5 408.66a1.05 1.05 0 1 0 .01 0M718.5 410.38a1.05 1.05 0 1 0 .01 0M718.5 412.31a1.05 1.05 0 1 0 .01 0M718.5 414.27a1.05 1.05 0 1 0 .01 0M718.5 416.14a1.05 1.05 0 1 0 .01 0M718.5 418.43a1.05 1.05 0 1 0 .01 0M718.5 420.51a1.05 1.05 0 1 0 .01 0M718.5 425.02a1.05 1.05 0 1 0 .01 0M720.5 385.32a1.05 1.05 0 1 0 .01 0M720.5 387.94a1.05 1.05 0 1 0 .01 0M720.5 390.51a1.05 1.05 0 1 0 .01 0M720.5 393.05a1.05 1.05 0 1 0 .01 0M720.5 395.33a1.05 1.05 0 1 0 .01 0M720.5 397.28a1.05 1.05 0 1 0 .01 0M720.5 399.21a1.05 1.05 0 1 0 .01 0M720.5 401.07a1.05 1.05 0 1 0 .01 0M720.5 402.78a1.05 1.05 0 1 0 .01 0M720.5 404.15a1.05 1.05 0 1 0 .01 0M720.5 405.45a1.05 1.05 0 1 0 .01 0M720.5 406.76a1.05 1.05 0 1 0 .01 0M720.5 408.10a1.05 1.05 0 1 0 .01 0M720.5 409.89a1.05 1.05 0 1 0 .01 0M720.5 411.89a1.05 1.05 0 1 0 .01 0M720.5 413.99a1.05 1.05 0 1 0 .01 0M720.5 415.77a1.05 1.05 0 1 0 .01 0M720.5 417.64a1.05 1.05 0 1 0 .01 0M720.5 422.52a1.05 1.05 0 1 0 .01 0M720.5 424.73a1.05 1.05 0 1 0 .01 0M722.5 386.62a1.05 1.05 0 1 0 .01 0M722.5 392.10a1.05 1.05 0 1 0 .01 0M722.5 394.56a1.05 1.05 0 1 0 .01 0M722.5 396.52a1.05 1.05 0 1 0 .01 0M722.5 398.36a1.05 1.05 0 1 0 .01 0M722.5 400.58a1.05 1.05 0 1 0 .01 0M722.5 402.35a1.05 1.05 0 1 0 .01 0M722.5 404.07a1.05 1.05 0 1 0 .01 0M722.5 405.99a1.05 1.05 0 1 0 .01 0M722.5 407.32a1.05 1.05 0 1 0 .01 0M722.5 408.97a1.05 1.05 0 1 0 .01 0M722.5 410.37a1.05 1.05 0 1 0 .01 0M722.5 412.16a1.05 1.05 0 1 0 .01 0M722.5 415.94a1.05 1.05 0 1 0 .01 0M722.5 418.19a1.05 1.05 0 1 0 .01 0M722.5 420.70a1.05 1.05 0 1 0 .01 0M722.5 423.28a1.05 1.05 0 1 0 .01 0M722.5 425.89a1.05 1.05 0 1 0 .01 0M724.5 392.19a1.05 1.05 0 1 0 .01 0M724.5 394.97a1.05 1.05 0 1 0 .01 0M724.5 397.44a1.05 1.05 0 1 0 .01 0M724.5 399.74a1.05 1.05 0 1 0 .01 0M724.5 402.18a1.05 1.05 0 1 0 .01 0M724.5 404.04a1.05 1.05 0 1 0 .01 0M724.5 405.92a1.05 1.05 0 1 0 .01 0M724.5 407.64a1.05 1.05 0 1 0 .01 0M724.5 409.03a1.05 1.05 0 1 0 .01 0M724.5 410.32a1.05 1.05 0 1 0 .01 0M724.5 411.91a1.05 1.05 0 1 0 .01 0M724.5 413.79a1.05 1.05 0 1 0 .01 0M724.5 415.57a1.05 1.05 0 1 0 .01 0M724.5 417.26a1.05 1.05 0 1 0 .01 0M724.5 419.60a1.05 1.05 0 1 0 .01 0M724.5 421.62a1.05 1.05 0 1 0 .01 0M724.5 426.12a1.05 1.05 0 1 0 .01 0M726.5 402.09a1.05 1.05 0 1 0 .01 0M726.5 405.04a1.05 1.05 0 1 0 .01 0M726.5 407.19a1.05 1.05 0 1 0 .01 0M726.5 410.79a1.05 1.05 0 1 0 .01 0M726.5 412.60a1.05 1.05 0 1 0 .01 0M726.5 414.26a1.05 1.05 0 1 0 .01 0M726.5 416.22a1.05 1.05 0 1 0 .01 0M726.5 418.25a1.05 1.05 0 1 0 .01 0M726.5 420.48a1.05 1.05 0 1 0 .01 0M728.5 406.68a1.05 1.05 0 1 0 .01 0M728.5 409.50a1.05 1.05 0 1 0 .01 0M728.5 411.92a1.05 1.05 0 1 0 .01 0M728.5 413.98a1.05 1.05 0 1 0 .01 0M728.5 415.32a1.05 1.05 0 1 0 .01 0M728.5 416.67a1.05 1.05 0 1 0 .01 0M728.5 418.49a1.05 1.05 0 1 0 .01 0M728.5 420.81a1.05 1.05 0 1 0 .01 0M728.5 422.46a1.05 1.05 0 1 0 .01 0M730.5 399.25a1.05 1.05 0 1 0 .01 0M730.5 404.30a1.05 1.05 0 1 0 .01 0M730.5 406.32a1.05 1.05 0 1 0 .01 0M730.5 409.62a1.05 1.05 0 1 0 .01 0M730.5 411.33a1.05 1.05 0 1 0 .01 0M730.5 412.92a1.05 1.05 0 1 0 .01 0M730.5 414.95a1.05 1.05 0 1 0 .01 0M730.5 417.21a1.05 1.05 0 1 0 .01 0M730.5 419.65a1.05 1.05 0 1 0 .01 0M730.5 421.72a1.05 1.05 0 1 0 .01 0M733.5 399.81a1.05 1.05 0 1 0 .01 0M733.5 402.68a1.05 1.05 0 1 0 .01 0M733.5 404.53a1.05 1.05 0 1 0 .01 0M733.5 406.39a1.05 1.05 0 1 0 .01 0M734.5 399.41a1.05 1.05 0 1 0 .01 0M734.5 402.30a1.05 1.05 0 1 0 .01 0M734.5 403.83a1.05 1.05 0 1 0 .01 0M734.5 405.46a1.05 1.05 0 1 0 .01 0M734.5 406.39a1.05 1.05 0 1 0 .01 0M736.5 399.25a1.05 1.05 0 1 0 .01 0M736.5 401.84a1.05 1.05 0 1 0 .01 0M736.5 403.81a1.05 1.05 0 1 0 .01 0M736.5 405.36a1.05 1.05 0 1 0 .01 0M738.5 397.50a1.05 1.05 0 1 0 .01 0M738.5 400.07a1.05 1.05 0 1 0 .01 0M738.5 401.99a1.05 1.05 0 1 0 .01 0M738.5 403.92a1.05 1.05 0 1 0 .01 0M738.5 405.90a1.05 1.05 0 1 0 .01 0M738.5 407.98a1.05 1.05 0 1 0 .01 0M739.5 400.27a1.05 1.05 0 1 0 .01 0M739.5 403.25a1.05 1.05 0 1 0 .01 0M739.5 404.84a1.05 1.05 0 1 0 .01 0M741.5 409.03a1.05 1.05 0 1 0 .01 0M741.5 411.95a1.05 1.05 0 1 0 .01 0M741.5 413.58a1.05 1.05 0 1 0 .01 0M741.5 415.32a1.05 1.05 0 1 0 .01 0M741.5 417.31a1.05 1.05 0 1 0 .01 0M741.5 417.87a1.05 1.05 0 1 0 .01 0M743.5 413.26a1.05 1.05 0 1 0 .01 0M743.5 415.83a1.05 1.05 0 1 0 .01 0M743.5 417.57a1.05 1.05 0 1 0 .01 0M743.5 419.01a1.05 1.05 0 1 0 .01 0M746.5 414.85a1.05 1.05 0 1 0 .01 0M746.5 417.45a1.05 1.05 0 1 0 .01 0M746.5 419.27a1.05 1.05 0 1 0 .01 0M746.5 420.69a1.05 1.05 0 1 0 .01 0M747.5 413.89a1.05 1.05 0 1 0 .01 0M747.5 416.42a1.05 1.05 0 1 0 .01 0M747.5 418.91a1.05 1.05 0 1 0 .01 0M747.5 420.45a1.05 1.05 0 1 0 .01 0M747.5 422.12a1.05 1.05 0 1 0 .01 0M747.5 424.08a1.05 1.05 0 1 0 .01 0M747.5 425.90a1.05 1.05 0 1 0 .01 0M750.5 409.16a1.05 1.05 0 1 0 .01 0M750.5 413.90a1.05 1.05 0 1 0 .01 0M750.5 416.20a1.05 1.05 0 1 0 .01 0M750.5 418.29a1.05 1.05 0 1 0 .01 0M750.5 419.94a1.05 1.05 0 1 0 .01 0M750.5 421.52a1.05 1.05 0 1 0 .01 0M750.5 422.95a1.05 1.05 0 1 0 .01 0M750.5 424.77a1.05 1.05 0 1 0 .01 0M750.5 426.72a1.05 1.05 0 1 0 .01 0M750.5 429.04a1.05 1.05 0 1 0 .01 0M750.5 430.81a1.05 1.05 0 1 0 .01 0M753.5 400.99a1.05 1.05 0 1 0 .01 0M753.5 406.00a1.05 1.05 0 1 0 .01 0M753.5 408.42a1.05 1.05 0 1 0 .01 0M753.5 410.43a1.05 1.05 0 1 0 .01 0M753.5 412.46a1.05 1.05 0 1 0 .01 0M753.5 414.22a1.05 1.05 0 1 0 .01 0M753.5 415.55a1.05 1.05 0 1 0 .01 0M753.5 417.35a1.05 1.05 0 1 0 .01 0M753.5 418.85a1.05 1.05 0 1 0 .01 0M753.5 420.63a1.05 1.05 0 1 0 .01 0M753.5 422.80a1.05 1.05 0 1 0 .01 0M753.5 424.70a1.05 1.05 0 1 0 .01 0M753.5 426.67a1.05 1.05 0 1 0 .01 0M753.5 428.88a1.05 1.05 0 1 0 .01 0M753.5 430.50a1.05 1.05 0 1 0 .01 0M755.5 403.85a1.05 1.05 0 1 0 .01 0M755.5 406.35a1.05 1.05 0 1 0 .01 0M755.5 408.98a1.05 1.05 0 1 0 .01 0M755.5 411.22a1.05 1.05 0 1 0 .01 0M755.5 413.17a1.05 1.05 0 1 0 .01 0M755.5 414.74a1.05 1.05 0 1 0 .01 0M755.5 416.56a1.05 1.05 0 1 0 .01 0M755.5 417.86a1.05 1.05 0 1 0 .01 0M755.5 419.49a1.05 1.05 0 1 0 .01 0M755.5 420.99a1.05 1.05 0 1 0 .01 0M755.5 423.19a1.05 1.05 0 1 0 .01 0M755.5 425.47a1.05 1.05 0 1 0 .01 0M755.5 429.35a1.05 1.05 0 1 0 .01 0M757.5 407.29a1.05 1.05 0 1 0 .01 0M757.5 410.11a1.05 1.05 0 1 0 .01 0M757.5 412.26a1.05 1.05 0 1 0 .01 0M757.5 414.29a1.05 1.05 0 1 0 .01 0M757.5 416.15a1.05 1.05 0 1 0 .01 0M757.5 418.09a1.05 1.05 0 1 0 .01 0M757.5 419.55a1.05 1.05 0 1 0 .01 0M757.5 420.95a1.05 1.05 0 1 0 .01 0M757.5 422.61a1.05 1.05 0 1 0 .01 0M757.5 424.20a1.05 1.05 0 1 0 .01 0M757.5 426.15a1.05 1.05 0 1 0 .01 0M757.5 428.08a1.05 1.05 0 1 0 .01 0M757.5 430.61a1.05 1.05 0 1 0 .01 0M757.5 431.50a1.05 1.05 0 1 0 .01 0M759.5 409.37a1.05 1.05 0 1 0 .01 0M759.5 412.28a1.05 1.05 0 1 0 .01 0M759.5 414.71a1.05 1.05 0 1 0 .01 0M759.5 416.99a1.05 1.05 0 1 0 .01 0M759.5 418.82a1.05 1.05 0 1 0 .01 0M759.5 420.76a1.05 1.05 0 1 0 .01 0M759.5 422.34a1.05 1.05 0 1 0 .01 0M759.5 423.98a1.05 1.05 0 1 0 .01 0M759.5 425.70a1.05 1.05 0 1 0 .01 0M759.5 427.30a1.05 1.05 0 1 0 .01 0M759.5 429.15a1.05 1.05 0 1 0 .01 0M759.5 431.45a1.05 1.05 0 1 0 .01 0M759.5 433.52a1.05 1.05 0 1 0 .01 0M759.5 435.11a1.05 1.05 0 1 0 .01 0M761.5 410.73a1.05 1.05 0 1 0 .01 0M761.5 413.29a1.05 1.05 0 1 0 .01 0M761.5 415.82a1.05 1.05 0 1 0 .01 0M761.5 418.16a1.05 1.05 0 1 0 .01 0M761.5 420.06a1.05 1.05 0 1 0 .01 0M761.5 421.78a1.05 1.05 0 1 0 .01 0M761.5 423.60a1.05 1.05 0 1 0 .01 0M761.5 425.81a1.05 1.05 0 1 0 .01 0M761.5 427.99a1.05 1.05 0 1 0 .01 0M761.5 429.71a1.05 1.05 0 1 0 .01 0M763.5 427.33a1.05 1.05 0 1 0 .01 0M763.5 431.79a1.05 1.05 0 1 0 .01 0M763.5 432.52a1.05 1.05 0 1 0 .01 0M766.5 405.51a1.05 1.05 0 1 0 .01 0M766.5 408.28a1.05 1.05 0 1 0 .01 0M766.5 410.73a1.05 1.05 0 1 0 .01 0M766.5 412.97a1.05 1.05 0 1 0 .01 0M766.5 415.25a1.05 1.05 0 1 0 .01 0M766.5 417.04a1.05 1.05 0 1 0 .01 0M766.5 418.46a1.05 1.05 0 1 0 .01 0M766.5 419.87a1.05 1.05 0 1 0 .01 0M766.5 421.37a1.05 1.05 0 1 0 .01 0M766.5 422.89a1.05 1.05 0 1 0 .01 0M766.5 424.89a1.05 1.05 0 1 0 .01 0M766.5 426.80a1.05 1.05 0 1 0 .01 0M766.5 429.09a1.05 1.05 0 1 0 .01 0M766.5 431.31a1.05 1.05 0 1 0 .01 0M767.5 412.65a1.05 1.05 0 1 0 .01 0M767.5 415.12a1.05 1.05 0 1 0 .01 0M767.5 417.20a1.05 1.05 0 1 0 .01 0M767.5 419.17a1.05 1.05 0 1 0 .01 0M767.5 420.80a1.05 1.05 0 1 0 .01 0M767.5 422.65a1.05 1.05 0 1 0 .01 0M767.5 424.08a1.05 1.05 0 1 0 .01 0M767.5 426.13a1.05 1.05 0 1 0 .01 0M767.5 428.27a1.05 1.05 0 1 0 .01 0M767.5 430.39a1.05 1.05 0 1 0 .01 0M767.5 431.31a1.05 1.05 0 1 0 .01 0M770.5 419.59a1.05 1.05 0 1 0 .01 0M770.5 422.04a1.05 1.05 0 1 0 .01 0M770.5 424.61a1.05 1.05 0 1 0 .01 0M770.5 426.27a1.05 1.05 0 1 0 .01 0M770.5 427.96a1.05 1.05 0 1 0 .01 0M770.5 429.34a1.05 1.05 0 1 0 .01 0M770.5 431.26a1.05 1.05 0 1 0 .01 0M770.5 433.24a1.05 1.05 0 1 0 .01 0M770.5 434.96a1.05 1.05 0 1 0 .01 0M772.5 418.76a1.05 1.05 0 1 0 .01 0M772.5 421.55a1.05 1.05 0 1 0 .01 0M772.5 424.07a1.05 1.05 0 1 0 .01 0M772.5 426.10a1.05 1.05 0 1 0 .01 0M772.5 427.52a1.05 1.05 0 1 0 .01 0M772.5 429.41a1.05 1.05 0 1 0 .01 0M772.5 431.42a1.05 1.05 0 1 0 .01 0M772.5 433.59a1.05 1.05 0 1 0 .01 0M772.5 434.99a1.05 1.05 0 1 0 .01 0M773.5 413.27a1.05 1.05 0 1 0 .01 0M773.5 415.75a1.05 1.05 0 1 0 .01 0M773.5 418.30a1.05 1.05 0 1 0 .01 0M773.5 420.43a1.05 1.05 0 1 0 .01 0M773.5 422.12a1.05 1.05 0 1 0 .01 0M773.5 423.49a1.05 1.05 0 1 0 .01 0M773.5 425.42a1.05 1.05 0 1 0 .01 0M773.5 427.46a1.05 1.05 0 1 0 .01 0M773.5 429.71a1.05 1.05 0 1 0 .01 0M773.5 430.91a1.05 1.05 0 1 0 .01 0M775.5 410.84a1.05 1.05 0 1 0 .01 0M775.5 413.70a1.05 1.05 0 1 0 .01 0M775.5 416.26a1.05 1.05 0 1 0 .01 0M775.5 418.33a1.05 1.05 0 1 0 .01 0M775.5 420.40a1.05 1.05 0 1 0 .01 0M775.5 421.76a1.05 1.05 0 1 0 .01 0M775.5 423.46a1.05 1.05 0 1 0 .01 0M775.5 425.47a1.05 1.05 0 1 0 .01 0M775.5 427.72a1.05 1.05 0 1 0 .01 0M775.5 430.05a1.05 1.05 0 1 0 .01 0M775.5 431.31a1.05 1.05 0 1 0 .01 0M777.5 413.85a1.05 1.05 0 1 0 .01 0M777.5 416.42a1.05 1.05 0 1 0 .01 0M777.5 418.76a1.05 1.05 0 1 0 .01 0M777.5 422.76a1.05 1.05 0 1 0 .01 0M777.5 424.21a1.05 1.05 0 1 0 .01 0M777.5 426.23a1.05 1.05 0 1 0 .01 0M777.5 428.33a1.05 1.05 0 1 0 .01 0M777.5 430.81a1.05 1.05 0 1 0 .01 0M777.5 431.31a1.05 1.05 0 1 0 .01 0M779.5 417.30a1.05 1.05 0 1 0 .01 0M779.5 420.13a1.05 1.05 0 1 0 .01 0M779.5 422.27a1.05 1.05 0 1 0 .01 0M779.5 424.29a1.05 1.05 0 1 0 .01 0M779.5 426.08a1.05 1.05 0 1 0 .01 0M779.5 427.63a1.05 1.05 0 1 0 .01 0M779.5 429.33a1.05 1.05 0 1 0 .01 0M779.5 431.29a1.05 1.05 0 1 0 .01 0M779.5 433.63a1.05 1.05 0 1 0 .01 0M779.5 434.76a1.05 1.05 0 1 0 .01 0"/><g fill="none" stroke="#2222f2" stroke-width="0.95"><circle cx="236.6" cy="401.5" r="1.1"/><circle cx="241.2" cy="433.1" r="1.1"/><circle cx="202.5" cy="445.2" r="1.1"/><circle cx="216.5" cy="445.2" r="1.1"/><circle cx="216.5" cy="447.5" r="1.1"/><circle cx="217.1" cy="449.4" r="1.1"/><circle cx="224.0" cy="445.2" r="1.1"/><circle cx="232.9" cy="449.2" r="1.1"/><circle cx="234.5" cy="447.1" r="1.1"/><circle cx="298.0" cy="383.8" r="1.1"/><circle cx="305.4" cy="385.6" r="1.1"/><circle cx="281.4" cy="392.5" r="1.1"/><circle cx="289.5" cy="427.8" r="1.1"/><circle cx="283.7" cy="438.4" r="1.1"/><circle cx="300.0" cy="433.3" r="1.1"/><circle cx="306.6" cy="443.7" r="1.1"/><circle cx="333.9" cy="408.5" r="1.1"/><circle cx="336.5" cy="434.5" r="1.1"/><circle cx="347.7" cy="450.2" r="1.1"/><circle cx="349.2" cy="452.2" r="1.1"/><circle cx="350.5" cy="454.0" r="1.1"/><circle cx="375.6" cy="390.7" r="1.1"/><circle cx="379.9" cy="390.7" r="1.1"/><circle cx="370.5" cy="429.5" r="1.1"/><circle cx="380.5" cy="429.5" r="1.1"/><circle cx="379.7" cy="431.8" r="1.1"/><circle cx="387.0" cy="429.5" r="1.1"/><circle cx="402.9" cy="436.4" r="1.1"/><circle cx="410.7" cy="436.4" r="1.1"/><circle cx="422.1" cy="447.2" r="1.1"/><circle cx="431.4" cy="445.4" r="1.1"/><circle cx="437.6" cy="447.2" r="1.1"/><circle cx="461.8" cy="443.5" r="1.1"/><circle cx="480.5" cy="366.0" r="1.1"/><circle cx="500.6" cy="366.0" r="1.1"/><circle cx="543.4" cy="364.4" r="1.1"/><circle cx="558.6" cy="374.9" r="1.1"/><circle cx="507.3" cy="420.6" r="1.1"/><circle cx="509.8" cy="431.4" r="1.1"/><circle cx="500.6" cy="436.3" r="1.1"/><circle cx="542.8" cy="422.3" r="1.1"/><circle cx="552.5" cy="429.2" r="1.1"/><circle cx="558.6" cy="427.7" r="1.1"/><circle cx="558.6" cy="431.4" r="1.1"/><circle cx="558.2" cy="438.6" r="1.1"/><circle cx="597.5" cy="360.6" r="1.1"/><circle cx="640.5" cy="364.4" r="1.1"/><circle cx="644.2" cy="373.4" r="1.1"/><circle cx="655.5" cy="380.3" r="1.1"/><circle cx="571.9" cy="376.4" r="1.1"/><circle cx="631.4" cy="374.9" r="1.1"/><circle cx="631.4" cy="380.3" r="1.1"/><circle cx="633.3" cy="392.5" r="1.1"/><circle cx="640.5" cy="384.1" r="1.1"/><circle cx="572.1" cy="387.3" r="1.1"/><circle cx="600.4" cy="412.2" r="1.1"/><circle cx="615.5" cy="419.1" r="1.1"/><circle cx="578.4" cy="420.6" r="1.1"/><circle cx="576.5" cy="427.7" r="1.1"/><circle cx="571.9" cy="432.9" r="1.1"/><circle cx="575.9" cy="432.9" r="1.1"/><circle cx="576.5" cy="434.9" r="1.1"/><circle cx="597.5" cy="431.4" r="1.1"/><circle cx="631.4" cy="431.4" r="1.1"/><circle cx="633.7" cy="429.5" r="1.1"/><circle cx="633.7" cy="436.3" r="1.1"/><circle cx="624.7" cy="439.2" r="1.1"/><circle cx="713.5" cy="380.3" r="1.1"/><circle cx="666.4" cy="431.7" r="1.1"/><circle cx="669.6" cy="429.5" r="1.1"/><circle cx="692.3" cy="443.5" r="1.1"/><circle cx="705.2" cy="441.5" r="1.1"/><circle cx="713.5" cy="445.4" r="1.1"/><circle cx="747.9" cy="431.7" r="1.1"/><circle cx="751.7" cy="441.8" r="1.1"/><circle cx="760.3" cy="449.0" r="1.1"/><circle cx="705.2" cy="385.3" r="1.1"/><circle cx="751.5" cy="452.3" r="1.1"/><circle cx="349.9" cy="457.7" r="1.1"/><circle cx="375.2" cy="449.3" r="1.1"/><circle cx="422.4" cy="452.1" r="1.1"/><circle cx="422.4" cy="454.3" r="1.1"/><circle cx="480.1" cy="447.3" r="1.1"/><circle cx="452.8" cy="454.3" r="1.1"/><circle cx="453.4" cy="457.7" r="1.1"/><circle cx="442.6" cy="471.7" r="1.1"/><circle cx="449.4" cy="468.3" r="1.1"/><circle cx="451.8" cy="468.3" r="1.1"/><circle cx="457.3" cy="466.5" r="1.1"/><circle cx="457.3" cy="470.4" r="1.1"/><circle cx="462.9" cy="466.5" r="1.1"/><circle cx="464.6" cy="468.3" r="1.1"/><circle cx="473.3" cy="466.5" r="1.1"/><circle cx="529.4" cy="450.4" r="1.1"/><circle cx="526.8" cy="457.6" r="1.1"/><circle cx="531.4" cy="457.6" r="1.1"/><circle cx="530.3" cy="463.1" r="1.1"/><circle cx="543.5" cy="457.6" r="1.1"/><circle cx="540.3" cy="461.2" r="1.1"/><circle cx="545.4" cy="461.2" r="1.1"/><circle cx="544.9" cy="463.1" r="1.1"/><circle cx="536.0" cy="468.5" r="1.1"/><circle cx="541.2" cy="468.5" r="1.1"/><circle cx="498.7" cy="461.2" r="1.1"/><circle cx="515.9" cy="461.2" r="1.1"/><circle cx="489.3" cy="468.5" r="1.1"/><circle cx="506.7" cy="494.6" r="1.1"/><circle cx="531.7" cy="496.6" r="1.1"/><circle cx="555.3" cy="459.5" r="1.1"/><circle cx="558.1" cy="441.5" r="1.1"/><circle cx="558.1" cy="443.5" r="1.1"/><circle cx="644.1" cy="441.5" r="1.1"/><circle cx="639.5" cy="443.5" r="1.1"/><circle cx="640.8" cy="445.5" r="1.1"/><circle cx="655.5" cy="445.3" r="1.1"/><circle cx="604.4" cy="447.2" r="1.1"/><circle cx="624.5" cy="450.4" r="1.1"/><circle cx="631.4" cy="454.3" r="1.1"/><circle cx="638.9" cy="456.2" r="1.1"/><circle cx="585.5" cy="461.2" r="1.1"/><circle cx="607.9" cy="461.2" r="1.1"/><circle cx="631.7" cy="463.1" r="1.1"/><circle cx="639.8" cy="466.5" r="1.1"/><circle cx="639.5" cy="468.5" r="1.1"/><circle cx="639.5" cy="475.4" r="1.1"/><circle cx="305.3" cy="110.6" r="1.1"/><circle cx="301.8" cy="119.3" r="1.1"/><circle cx="305.5" cy="121.0" r="1.1"/><circle cx="306.4" cy="145.6" r="1.1"/><circle cx="300.1" cy="150.7" r="1.1"/><circle cx="306.6" cy="173.7" r="1.1"/><circle cx="221.9" cy="119.4" r="1.1"/><circle cx="173.4" cy="193.3" r="1.1"/><circle cx="229.4" cy="200.3" r="1.1"/><circle cx="482.1" cy="128.2" r="1.1"/><circle cx="505.7" cy="106.7" r="1.1"/><circle cx="558.1" cy="112.1" r="1.1"/><circle cx="634.7" cy="113.8" r="1.1"/><circle cx="633.3" cy="124.5" r="1.1"/><circle cx="635.9" cy="138.4" r="1.1"/><circle cx="622.7" cy="202.2" r="1.1"/><circle cx="707.3" cy="122.4" r="1.1"/><circle cx="756.2" cy="129.8" r="1.1"/><circle cx="685.4" cy="140.3" r="1.1"/><circle cx="671.1" cy="154.3" r="1.1"/><circle cx="686.3" cy="158.3" r="1.1"/><circle cx="686.3" cy="163.4" r="1.1"/><circle cx="769.7" cy="173.7" r="1.1"/><circle cx="769.7" cy="180.9" r="1.1"/><circle cx="776.4" cy="277.9" r="1.1"/><circle cx="717.8" cy="454.5" r="1.1"/><circle cx="461.5" cy="369.6" r="1.1"/><circle cx="692.0" cy="365.9" r="1.1"/><circle cx="718.1" cy="367.6" r="1.1"/><circle cx="221.7" cy="241.0" r="1.1"/><circle cx="183.8" cy="258.5" r="1.1"/><circle cx="192.2" cy="263.6" r="1.1"/><circle cx="194.3" cy="262.5" r="1.1"/><circle cx="190.3" cy="269.1" r="1.1"/><circle cx="181.5" cy="272.6" r="1.1"/><circle cx="183.2" cy="272.6" r="1.1"/><circle cx="184.9" cy="272.6" r="1.1"/><circle cx="188.0" cy="274.5" r="1.1"/><circle cx="179.4" cy="279.5" r="1.1"/><circle cx="181.3" cy="278.0" r="1.1"/><circle cx="187.8" cy="281.4" r="1.1"/><circle cx="209.3" cy="269.1" r="1.1"/><circle cx="221.3" cy="269.1" r="1.1"/><circle cx="221.3" cy="274.3" r="1.1"/><circle cx="219.6" cy="279.5" r="1.1"/><circle cx="221.3" cy="278.0" r="1.1"/><circle cx="211.3" cy="281.4" r="1.1"/><circle cx="207.0" cy="286.6" r="1.1"/><circle cx="217.4" cy="286.6" r="1.1"/><circle cx="221.3" cy="286.6" r="1.1"/><circle cx="225.5" cy="286.6" r="1.1"/><circle cx="234.3" cy="274.3" r="1.1"/><circle cx="240.6" cy="271.1" r="1.1"/><circle cx="242.9" cy="272.6" r="1.1"/><circle cx="245.2" cy="269.1" r="1.1"/><circle cx="247.5" cy="271.1" r="1.1"/><circle cx="237.2" cy="279.5" r="1.1"/><circle cx="238.9" cy="278.0" r="1.1"/><circle cx="240.6" cy="278.0" r="1.1"/><circle cx="241.4" cy="281.4" r="1.1"/><circle cx="240.6" cy="284.9" r="1.1"/><circle cx="249.2" cy="276.0" r="1.1"/><circle cx="253.5" cy="276.0" r="1.1"/><circle cx="248.1" cy="281.4" r="1.1"/><circle cx="248.1" cy="286.6" r="1.1"/><circle cx="255.5" cy="283.2" r="1.1"/><circle cx="259.8" cy="263.6" r="1.1"/><circle cx="264.1" cy="267.4" r="1.1"/><circle cx="262.8" cy="271.1" r="1.1"/><circle cx="264.4" cy="271.1" r="1.1"/><circle cx="257.8" cy="272.6" r="1.1"/><circle cx="261.8" cy="278.0" r="1.1"/><circle cx="262.4" cy="281.4" r="1.1"/><circle cx="268.2" cy="278.0" r="1.1"/><circle cx="269.3" cy="271.1" r="1.1"/><circle cx="285.3" cy="242.7" r="1.1"/><circle cx="287.5" cy="244.4" r="1.1"/><circle cx="280.9" cy="247.9" r="1.1"/><circle cx="278.6" cy="251.6" r="1.1"/><circle cx="272.5" cy="260.5" r="1.1"/><circle cx="276.5" cy="265.7" r="1.1"/><circle cx="283.0" cy="258.5" r="1.1"/><circle cx="289.3" cy="267.4" r="1.1"/><circle cx="291.2" cy="262.2" r="1.1"/><circle cx="293.0" cy="262.2" r="1.1"/><circle cx="293.3" cy="256.5" r="1.1"/><circle cx="295.5" cy="253.4" r="1.1"/><circle cx="297.2" cy="251.6" r="1.1"/><circle cx="303.3" cy="244.4" r="1.1"/><circle cx="303.9" cy="251.6" r="1.1"/><circle cx="305.6" cy="255.0" r="1.1"/><circle cx="303.9" cy="256.5" r="1.1"/><circle cx="308.5" cy="256.5" r="1.1"/><circle cx="301.6" cy="258.5" r="1.1"/><circle cx="302.4" cy="260.5" r="1.1"/><circle cx="301.6" cy="262.2" r="1.1"/><circle cx="303.3" cy="263.6" r="1.1"/><circle cx="302.1" cy="265.7" r="1.1"/><circle cx="302.5" cy="267.4" r="1.1"/><circle cx="305.0" cy="269.1" r="1.1"/><circle cx="301.9" cy="271.1" r="1.1"/><circle cx="305.4" cy="272.6" r="1.1"/><circle cx="310.4" cy="269.1" r="1.1"/><circle cx="312.5" cy="262.2" r="1.1"/><circle cx="314.5" cy="258.5" r="1.1"/><circle cx="319.0" cy="255.0" r="1.1"/><circle cx="322.6" cy="256.5" r="1.1"/><circle cx="320.9" cy="260.5" r="1.1"/><circle cx="323.2" cy="263.6" r="1.1"/><circle cx="327.4" cy="253.3" r="1.1"/><circle cx="316.8" cy="272.6" r="1.1"/><circle cx="340.0" cy="269.1" r="1.1"/><circle cx="342.1" cy="267.4" r="1.1"/><circle cx="344.4" cy="263.6" r="1.1"/><circle cx="361.3" cy="260.5" r="1.1"/><circle cx="363.0" cy="263.6" r="1.1"/><circle cx="365.3" cy="262.2" r="1.1"/><circle cx="367.4" cy="258.5" r="1.1"/><circle cx="366.4" cy="265.7" r="1.1"/><circle cx="360.1" cy="274.3" r="1.1"/><circle cx="369.3" cy="272.6" r="1.1"/><circle cx="274.6" cy="284.9" r="1.1"/><circle cx="300.2" cy="281.4" r="1.1"/><circle cx="299.6" cy="284.9" r="1.1"/><circle cx="299.9" cy="286.6" r="1.1"/><circle cx="306.5" cy="279.5" r="1.1"/><circle cx="307.3" cy="281.4" r="1.1"/><circle cx="306.5" cy="284.9" r="1.1"/><circle cx="325.3" cy="281.4" r="1.1"/><circle cx="333.5" cy="279.5" r="1.1"/><circle cx="338.0" cy="279.5" r="1.1"/><circle cx="335.7" cy="283.2" r="1.1"/><circle cx="386.4" cy="244.4" r="1.1"/><circle cx="405.4" cy="244.4" r="1.1"/><circle cx="409.6" cy="247.9" r="1.1"/><circle cx="411.9" cy="251.6" r="1.1"/><circle cx="407.3" cy="253.3" r="1.1"/><circle cx="415.9" cy="255.0" r="1.1"/><circle cx="371.4" cy="265.7" r="1.1"/><circle cx="373.4" cy="263.6" r="1.1"/><circle cx="375.7" cy="269.1" r="1.1"/><circle cx="378.0" cy="260.5" r="1.1"/><circle cx="380.3" cy="258.5" r="1.1"/><circle cx="380.3" cy="265.7" r="1.1"/><circle cx="382.4" cy="262.2" r="1.1"/><circle cx="384.4" cy="267.4" r="1.1"/><circle cx="388.4" cy="263.6" r="1.1"/><circle cx="390.7" cy="256.5" r="1.1"/><circle cx="392.7" cy="260.5" r="1.1"/><circle cx="394.7" cy="263.6" r="1.1"/><circle cx="397.0" cy="258.5" r="1.1"/><circle cx="399.3" cy="262.2" r="1.1"/><circle cx="401.2" cy="260.5" r="1.1"/><circle cx="403.3" cy="258.5" r="1.1"/><circle cx="418.2" cy="263.6" r="1.1"/><circle cx="420.3" cy="265.7" r="1.1"/><circle cx="424.5" cy="269.1" r="1.1"/><circle cx="413.6" cy="274.3" r="1.1"/><circle cx="373.7" cy="279.5" r="1.1"/><circle cx="426.3" cy="246.2" r="1.1"/><circle cx="428.6" cy="246.2" r="1.1"/><circle cx="428.9" cy="258.5" r="1.1"/><circle cx="429.4" cy="279.5" r="1.1"/><circle cx="434.9" cy="281.4" r="1.1"/><circle cx="441.8" cy="272.6" r="1.1"/><circle cx="443.5" cy="269.1" r="1.1"/><circle cx="442.3" cy="276.0" r="1.1"/><circle cx="447.5" cy="244.4" r="1.1"/><circle cx="449.8" cy="246.2" r="1.1"/><circle cx="451.7" cy="246.5" r="1.1"/><circle cx="454.0" cy="247.9" r="1.1"/><circle cx="456.1" cy="251.6" r="1.1"/><circle cx="457.8" cy="250.2" r="1.1"/><circle cx="459.6" cy="248.5" r="1.1"/><circle cx="461.8" cy="247.9" r="1.1"/><circle cx="463.9" cy="247.0" r="1.1"/><circle cx="466.4" cy="246.5" r="1.1"/><circle cx="468.5" cy="239.3" r="1.1"/><circle cx="469.7" cy="247.9" r="1.1"/><circle cx="513.1" cy="210.7" r="1.1"/><circle cx="521.4" cy="214.4" r="1.1"/><circle cx="523.7" cy="216.1" r="1.1"/><circle cx="508.8" cy="221.4" r="1.1"/><circle cx="515.4" cy="221.4" r="1.1"/><circle cx="519.4" cy="221.4" r="1.1"/><circle cx="504.4" cy="223.4" r="1.1"/><circle cx="502.5" cy="226.5" r="1.1"/><circle cx="498.1" cy="228.5" r="1.1"/><circle cx="497.3" cy="230.5" r="1.1"/><circle cx="494.1" cy="233.7" r="1.1"/><circle cx="491.8" cy="237.5" r="1.1"/><circle cx="506.2" cy="230.5" r="1.1"/><circle cx="510.8" cy="230.5" r="1.1"/><circle cx="517.4" cy="233.7" r="1.1"/><circle cx="477.5" cy="233.7" r="1.1"/><circle cx="481.3" cy="232.2" r="1.1"/><circle cx="483.5" cy="232.2" r="1.1"/><circle cx="475.2" cy="240.9" r="1.1"/><circle cx="485.5" cy="239.2" r="1.1"/><circle cx="473.4" cy="248.1" r="1.1"/><circle cx="487.5" cy="244.6" r="1.1"/><circle cx="489.7" cy="242.5" r="1.1"/><circle cx="490.7" cy="246.3" r="1.1"/><circle cx="496.8" cy="244.6" r="1.1"/><circle cx="497.6" cy="240.9" r="1.1"/><circle cx="500.4" cy="240.9" r="1.1"/><circle cx="503.3" cy="248.1" r="1.1"/><circle cx="509.4" cy="246.3" r="1.1"/><circle cx="501.2" cy="253.2" r="1.1"/><circle cx="496.4" cy="260.5" r="1.1"/><circle cx="506.2" cy="262.4" r="1.1"/><circle cx="479.4" cy="263.6" r="1.1"/><circle cx="481.8" cy="269.3" r="1.1"/><circle cx="525.7" cy="235.4" r="1.1"/><circle cx="532.0" cy="228.5" r="1.1"/><circle cx="534.3" cy="221.4" r="1.1"/><circle cx="534.6" cy="225.1" r="1.1"/><circle cx="527.4" cy="246.3" r="1.1"/><circle cx="529.7" cy="242.5" r="1.1"/><circle cx="534.5" cy="239.2" r="1.1"/><circle cx="536.0" cy="242.5" r="1.1"/><circle cx="538.7" cy="242.5" r="1.1"/><circle cx="534.5" cy="246.3" r="1.1"/><circle cx="534.5" cy="248.1" r="1.1"/><circle cx="542.6" cy="242.5" r="1.1"/><circle cx="544.6" cy="239.2" r="1.1"/><circle cx="547.2" cy="242.5" r="1.1"/><circle cx="549.0" cy="242.5" r="1.1"/><circle cx="540.6" cy="249.8" r="1.1"/><circle cx="527.7" cy="256.7" r="1.1"/><circle cx="543.2" cy="256.7" r="1.1"/><circle cx="548.4" cy="269.3" r="1.1"/><circle cx="551.2" cy="224.9" r="1.1"/><circle cx="561.5" cy="223.4" r="1.1"/><circle cx="563.6" cy="228.5" r="1.1"/><circle cx="559.6" cy="232.2" r="1.1"/><circle cx="566.4" cy="233.7" r="1.1"/><circle cx="568.7" cy="233.7" r="1.1"/><circle cx="557.5" cy="240.9" r="1.1"/><circle cx="558.4" cy="248.1" r="1.1"/><circle cx="553.2" cy="251.5" r="1.1"/><circle cx="555.5" cy="253.2" r="1.1"/><circle cx="603.6" cy="212.8" r="1.1"/><circle cx="605.9" cy="216.1" r="1.1"/><circle cx="614.2" cy="214.4" r="1.1"/><circle cx="618.2" cy="212.8" r="1.1"/><circle cx="616.5" cy="216.1" r="1.1"/><circle cx="618.5" cy="216.1" r="1.1"/><circle cx="620.5" cy="216.1" r="1.1"/><circle cx="591.2" cy="221.4" r="1.1"/><circle cx="597.6" cy="221.4" r="1.1"/><circle cx="599.6" cy="221.4" r="1.1"/><circle cx="601.6" cy="219.6" r="1.1"/><circle cx="608.2" cy="221.4" r="1.1"/><circle cx="593.5" cy="225.1" r="1.1"/><circle cx="580.3" cy="228.5" r="1.1"/><circle cx="582.4" cy="228.5" r="1.1"/><circle cx="593.0" cy="230.3" r="1.1"/><circle cx="584.9" cy="232.2" r="1.1"/><circle cx="587.0" cy="232.2" r="1.1"/><circle cx="589.3" cy="235.4" r="1.1"/><circle cx="572.3" cy="237.4" r="1.1"/><circle cx="578.4" cy="237.4" r="1.1"/><circle cx="590.9" cy="239.2" r="1.1"/><circle cx="595.5" cy="237.4" r="1.1"/><circle cx="610.2" cy="230.3" r="1.1"/><circle cx="618.5" cy="225.1" r="1.1"/><circle cx="624.9" cy="225.1" r="1.1"/><circle cx="624.5" cy="230.3" r="1.1"/><circle cx="627.2" cy="233.7" r="1.1"/><circle cx="629.4" cy="244.4" r="1.1"/><circle cx="623.4" cy="246.1" r="1.1"/><circle cx="623.4" cy="248.1" r="1.1"/><circle cx="648.3" cy="246.1" r="1.1"/><circle cx="646.0" cy="253.2" r="1.1"/><circle cx="574.0" cy="253.2" r="1.1"/><circle cx="576.5" cy="255.2" r="1.1"/><circle cx="662.8" cy="255.2" r="1.1"/><circle cx="665.1" cy="258.4" r="1.1"/><circle cx="635.4" cy="262.2" r="1.1"/><circle cx="639.5" cy="262.2" r="1.1"/><circle cx="643.8" cy="263.8" r="1.1"/><circle cx="652.3" cy="262.2" r="1.1"/><circle cx="656.3" cy="260.5" r="1.1"/><circle cx="658.6" cy="263.8" r="1.1"/><circle cx="660.7" cy="263.8" r="1.1"/><circle cx="630.5" cy="267.6" r="1.1"/><circle cx="633.1" cy="269.3" r="1.1"/><circle cx="632.0" cy="272.7" r="1.1"/><circle cx="641.8" cy="271.0" r="1.1"/><circle cx="650.4" cy="271.0" r="1.1"/><circle cx="631.4" cy="276.2" r="1.1"/><circle cx="633.5" cy="276.2" r="1.1"/><circle cx="633.4" cy="279.6" r="1.1"/><circle cx="637.5" cy="277.9" r="1.1"/><circle cx="667.4" cy="276.2" r="1.1"/><circle cx="667.4" cy="279.6" r="1.1"/><circle cx="660.9" cy="283.4" r="1.1"/><circle cx="669.0" cy="284.2" r="1.1"/><circle cx="679.8" cy="228.5" r="1.1"/><circle cx="705.0" cy="228.5" r="1.1"/><circle cx="701.6" cy="233.7" r="1.1"/><circle cx="704.4" cy="237.4" r="1.1"/><circle cx="702.7" cy="239.2" r="1.1"/><circle cx="675.2" cy="240.9" r="1.1"/><circle cx="698.7" cy="240.9" r="1.1"/><circle cx="701.0" cy="240.9" r="1.1"/><circle cx="700.8" cy="244.6" r="1.1"/><circle cx="698.5" cy="244.6" r="1.1"/><circle cx="694.5" cy="244.6" r="1.1"/><circle cx="682.1" cy="248.1" r="1.1"/><circle cx="691.8" cy="248.1" r="1.1"/><circle cx="697.6" cy="248.1" r="1.1"/><circle cx="699.9" cy="248.1" r="1.1"/><circle cx="696.6" cy="249.8" r="1.1"/><circle cx="701.9" cy="249.8" r="1.1"/><circle cx="707.3" cy="249.8" r="1.1"/><circle cx="713.6" cy="248.1" r="1.1"/><circle cx="692.6" cy="251.5" r="1.1"/><circle cx="682.4" cy="253.2" r="1.1"/><circle cx="684.0" cy="255.2" r="1.1"/><circle cx="675.4" cy="255.2" r="1.1"/><circle cx="677.7" cy="258.4" r="1.1"/><circle cx="703.3" cy="258.4" r="1.1"/><circle cx="673.4" cy="265.6" r="1.1"/><circle cx="688.4" cy="265.6" r="1.1"/><circle cx="706.5" cy="263.8" r="1.1"/><circle cx="709.6" cy="262.2" r="1.1"/><circle cx="711.6" cy="263.8" r="1.1"/><circle cx="707.3" cy="265.6" r="1.1"/><circle cx="707.3" cy="271.0" r="1.1"/><circle cx="717.6" cy="269.3" r="1.1"/><circle cx="715.6" cy="276.2" r="1.1"/><circle cx="724.5" cy="276.2" r="1.1"/><circle cx="726.3" cy="277.9" r="1.1"/><circle cx="743.2" cy="272.5" r="1.1"/><circle cx="753.6" cy="265.6" r="1.1"/><circle cx="685.8" cy="277.9" r="1.1"/><circle cx="685.5" cy="281.3" r="1.1"/><circle cx="685.5" cy="284.2" r="1.1"/><circle cx="690.4" cy="283.4" r="1.1"/><circle cx="722.2" cy="283.4" r="1.1"/><circle cx="178.6" cy="288.4" r="1.1"/><circle cx="176.3" cy="291.9" r="1.1"/><circle cx="175.2" cy="293.6" r="1.1"/><circle cx="175.2" cy="295.3" r="1.1"/><circle cx="177.5" cy="300.5" r="1.1"/><circle cx="176.3" cy="302.5" r="1.1"/><circle cx="176.5" cy="307.7" r="1.1"/><circle cx="173.4" cy="315.1" r="1.1"/><circle cx="173.4" cy="334.4" r="1.1"/><circle cx="205.0" cy="291.9" r="1.1"/><circle cx="196.4" cy="300.5" r="1.1"/><circle cx="200.4" cy="300.5" r="1.1"/><circle cx="203.0" cy="304.3" r="1.1"/><circle cx="198.5" cy="315.1" r="1.1"/><circle cx="213.6" cy="297.3" r="1.1"/><circle cx="216.5" cy="295.6" r="1.1"/><circle cx="217.4" cy="304.3" r="1.1"/><circle cx="215.6" cy="311.4" r="1.1"/><circle cx="216.5" cy="315.1" r="1.1"/><circle cx="226.3" cy="291.9" r="1.1"/><circle cx="228.6" cy="295.3" r="1.1"/><circle cx="230.5" cy="293.6" r="1.1"/><circle cx="228.3" cy="297.3" r="1.1"/><circle cx="223.6" cy="299.0" r="1.1"/><circle cx="225.7" cy="300.5" r="1.1"/><circle cx="224.0" cy="302.5" r="1.1"/><circle cx="232.9" cy="297.3" r="1.1"/><circle cx="232.0" cy="299.0" r="1.1"/><circle cx="236.4" cy="299.4" r="1.1"/><circle cx="232.6" cy="302.5" r="1.1"/><circle cx="234.5" cy="302.5" r="1.1"/><circle cx="232.6" cy="304.5" r="1.1"/><circle cx="232.0" cy="306.8" r="1.1"/><circle cx="229.1" cy="307.7" r="1.1"/><circle cx="224.0" cy="311.4" r="1.1"/><circle cx="224.5" cy="313.1" r="1.1"/><circle cx="234.5" cy="313.1" r="1.1"/><circle cx="231.8" cy="318.3" r="1.1"/><circle cx="228.6" cy="322.0" r="1.1"/><circle cx="240.0" cy="288.4" r="1.1"/><circle cx="249.2" cy="293.6" r="1.1"/><circle cx="251.5" cy="299.4" r="1.1"/><circle cx="249.4" cy="304.3" r="1.1"/><circle cx="251.7" cy="304.3" r="1.1"/><circle cx="249.2" cy="308.0" r="1.1"/><circle cx="250.4" cy="320.4" r="1.1"/><circle cx="266.2" cy="300.5" r="1.1"/><circle cx="268.7" cy="295.6" r="1.1"/><circle cx="275.4" cy="293.6" r="1.1"/><circle cx="275.4" cy="302.5" r="1.1"/><circle cx="306.5" cy="295.6" r="1.1"/><circle cx="329.5" cy="299.4" r="1.1"/><circle cx="346.3" cy="306.2" r="1.1"/><circle cx="348.1" cy="315.1" r="1.1"/><circle cx="350.4" cy="322.0" r="1.1"/><circle cx="331.7" cy="322.0" r="1.1"/><circle cx="352.4" cy="302.5" r="1.1"/><circle cx="354.6" cy="295.6" r="1.1"/><circle cx="356.9" cy="293.6" r="1.1"/><circle cx="359.0" cy="288.4" r="1.1"/><circle cx="429.9" cy="295.6" r="1.1"/><circle cx="436.9" cy="293.6" r="1.1"/><circle cx="438.3" cy="295.6" r="1.1"/><circle cx="439.7" cy="297.3" r="1.1"/><circle cx="438.5" cy="299.4" r="1.1"/><circle cx="441.2" cy="300.7" r="1.1"/><circle cx="432.6" cy="300.7" r="1.1"/><circle cx="431.4" cy="304.3" r="1.1"/><circle cx="433.1" cy="306.2" r="1.1"/><circle cx="441.4" cy="304.5" r="1.1"/><circle cx="422.2" cy="311.4" r="1.1"/><circle cx="422.5" cy="315.1" r="1.1"/><circle cx="451.5" cy="327.5" r="1.1"/><circle cx="457.5" cy="334.4" r="1.1"/><circle cx="449.2" cy="337.8" r="1.1"/><circle cx="464.4" cy="337.8" r="1.1"/><circle cx="462.8" cy="341.5" r="1.1"/><circle cx="457.3" cy="343.3" r="1.1"/><circle cx="442.6" cy="352.2" r="1.1"/><circle cx="453.5" cy="352.2" r="1.1"/><circle cx="452.9" cy="360.5" r="1.1"/><circle cx="506.7" cy="295.4" r="1.1"/><circle cx="530.3" cy="311.3" r="1.1"/><circle cx="531.4" cy="316.4" r="1.1"/><circle cx="498.7" cy="318.5" r="1.1"/><circle cx="544.9" cy="323.6" r="1.1"/><circle cx="548.1" cy="321.8" r="1.1"/><circle cx="515.9" cy="327.4" r="1.1"/><circle cx="536.0" cy="328.8" r="1.1"/><circle cx="489.3" cy="332.3" r="1.1"/><circle cx="473.4" cy="339.4" r="1.1"/><circle cx="526.8" cy="336.3" r="1.1"/><circle cx="529.1" cy="336.3" r="1.1"/><circle cx="541.4" cy="334.5" r="1.1"/><circle cx="545.4" cy="341.4" r="1.1"/><circle cx="542.3" cy="343.2" r="1.1"/><circle cx="540.0" cy="346.5" r="1.1"/><circle cx="510.0" cy="355.5" r="1.1"/><circle cx="555.2" cy="357.4" r="1.1"/><circle cx="654.4" cy="286.6" r="1.1"/><circle cx="631.4" cy="290.3" r="1.1"/><circle cx="604.4" cy="323.6" r="1.1"/><circle cx="607.9" cy="327.4" r="1.1"/><circle cx="585.3" cy="332.3" r="1.1"/><circle cx="624.5" cy="337.7" r="1.1"/><circle cx="624.5" cy="343.4" r="1.1"/><circle cx="639.5" cy="348.4" r="1.1"/><circle cx="639.5" cy="355.5" r="1.1"/><circle cx="639.8" cy="359.2" r="1.1"/><circle cx="684.9" cy="286.6" r="1.1"/><circle cx="687.2" cy="293.5" r="1.1"/><circle cx="686.6" cy="295.2" r="1.1"/><circle cx="686.6" cy="297.5" r="1.1"/><circle cx="686.6" cy="299.5" r="1.1"/><circle cx="760.1" cy="299.2" r="1.1"/><circle cx="757.8" cy="304.4" r="1.1"/><circle cx="767.4" cy="297.3" r="1.1"/><circle cx="769.3" cy="291.8" r="1.1"/><circle cx="769.3" cy="300.4" r="1.1"/><circle cx="769.3" cy="302.4" r="1.1"/><circle cx="705.4" cy="353.8" r="1.1"/><circle cx="772.5" cy="291.9" r="1.1"/><circle cx="770.8" cy="302.6" r="1.1"/><circle cx="773.6" cy="299.4" r="1.1"/><circle cx="774.2" cy="304.5" r="1.1"/></g><g stroke="#404040" stroke-width="1"><line x1="171" y1="558.5" x2="805" y2="558.5"/><line x1="171.5" y1="559" x2="171.5" y2="106"/><line x1="171.5" y1="558" x2="171.5" y2="567.5"/><line x1="234.5" y1="558" x2="234.5" y2="564"/><line x1="298.5" y1="558" x2="298.5" y2="567.5"/><line x1="361.5" y1="558" x2="361.5" y2="564"/><line x1="424.5" y1="558" x2="424.5" y2="567.5"/><line x1="488.5" y1="558" x2="488.5" y2="564"/><line x1="551.5" y1="558" x2="551.5" y2="567.5"/><line x1="614.5" y1="558" x2="614.5" y2="564"/><line x1="678.5" y1="558" x2="678.5" y2="567.5"/><line x1="741.5" y1="558" x2="741.5" y2="564"/><line x1="804.5" y1="558" x2="804.5" y2="567.5"/><line x1="172" y1="106.5" x2="162.5" y2="106.5"/><line x1="172" y1="163.5" x2="165" y2="163.5"/><line x1="172" y1="219.5" x2="162.5" y2="219.5"/><line x1="172" y1="276.0" x2="165" y2="276.0"/><line x1="172" y1="332.5" x2="162.5" y2="332.5"/><line x1="172" y1="389.0" x2="165" y2="389.0"/><line x1="172" y1="445.5" x2="162.5" y2="445.5"/><line x1="172" y1="502.0" x2="165" y2="502.0"/><line x1="172" y1="558.5" x2="162.5" y2="558.5"/></g><g font-family="Liberation Serif, serif" font-size="18" fill="#000" stroke="#000" stroke-width="0.2"><text transform="translate(171.5,584.8) scale(1,0.95)" text-anchor="middle">0</text><text transform="translate(298.1,584.8) scale(1,0.95)" text-anchor="middle">5</text><text transform="translate(424.7,584.8) scale(1,0.95)" text-anchor="middle">10</text><text transform="translate(551.4,584.8) scale(1,0.95)" text-anchor="middle">15</text><text transform="translate(678.0,584.8) scale(1,0.95)" text-anchor="middle">20</text><text transform="translate(804.6,584.8) scale(1,0.95)" text-anchor="middle">25</text><text transform="translate(158.5,565.3) scale(1,0.95)" text-anchor="end">0.0</text><text transform="translate(158.5,452.3) scale(1,0.95)" text-anchor="end">0.5</text><text transform="translate(158.5,339.3) scale(1,0.95)" text-anchor="end">1.0</text><text transform="translate(158.5,226.3) scale(1,0.95)" text-anchor="end">1.5</text><text transform="translate(158.5,113.3) scale(1,0.95)" text-anchor="end">2.0</text></g><g font-family="Liberation Serif, serif" font-size="20" fill="#000" stroke="#000" stroke-width="0.2"><text transform="translate(488,70.6) scale(1,0.92)" text-anchor="middle">Record:&#160;&#160;m186b</text><text transform="translate(489,635.9) scale(1,0.92)" text-anchor="middle" letter-spacing="0.2">Time (hour)</text><text transform="translate(99.4,333) rotate(-90) scale(1,0.92)" text-anchor="middle" letter-spacing="0.15">RR Interval (second)</text></g>
</svg></body></html>
